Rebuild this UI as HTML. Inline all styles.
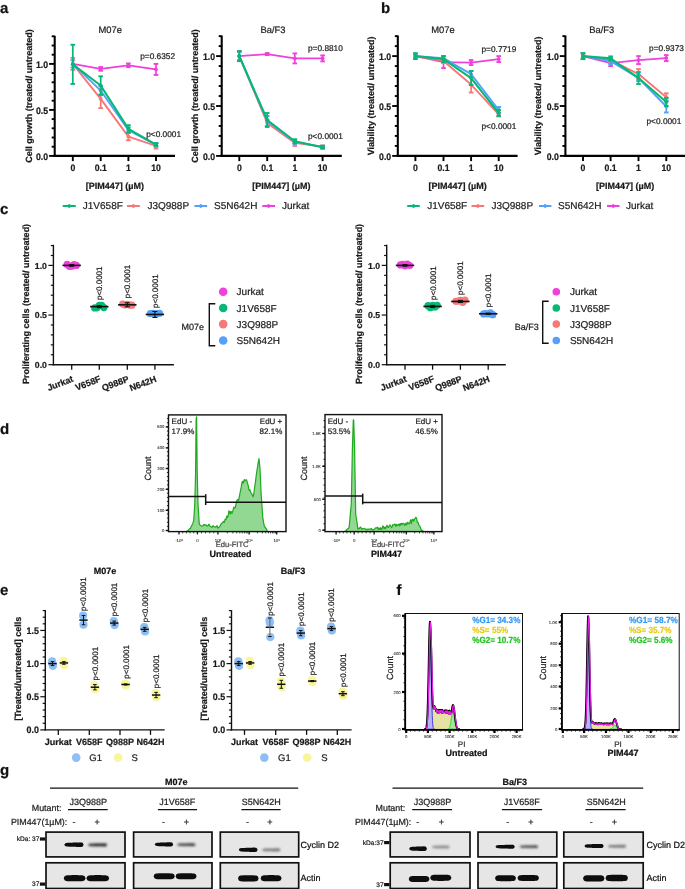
<!DOCTYPE html>
<html><head><meta charset="utf-8"><style>
html,body{margin:0;padding:0;background:#fff;width:685px;height:889px;overflow:hidden}
svg{display:block;font-family:"Liberation Sans",sans-serif;will-change:transform;text-rendering:geometricPrecision}
</style></head><body>
<svg width="685" height="889" viewBox="0 0 685 889">
<text x="0.00" y="12.80" font-size="15" font-weight="bold" text-anchor="start" fill="#111"  stroke="#111" stroke-width="0.22">a</text>
<text x="381.00" y="12.70" font-size="15" font-weight="bold" text-anchor="start" fill="#111"  stroke="#111" stroke-width="0.22">b</text>
<text x="0.00" y="213.60" font-size="15" font-weight="bold" text-anchor="start" fill="#111"  stroke="#111" stroke-width="0.22">c</text>
<text x="0.00" y="433.50" font-size="15" font-weight="bold" text-anchor="start" fill="#111"  stroke="#111" stroke-width="0.22">d</text>
<text x="0.00" y="594.80" font-size="15" font-weight="bold" text-anchor="start" fill="#111"  stroke="#111" stroke-width="0.22">e</text>
<text x="396.50" y="594.50" font-size="15" font-weight="bold" text-anchor="start" fill="#111"  stroke="#111" stroke-width="0.22">f</text>
<text x="0.00" y="775.00" font-size="15" font-weight="bold" text-anchor="start" fill="#111"  stroke="#111" stroke-width="0.22">g</text>
<line x1="54.70" y1="35.80" x2="54.70" y2="156.90" stroke="#000" stroke-width="2.1" />
<line x1="49.10" y1="155.90" x2="54.70" y2="155.90" stroke="#000" stroke-width="1.9" />
<line x1="51.70" y1="146.70" x2="54.70" y2="146.70" stroke="#000" stroke-width="1.9" />
<line x1="51.70" y1="137.50" x2="54.70" y2="137.50" stroke="#000" stroke-width="1.9" />
<line x1="51.70" y1="128.30" x2="54.70" y2="128.30" stroke="#000" stroke-width="1.9" />
<line x1="51.70" y1="119.10" x2="54.70" y2="119.10" stroke="#000" stroke-width="1.9" />
<line x1="49.10" y1="109.90" x2="54.70" y2="109.90" stroke="#000" stroke-width="1.9" />
<line x1="51.70" y1="100.70" x2="54.70" y2="100.70" stroke="#000" stroke-width="1.9" />
<line x1="51.70" y1="91.50" x2="54.70" y2="91.50" stroke="#000" stroke-width="1.9" />
<line x1="51.70" y1="82.30" x2="54.70" y2="82.30" stroke="#000" stroke-width="1.9" />
<line x1="51.70" y1="73.10" x2="54.70" y2="73.10" stroke="#000" stroke-width="1.9" />
<line x1="49.10" y1="63.90" x2="54.70" y2="63.90" stroke="#000" stroke-width="1.9" />
<line x1="51.70" y1="54.70" x2="54.70" y2="54.70" stroke="#000" stroke-width="1.9" />
<line x1="51.70" y1="45.50" x2="54.70" y2="45.50" stroke="#000" stroke-width="1.9" />
<line x1="51.70" y1="36.30" x2="54.70" y2="36.30" stroke="#000" stroke-width="1.9" />
<text transform="translate(48.10,159.50) scale(0.92,1)" font-size="9.5" font-weight="bold" text-anchor="end" fill="#1a1a1a" stroke="#1a1a1a" stroke-width="0.22">0.0</text>
<text transform="translate(48.10,113.50) scale(0.92,1)" font-size="9.5" font-weight="bold" text-anchor="end" fill="#1a1a1a" stroke="#1a1a1a" stroke-width="0.22">0.5</text>
<text transform="translate(48.10,67.50) scale(0.92,1)" font-size="9.5" font-weight="bold" text-anchor="end" fill="#1a1a1a" stroke="#1a1a1a" stroke-width="0.22">1.0</text>
<line x1="53.70" y1="155.90" x2="175.00" y2="155.90" stroke="#000" stroke-width="2.1" />
<line x1="72.80" y1="155.90" x2="72.80" y2="161.10" stroke="#000" stroke-width="1.9" />
<text transform="translate(72.80,171.30) scale(0.93,1)" font-size="9.3" font-weight="bold" text-anchor="middle" fill="#1a1a1a" stroke="#1a1a1a" stroke-width="0.22">0</text>
<line x1="100.70" y1="155.90" x2="100.70" y2="161.10" stroke="#000" stroke-width="1.9" />
<text transform="translate(100.70,171.30) scale(0.93,1)" font-size="9.3" font-weight="bold" text-anchor="middle" fill="#1a1a1a" stroke="#1a1a1a" stroke-width="0.22">0.1</text>
<line x1="128.40" y1="155.90" x2="128.40" y2="161.10" stroke="#000" stroke-width="1.9" />
<text transform="translate(128.40,171.30) scale(0.93,1)" font-size="9.3" font-weight="bold" text-anchor="middle" fill="#1a1a1a" stroke="#1a1a1a" stroke-width="0.22">1</text>
<line x1="156.00" y1="155.90" x2="156.00" y2="161.10" stroke="#000" stroke-width="1.9" />
<text transform="translate(156.00,171.30) scale(0.93,1)" font-size="9.3" font-weight="bold" text-anchor="middle" fill="#1a1a1a" stroke="#1a1a1a" stroke-width="0.22">10</text>
<text x="114.90" y="188.50" font-size="9" font-weight="bold" text-anchor="middle" fill="#1a1a1a"  stroke="#1a1a1a" stroke-width="0.22">[PIM447] (µM)</text>
<text x="110.20" y="32.60" font-size="9.4" font-weight="normal" text-anchor="middle" fill="#222"  stroke="#222" stroke-width="0.22">M07e</text>
<text transform="translate(28.60,96.05) rotate(-90)" x="0" y="3.15" font-size="9" font-weight="bold" text-anchor="middle" fill="#1a1a1a" stroke="#1a1a1a" stroke-width="0.22">Cell growth (treated/ untreated)</text>
<path d="M72.80,63.90 L100.70,68.87 L128.40,65.28 L156.00,69.42" fill="none" stroke="#f040dc" stroke-width="1.8" stroke-linejoin="round"/>
<circle cx="72.80" cy="63.90" r="1.9" fill="#f040dc"/>
<line x1="100.70" y1="67.03" x2="100.70" y2="70.71" stroke="#f040dc" stroke-width="1.7" />
<line x1="98.40" y1="67.03" x2="103.00" y2="67.03" stroke="#f040dc" stroke-width="1.9" />
<line x1="98.40" y1="70.71" x2="103.00" y2="70.71" stroke="#f040dc" stroke-width="1.9" />
<circle cx="100.70" cy="68.87" r="1.9" fill="#f040dc"/>
<line x1="128.40" y1="63.44" x2="128.40" y2="67.12" stroke="#f040dc" stroke-width="1.7" />
<line x1="126.10" y1="63.44" x2="130.70" y2="63.44" stroke="#f040dc" stroke-width="1.9" />
<line x1="126.10" y1="67.12" x2="130.70" y2="67.12" stroke="#f040dc" stroke-width="1.9" />
<circle cx="128.40" cy="65.28" r="1.9" fill="#f040dc"/>
<line x1="156.00" y1="63.90" x2="156.00" y2="74.94" stroke="#f040dc" stroke-width="1.7" />
<line x1="153.70" y1="63.90" x2="158.30" y2="63.90" stroke="#f040dc" stroke-width="1.9" />
<line x1="153.70" y1="74.94" x2="158.30" y2="74.94" stroke="#f040dc" stroke-width="1.9" />
<circle cx="156.00" cy="69.42" r="1.9" fill="#f040dc"/>
<path d="M72.80,63.90 L100.70,98.86 L128.40,136.58 L156.00,145.78" fill="none" stroke="#f87777" stroke-width="1.9" stroke-linejoin="round"/>
<line x1="72.80" y1="57.92" x2="72.80" y2="69.88" stroke="#f87777" stroke-width="1.7" />
<line x1="70.50" y1="57.92" x2="75.10" y2="57.92" stroke="#f87777" stroke-width="1.9" />
<line x1="70.50" y1="69.88" x2="75.10" y2="69.88" stroke="#f87777" stroke-width="1.9" />
<circle cx="72.80" cy="63.90" r="1.9" fill="#f87777"/>
<line x1="100.70" y1="89.66" x2="100.70" y2="108.06" stroke="#f87777" stroke-width="1.7" />
<line x1="98.40" y1="89.66" x2="103.00" y2="89.66" stroke="#f87777" stroke-width="1.9" />
<line x1="98.40" y1="108.06" x2="103.00" y2="108.06" stroke="#f87777" stroke-width="1.9" />
<circle cx="100.70" cy="98.86" r="1.9" fill="#f87777"/>
<line x1="128.40" y1="132.90" x2="128.40" y2="140.26" stroke="#f87777" stroke-width="1.7" />
<line x1="126.10" y1="132.90" x2="130.70" y2="132.90" stroke="#f87777" stroke-width="1.9" />
<line x1="126.10" y1="140.26" x2="130.70" y2="140.26" stroke="#f87777" stroke-width="1.9" />
<circle cx="128.40" cy="136.58" r="1.9" fill="#f87777"/>
<line x1="156.00" y1="143.02" x2="156.00" y2="148.54" stroke="#f87777" stroke-width="1.7" />
<line x1="153.70" y1="143.02" x2="158.30" y2="143.02" stroke="#f87777" stroke-width="1.9" />
<line x1="153.70" y1="148.54" x2="158.30" y2="148.54" stroke="#f87777" stroke-width="1.9" />
<circle cx="156.00" cy="145.78" r="1.9" fill="#f87777"/>
<path d="M72.80,63.90 L100.70,90.58 L128.40,130.14 L156.00,144.86" fill="none" stroke="#55a0fb" stroke-width="1.9" stroke-linejoin="round"/>
<line x1="72.80" y1="60.22" x2="72.80" y2="67.58" stroke="#55a0fb" stroke-width="1.7" />
<line x1="70.50" y1="60.22" x2="75.10" y2="60.22" stroke="#55a0fb" stroke-width="1.9" />
<line x1="70.50" y1="67.58" x2="75.10" y2="67.58" stroke="#55a0fb" stroke-width="1.9" />
<circle cx="72.80" cy="63.90" r="1.9" fill="#55a0fb"/>
<line x1="100.70" y1="85.98" x2="100.70" y2="95.18" stroke="#55a0fb" stroke-width="1.7" />
<line x1="98.40" y1="85.98" x2="103.00" y2="85.98" stroke="#55a0fb" stroke-width="1.9" />
<line x1="98.40" y1="95.18" x2="103.00" y2="95.18" stroke="#55a0fb" stroke-width="1.9" />
<circle cx="100.70" cy="90.58" r="1.9" fill="#55a0fb"/>
<line x1="128.40" y1="127.38" x2="128.40" y2="132.90" stroke="#55a0fb" stroke-width="1.7" />
<line x1="126.10" y1="127.38" x2="130.70" y2="127.38" stroke="#55a0fb" stroke-width="1.9" />
<line x1="126.10" y1="132.90" x2="130.70" y2="132.90" stroke="#55a0fb" stroke-width="1.9" />
<circle cx="128.40" cy="130.14" r="1.9" fill="#55a0fb"/>
<line x1="156.00" y1="143.02" x2="156.00" y2="146.70" stroke="#55a0fb" stroke-width="1.7" />
<line x1="153.70" y1="143.02" x2="158.30" y2="143.02" stroke="#55a0fb" stroke-width="1.9" />
<line x1="153.70" y1="146.70" x2="158.30" y2="146.70" stroke="#55a0fb" stroke-width="1.9" />
<circle cx="156.00" cy="144.86" r="1.9" fill="#55a0fb"/>
<path d="M72.80,64.36 L100.70,85.52 L128.40,128.85 L156.00,144.58" fill="none" stroke="#07b874" stroke-width="2.1" stroke-linejoin="round"/>
<line x1="72.80" y1="44.76" x2="72.80" y2="83.96" stroke="#07b874" stroke-width="1.7" />
<line x1="70.50" y1="44.76" x2="75.10" y2="44.76" stroke="#07b874" stroke-width="1.9" />
<line x1="70.50" y1="83.96" x2="75.10" y2="83.96" stroke="#07b874" stroke-width="1.9" />
<circle cx="72.80" cy="64.36" r="1.9" fill="#07b874"/>
<line x1="100.70" y1="76.32" x2="100.70" y2="94.72" stroke="#07b874" stroke-width="1.7" />
<line x1="98.40" y1="76.32" x2="103.00" y2="76.32" stroke="#07b874" stroke-width="1.9" />
<line x1="98.40" y1="94.72" x2="103.00" y2="94.72" stroke="#07b874" stroke-width="1.9" />
<circle cx="100.70" cy="85.52" r="1.9" fill="#07b874"/>
<line x1="128.40" y1="125.17" x2="128.40" y2="132.53" stroke="#07b874" stroke-width="1.7" />
<line x1="126.10" y1="125.17" x2="130.70" y2="125.17" stroke="#07b874" stroke-width="1.9" />
<line x1="126.10" y1="132.53" x2="130.70" y2="132.53" stroke="#07b874" stroke-width="1.9" />
<circle cx="128.40" cy="128.85" r="1.9" fill="#07b874"/>
<line x1="156.00" y1="143.20" x2="156.00" y2="145.96" stroke="#07b874" stroke-width="1.7" />
<line x1="153.70" y1="143.20" x2="158.30" y2="143.20" stroke="#07b874" stroke-width="1.9" />
<line x1="153.70" y1="145.96" x2="158.30" y2="145.96" stroke="#07b874" stroke-width="1.9" />
<circle cx="156.00" cy="144.58" r="1.9" fill="#07b874"/>
<text x="140.20" y="59.30" font-size="8.3" font-weight="normal" text-anchor="start" fill="#222"  stroke="#222" stroke-width="0.22">p=0.6352</text>
<text x="146.20" y="136.70" font-size="8.3" font-weight="normal" text-anchor="start" fill="#222"  stroke="#222" stroke-width="0.22">p&lt;0.0001</text>
<line x1="221.70" y1="35.50" x2="221.70" y2="156.90" stroke="#000" stroke-width="2.1" />
<line x1="216.10" y1="155.90" x2="221.70" y2="155.90" stroke="#000" stroke-width="1.9" />
<line x1="218.70" y1="145.92" x2="221.70" y2="145.92" stroke="#000" stroke-width="1.9" />
<line x1="218.70" y1="135.94" x2="221.70" y2="135.94" stroke="#000" stroke-width="1.9" />
<line x1="218.70" y1="125.96" x2="221.70" y2="125.96" stroke="#000" stroke-width="1.9" />
<line x1="218.70" y1="115.98" x2="221.70" y2="115.98" stroke="#000" stroke-width="1.9" />
<line x1="216.10" y1="106.00" x2="221.70" y2="106.00" stroke="#000" stroke-width="1.9" />
<line x1="218.70" y1="96.02" x2="221.70" y2="96.02" stroke="#000" stroke-width="1.9" />
<line x1="218.70" y1="86.04" x2="221.70" y2="86.04" stroke="#000" stroke-width="1.9" />
<line x1="218.70" y1="76.06" x2="221.70" y2="76.06" stroke="#000" stroke-width="1.9" />
<line x1="218.70" y1="66.08" x2="221.70" y2="66.08" stroke="#000" stroke-width="1.9" />
<line x1="216.10" y1="56.10" x2="221.70" y2="56.10" stroke="#000" stroke-width="1.9" />
<line x1="218.70" y1="46.12" x2="221.70" y2="46.12" stroke="#000" stroke-width="1.9" />
<line x1="218.70" y1="36.14" x2="221.70" y2="36.14" stroke="#000" stroke-width="1.9" />
<text transform="translate(215.10,159.50) scale(0.92,1)" font-size="9.5" font-weight="bold" text-anchor="end" fill="#1a1a1a" stroke="#1a1a1a" stroke-width="0.22">0.0</text>
<text transform="translate(215.10,109.60) scale(0.92,1)" font-size="9.5" font-weight="bold" text-anchor="end" fill="#1a1a1a" stroke="#1a1a1a" stroke-width="0.22">0.5</text>
<text transform="translate(215.10,59.70) scale(0.92,1)" font-size="9.5" font-weight="bold" text-anchor="end" fill="#1a1a1a" stroke="#1a1a1a" stroke-width="0.22">1.0</text>
<line x1="220.70" y1="155.90" x2="341.80" y2="155.90" stroke="#000" stroke-width="2.1" />
<line x1="239.30" y1="155.90" x2="239.30" y2="161.10" stroke="#000" stroke-width="1.9" />
<text transform="translate(239.30,171.30) scale(0.93,1)" font-size="9.3" font-weight="bold" text-anchor="middle" fill="#1a1a1a" stroke="#1a1a1a" stroke-width="0.22">0</text>
<line x1="267.20" y1="155.90" x2="267.20" y2="161.10" stroke="#000" stroke-width="1.9" />
<text transform="translate(267.20,171.30) scale(0.93,1)" font-size="9.3" font-weight="bold" text-anchor="middle" fill="#1a1a1a" stroke="#1a1a1a" stroke-width="0.22">0.1</text>
<line x1="294.80" y1="155.90" x2="294.80" y2="161.10" stroke="#000" stroke-width="1.9" />
<text transform="translate(294.80,171.30) scale(0.93,1)" font-size="9.3" font-weight="bold" text-anchor="middle" fill="#1a1a1a" stroke="#1a1a1a" stroke-width="0.22">1</text>
<line x1="322.60" y1="155.90" x2="322.60" y2="161.10" stroke="#000" stroke-width="1.9" />
<text transform="translate(322.60,171.30) scale(0.93,1)" font-size="9.3" font-weight="bold" text-anchor="middle" fill="#1a1a1a" stroke="#1a1a1a" stroke-width="0.22">10</text>
<text x="281.45" y="188.50" font-size="9" font-weight="bold" text-anchor="middle" fill="#1a1a1a"  stroke="#1a1a1a" stroke-width="0.22">[PIM447] (µM)</text>
<text x="273.00" y="32.60" font-size="9.4" font-weight="normal" text-anchor="middle" fill="#222"  stroke="#222" stroke-width="0.22">Ba/F3</text>
<text transform="translate(194.50,95.90) rotate(-90)" x="0" y="3.15" font-size="9" font-weight="bold" text-anchor="middle" fill="#1a1a1a" stroke="#1a1a1a" stroke-width="0.22">Cell growth (treated/ untreated)</text>
<path d="M239.30,56.10 L267.20,54.10 L294.80,58.40 L322.60,58.40" fill="none" stroke="#f040dc" stroke-width="1.8" stroke-linejoin="round"/>
<circle cx="239.30" cy="56.10" r="1.9" fill="#f040dc"/>
<line x1="267.20" y1="53.11" x2="267.20" y2="55.10" stroke="#f040dc" stroke-width="1.7" />
<line x1="264.90" y1="53.11" x2="269.50" y2="53.11" stroke="#f040dc" stroke-width="1.9" />
<line x1="264.90" y1="55.10" x2="269.50" y2="55.10" stroke="#f040dc" stroke-width="1.9" />
<circle cx="267.20" cy="54.10" r="1.9" fill="#f040dc"/>
<line x1="294.80" y1="53.41" x2="294.80" y2="63.39" stroke="#f040dc" stroke-width="1.7" />
<line x1="292.50" y1="53.41" x2="297.10" y2="53.41" stroke="#f040dc" stroke-width="1.9" />
<line x1="292.50" y1="63.39" x2="297.10" y2="63.39" stroke="#f040dc" stroke-width="1.9" />
<circle cx="294.80" cy="58.40" r="1.9" fill="#f040dc"/>
<line x1="322.60" y1="55.40" x2="322.60" y2="61.39" stroke="#f040dc" stroke-width="1.7" />
<line x1="320.30" y1="55.40" x2="324.90" y2="55.40" stroke="#f040dc" stroke-width="1.9" />
<line x1="320.30" y1="61.39" x2="324.90" y2="61.39" stroke="#f040dc" stroke-width="1.9" />
<circle cx="322.60" cy="58.40" r="1.9" fill="#f040dc"/>
<path d="M239.30,56.10 L267.20,122.97 L294.80,142.93 L322.60,146.92" fill="none" stroke="#f87777" stroke-width="1.9" stroke-linejoin="round"/>
<line x1="239.30" y1="51.11" x2="239.30" y2="61.09" stroke="#f87777" stroke-width="1.7" />
<line x1="237.00" y1="51.11" x2="241.60" y2="51.11" stroke="#f87777" stroke-width="1.9" />
<line x1="237.00" y1="61.09" x2="241.60" y2="61.09" stroke="#f87777" stroke-width="1.9" />
<circle cx="239.30" cy="56.10" r="1.9" fill="#f87777"/>
<line x1="267.20" y1="119.97" x2="267.20" y2="125.96" stroke="#f87777" stroke-width="1.7" />
<line x1="264.90" y1="119.97" x2="269.50" y2="119.97" stroke="#f87777" stroke-width="1.9" />
<line x1="264.90" y1="125.96" x2="269.50" y2="125.96" stroke="#f87777" stroke-width="1.9" />
<circle cx="267.20" cy="122.97" r="1.9" fill="#f87777"/>
<line x1="294.80" y1="139.93" x2="294.80" y2="145.92" stroke="#f87777" stroke-width="1.7" />
<line x1="292.50" y1="139.93" x2="297.10" y2="139.93" stroke="#f87777" stroke-width="1.9" />
<line x1="292.50" y1="145.92" x2="297.10" y2="145.92" stroke="#f87777" stroke-width="1.9" />
<circle cx="294.80" cy="142.93" r="1.9" fill="#f87777"/>
<line x1="322.60" y1="145.42" x2="322.60" y2="148.42" stroke="#f87777" stroke-width="1.7" />
<line x1="320.30" y1="145.42" x2="324.90" y2="145.42" stroke="#f87777" stroke-width="1.9" />
<line x1="320.30" y1="148.42" x2="324.90" y2="148.42" stroke="#f87777" stroke-width="1.9" />
<circle cx="322.60" cy="146.92" r="1.9" fill="#f87777"/>
<path d="M239.30,56.10 L267.20,120.97 L294.80,141.93 L322.60,146.92" fill="none" stroke="#55a0fb" stroke-width="1.9" stroke-linejoin="round"/>
<line x1="239.30" y1="52.11" x2="239.30" y2="60.09" stroke="#55a0fb" stroke-width="1.7" />
<line x1="237.00" y1="52.11" x2="241.60" y2="52.11" stroke="#55a0fb" stroke-width="1.9" />
<line x1="237.00" y1="60.09" x2="241.60" y2="60.09" stroke="#55a0fb" stroke-width="1.9" />
<circle cx="239.30" cy="56.10" r="1.9" fill="#55a0fb"/>
<line x1="267.20" y1="115.98" x2="267.20" y2="125.96" stroke="#55a0fb" stroke-width="1.7" />
<line x1="264.90" y1="115.98" x2="269.50" y2="115.98" stroke="#55a0fb" stroke-width="1.9" />
<line x1="264.90" y1="125.96" x2="269.50" y2="125.96" stroke="#55a0fb" stroke-width="1.9" />
<circle cx="267.20" cy="120.97" r="1.9" fill="#55a0fb"/>
<line x1="294.80" y1="139.93" x2="294.80" y2="143.92" stroke="#55a0fb" stroke-width="1.7" />
<line x1="292.50" y1="139.93" x2="297.10" y2="139.93" stroke="#55a0fb" stroke-width="1.9" />
<line x1="292.50" y1="143.92" x2="297.10" y2="143.92" stroke="#55a0fb" stroke-width="1.9" />
<circle cx="294.80" cy="141.93" r="1.9" fill="#55a0fb"/>
<line x1="322.60" y1="145.92" x2="322.60" y2="147.92" stroke="#55a0fb" stroke-width="1.7" />
<line x1="320.30" y1="145.92" x2="324.90" y2="145.92" stroke="#55a0fb" stroke-width="1.9" />
<line x1="320.30" y1="147.92" x2="324.90" y2="147.92" stroke="#55a0fb" stroke-width="1.9" />
<circle cx="322.60" cy="146.92" r="1.9" fill="#55a0fb"/>
<path d="M239.30,56.10 L267.20,119.97 L294.80,141.23 L322.60,147.22" fill="none" stroke="#07b874" stroke-width="2.1" stroke-linejoin="round"/>
<line x1="239.30" y1="51.11" x2="239.30" y2="61.09" stroke="#07b874" stroke-width="1.7" />
<line x1="237.00" y1="51.11" x2="241.60" y2="51.11" stroke="#07b874" stroke-width="1.9" />
<line x1="237.00" y1="61.09" x2="241.60" y2="61.09" stroke="#07b874" stroke-width="1.9" />
<circle cx="239.30" cy="56.10" r="1.9" fill="#07b874"/>
<line x1="267.20" y1="112.99" x2="267.20" y2="126.96" stroke="#07b874" stroke-width="1.7" />
<line x1="264.90" y1="112.99" x2="269.50" y2="112.99" stroke="#07b874" stroke-width="1.9" />
<line x1="264.90" y1="126.96" x2="269.50" y2="126.96" stroke="#07b874" stroke-width="1.9" />
<circle cx="267.20" cy="119.97" r="1.9" fill="#07b874"/>
<line x1="294.80" y1="139.23" x2="294.80" y2="143.23" stroke="#07b874" stroke-width="1.7" />
<line x1="292.50" y1="139.23" x2="297.10" y2="139.23" stroke="#07b874" stroke-width="1.9" />
<line x1="292.50" y1="143.23" x2="297.10" y2="143.23" stroke="#07b874" stroke-width="1.9" />
<circle cx="294.80" cy="141.23" r="1.9" fill="#07b874"/>
<line x1="322.60" y1="145.72" x2="322.60" y2="148.71" stroke="#07b874" stroke-width="1.7" />
<line x1="320.30" y1="145.72" x2="324.90" y2="145.72" stroke="#07b874" stroke-width="1.9" />
<line x1="320.30" y1="148.71" x2="324.90" y2="148.71" stroke="#07b874" stroke-width="1.9" />
<circle cx="322.60" cy="147.22" r="1.9" fill="#07b874"/>
<text x="308.00" y="50.50" font-size="8.3" font-weight="normal" text-anchor="start" fill="#222"  stroke="#222" stroke-width="0.22">p=0.8810</text>
<text x="308.00" y="139.40" font-size="8.3" font-weight="normal" text-anchor="start" fill="#222"  stroke="#222" stroke-width="0.22">p&lt;0.0001</text>
<line x1="397.80" y1="35.50" x2="397.80" y2="156.90" stroke="#000" stroke-width="2.1" />
<line x1="392.20" y1="155.90" x2="397.80" y2="155.90" stroke="#000" stroke-width="1.9" />
<line x1="394.80" y1="145.92" x2="397.80" y2="145.92" stroke="#000" stroke-width="1.9" />
<line x1="394.80" y1="135.94" x2="397.80" y2="135.94" stroke="#000" stroke-width="1.9" />
<line x1="394.80" y1="125.96" x2="397.80" y2="125.96" stroke="#000" stroke-width="1.9" />
<line x1="394.80" y1="115.98" x2="397.80" y2="115.98" stroke="#000" stroke-width="1.9" />
<line x1="392.20" y1="106.00" x2="397.80" y2="106.00" stroke="#000" stroke-width="1.9" />
<line x1="394.80" y1="96.02" x2="397.80" y2="96.02" stroke="#000" stroke-width="1.9" />
<line x1="394.80" y1="86.04" x2="397.80" y2="86.04" stroke="#000" stroke-width="1.9" />
<line x1="394.80" y1="76.06" x2="397.80" y2="76.06" stroke="#000" stroke-width="1.9" />
<line x1="394.80" y1="66.08" x2="397.80" y2="66.08" stroke="#000" stroke-width="1.9" />
<line x1="392.20" y1="56.10" x2="397.80" y2="56.10" stroke="#000" stroke-width="1.9" />
<line x1="394.80" y1="46.12" x2="397.80" y2="46.12" stroke="#000" stroke-width="1.9" />
<line x1="394.80" y1="36.14" x2="397.80" y2="36.14" stroke="#000" stroke-width="1.9" />
<text transform="translate(391.20,159.50) scale(0.92,1)" font-size="9.5" font-weight="bold" text-anchor="end" fill="#1a1a1a" stroke="#1a1a1a" stroke-width="0.22">0.0</text>
<text transform="translate(391.20,109.60) scale(0.92,1)" font-size="9.5" font-weight="bold" text-anchor="end" fill="#1a1a1a" stroke="#1a1a1a" stroke-width="0.22">0.5</text>
<text transform="translate(391.20,59.70) scale(0.92,1)" font-size="9.5" font-weight="bold" text-anchor="end" fill="#1a1a1a" stroke="#1a1a1a" stroke-width="0.22">1.0</text>
<line x1="396.80" y1="155.90" x2="517.60" y2="155.90" stroke="#000" stroke-width="2.1" />
<line x1="415.40" y1="155.90" x2="415.40" y2="161.10" stroke="#000" stroke-width="1.9" />
<text transform="translate(415.40,171.30) scale(0.93,1)" font-size="9.3" font-weight="bold" text-anchor="middle" fill="#1a1a1a" stroke="#1a1a1a" stroke-width="0.22">0</text>
<line x1="443.50" y1="155.90" x2="443.50" y2="161.10" stroke="#000" stroke-width="1.9" />
<text transform="translate(443.50,171.30) scale(0.93,1)" font-size="9.3" font-weight="bold" text-anchor="middle" fill="#1a1a1a" stroke="#1a1a1a" stroke-width="0.22">0.1</text>
<line x1="471.10" y1="155.90" x2="471.10" y2="161.10" stroke="#000" stroke-width="1.9" />
<text transform="translate(471.10,171.30) scale(0.93,1)" font-size="9.3" font-weight="bold" text-anchor="middle" fill="#1a1a1a" stroke="#1a1a1a" stroke-width="0.22">1</text>
<line x1="498.70" y1="155.90" x2="498.70" y2="161.10" stroke="#000" stroke-width="1.9" />
<text transform="translate(498.70,171.30) scale(0.93,1)" font-size="9.3" font-weight="bold" text-anchor="middle" fill="#1a1a1a" stroke="#1a1a1a" stroke-width="0.22">10</text>
<text x="457.55" y="188.50" font-size="9" font-weight="bold" text-anchor="middle" fill="#1a1a1a"  stroke="#1a1a1a" stroke-width="0.22">[PIM447] (µM)</text>
<text x="443.00" y="32.60" font-size="9.4" font-weight="normal" text-anchor="middle" fill="#222"  stroke="#222" stroke-width="0.22">M07e</text>
<text transform="translate(371.00,95.90) rotate(-90)" x="0" y="3.15" font-size="9" font-weight="bold" text-anchor="middle" fill="#1a1a1a" stroke="#1a1a1a" stroke-width="0.22">Viability (treated/ untreated)</text>
<path d="M415.40,56.10 L443.50,62.09 L471.10,62.59 L498.70,59.09" fill="none" stroke="#f040dc" stroke-width="1.8" stroke-linejoin="round"/>
<circle cx="415.40" cy="56.10" r="1.9" fill="#f040dc"/>
<line x1="443.50" y1="56.10" x2="443.50" y2="68.08" stroke="#f040dc" stroke-width="1.7" />
<line x1="441.20" y1="56.10" x2="445.80" y2="56.10" stroke="#f040dc" stroke-width="1.9" />
<line x1="441.20" y1="68.08" x2="445.80" y2="68.08" stroke="#f040dc" stroke-width="1.9" />
<circle cx="443.50" cy="62.09" r="1.9" fill="#f040dc"/>
<line x1="471.10" y1="60.09" x2="471.10" y2="65.08" stroke="#f040dc" stroke-width="1.7" />
<line x1="468.80" y1="60.09" x2="473.40" y2="60.09" stroke="#f040dc" stroke-width="1.9" />
<line x1="468.80" y1="65.08" x2="473.40" y2="65.08" stroke="#f040dc" stroke-width="1.9" />
<circle cx="471.10" cy="62.59" r="1.9" fill="#f040dc"/>
<line x1="498.70" y1="56.10" x2="498.70" y2="62.09" stroke="#f040dc" stroke-width="1.7" />
<line x1="496.40" y1="56.10" x2="501.00" y2="56.10" stroke="#f040dc" stroke-width="1.9" />
<line x1="496.40" y1="62.09" x2="501.00" y2="62.09" stroke="#f040dc" stroke-width="1.9" />
<circle cx="498.70" cy="59.09" r="1.9" fill="#f040dc"/>
<path d="M415.40,56.10 L443.50,61.09 L471.10,84.54 L498.70,114.48" fill="none" stroke="#f87777" stroke-width="1.9" stroke-linejoin="round"/>
<line x1="415.40" y1="54.10" x2="415.40" y2="58.10" stroke="#f87777" stroke-width="1.7" />
<line x1="413.10" y1="54.10" x2="417.70" y2="54.10" stroke="#f87777" stroke-width="1.9" />
<line x1="413.10" y1="58.10" x2="417.70" y2="58.10" stroke="#f87777" stroke-width="1.9" />
<circle cx="415.40" cy="56.10" r="1.9" fill="#f87777"/>
<line x1="443.50" y1="59.09" x2="443.50" y2="63.09" stroke="#f87777" stroke-width="1.7" />
<line x1="441.20" y1="59.09" x2="445.80" y2="59.09" stroke="#f87777" stroke-width="1.9" />
<line x1="441.20" y1="63.09" x2="445.80" y2="63.09" stroke="#f87777" stroke-width="1.9" />
<circle cx="443.50" cy="61.09" r="1.9" fill="#f87777"/>
<line x1="471.10" y1="76.56" x2="471.10" y2="92.53" stroke="#f87777" stroke-width="1.7" />
<line x1="468.80" y1="76.56" x2="473.40" y2="76.56" stroke="#f87777" stroke-width="1.9" />
<line x1="468.80" y1="92.53" x2="473.40" y2="92.53" stroke="#f87777" stroke-width="1.9" />
<circle cx="471.10" cy="84.54" r="1.9" fill="#f87777"/>
<line x1="498.70" y1="112.49" x2="498.70" y2="116.48" stroke="#f87777" stroke-width="1.7" />
<line x1="496.40" y1="112.49" x2="501.00" y2="112.49" stroke="#f87777" stroke-width="1.9" />
<line x1="496.40" y1="116.48" x2="501.00" y2="116.48" stroke="#f87777" stroke-width="1.9" />
<circle cx="498.70" cy="114.48" r="1.9" fill="#f87777"/>
<path d="M415.40,56.10 L443.50,58.10 L471.10,74.06 L498.70,109.99" fill="none" stroke="#55a0fb" stroke-width="1.9" stroke-linejoin="round"/>
<line x1="415.40" y1="54.10" x2="415.40" y2="58.10" stroke="#55a0fb" stroke-width="1.7" />
<line x1="413.10" y1="54.10" x2="417.70" y2="54.10" stroke="#55a0fb" stroke-width="1.9" />
<line x1="413.10" y1="58.10" x2="417.70" y2="58.10" stroke="#55a0fb" stroke-width="1.9" />
<circle cx="415.40" cy="56.10" r="1.9" fill="#55a0fb"/>
<line x1="443.50" y1="56.10" x2="443.50" y2="60.09" stroke="#55a0fb" stroke-width="1.7" />
<line x1="441.20" y1="56.10" x2="445.80" y2="56.10" stroke="#55a0fb" stroke-width="1.9" />
<line x1="441.20" y1="60.09" x2="445.80" y2="60.09" stroke="#55a0fb" stroke-width="1.9" />
<circle cx="443.50" cy="58.10" r="1.9" fill="#55a0fb"/>
<line x1="471.10" y1="71.07" x2="471.10" y2="77.06" stroke="#55a0fb" stroke-width="1.7" />
<line x1="468.80" y1="71.07" x2="473.40" y2="71.07" stroke="#55a0fb" stroke-width="1.9" />
<line x1="468.80" y1="77.06" x2="473.40" y2="77.06" stroke="#55a0fb" stroke-width="1.9" />
<circle cx="471.10" cy="74.06" r="1.9" fill="#55a0fb"/>
<line x1="498.70" y1="107.00" x2="498.70" y2="112.99" stroke="#55a0fb" stroke-width="1.7" />
<line x1="496.40" y1="107.00" x2="501.00" y2="107.00" stroke="#55a0fb" stroke-width="1.9" />
<line x1="496.40" y1="112.99" x2="501.00" y2="112.99" stroke="#55a0fb" stroke-width="1.9" />
<circle cx="498.70" cy="109.99" r="1.9" fill="#55a0fb"/>
<path d="M415.40,56.10 L443.50,59.09 L471.10,78.06 L498.70,112.99" fill="none" stroke="#07b874" stroke-width="2.1" stroke-linejoin="round"/>
<line x1="415.40" y1="53.11" x2="415.40" y2="59.09" stroke="#07b874" stroke-width="1.7" />
<line x1="413.10" y1="53.11" x2="417.70" y2="53.11" stroke="#07b874" stroke-width="1.9" />
<line x1="413.10" y1="59.09" x2="417.70" y2="59.09" stroke="#07b874" stroke-width="1.9" />
<circle cx="415.40" cy="56.10" r="1.9" fill="#07b874"/>
<line x1="443.50" y1="56.10" x2="443.50" y2="62.09" stroke="#07b874" stroke-width="1.7" />
<line x1="441.20" y1="56.10" x2="445.80" y2="56.10" stroke="#07b874" stroke-width="1.9" />
<line x1="441.20" y1="62.09" x2="445.80" y2="62.09" stroke="#07b874" stroke-width="1.9" />
<circle cx="443.50" cy="59.09" r="1.9" fill="#07b874"/>
<line x1="471.10" y1="71.07" x2="471.10" y2="85.04" stroke="#07b874" stroke-width="1.7" />
<line x1="468.80" y1="71.07" x2="473.40" y2="71.07" stroke="#07b874" stroke-width="1.9" />
<line x1="468.80" y1="85.04" x2="473.40" y2="85.04" stroke="#07b874" stroke-width="1.9" />
<circle cx="471.10" cy="78.06" r="1.9" fill="#07b874"/>
<line x1="498.70" y1="109.99" x2="498.70" y2="115.98" stroke="#07b874" stroke-width="1.7" />
<line x1="496.40" y1="109.99" x2="501.00" y2="109.99" stroke="#07b874" stroke-width="1.9" />
<line x1="496.40" y1="115.98" x2="501.00" y2="115.98" stroke="#07b874" stroke-width="1.9" />
<circle cx="498.70" cy="112.99" r="1.9" fill="#07b874"/>
<text x="481.50" y="52.10" font-size="8.3" font-weight="normal" text-anchor="start" fill="#222"  stroke="#222" stroke-width="0.22">p=0.7719</text>
<text x="481.50" y="128.80" font-size="8.3" font-weight="normal" text-anchor="start" fill="#222"  stroke="#222" stroke-width="0.22">p&lt;0.0001</text>
<line x1="565.40" y1="35.50" x2="565.40" y2="156.90" stroke="#000" stroke-width="2.1" />
<line x1="559.80" y1="155.90" x2="565.40" y2="155.90" stroke="#000" stroke-width="1.9" />
<line x1="562.40" y1="145.92" x2="565.40" y2="145.92" stroke="#000" stroke-width="1.9" />
<line x1="562.40" y1="135.94" x2="565.40" y2="135.94" stroke="#000" stroke-width="1.9" />
<line x1="562.40" y1="125.96" x2="565.40" y2="125.96" stroke="#000" stroke-width="1.9" />
<line x1="562.40" y1="115.98" x2="565.40" y2="115.98" stroke="#000" stroke-width="1.9" />
<line x1="559.80" y1="106.00" x2="565.40" y2="106.00" stroke="#000" stroke-width="1.9" />
<line x1="562.40" y1="96.02" x2="565.40" y2="96.02" stroke="#000" stroke-width="1.9" />
<line x1="562.40" y1="86.04" x2="565.40" y2="86.04" stroke="#000" stroke-width="1.9" />
<line x1="562.40" y1="76.06" x2="565.40" y2="76.06" stroke="#000" stroke-width="1.9" />
<line x1="562.40" y1="66.08" x2="565.40" y2="66.08" stroke="#000" stroke-width="1.9" />
<line x1="559.80" y1="56.10" x2="565.40" y2="56.10" stroke="#000" stroke-width="1.9" />
<line x1="562.40" y1="46.12" x2="565.40" y2="46.12" stroke="#000" stroke-width="1.9" />
<line x1="562.40" y1="36.14" x2="565.40" y2="36.14" stroke="#000" stroke-width="1.9" />
<text transform="translate(558.80,159.50) scale(0.92,1)" font-size="9.5" font-weight="bold" text-anchor="end" fill="#1a1a1a" stroke="#1a1a1a" stroke-width="0.22">0.0</text>
<text transform="translate(558.80,109.60) scale(0.92,1)" font-size="9.5" font-weight="bold" text-anchor="end" fill="#1a1a1a" stroke="#1a1a1a" stroke-width="0.22">0.5</text>
<text transform="translate(558.80,59.70) scale(0.92,1)" font-size="9.5" font-weight="bold" text-anchor="end" fill="#1a1a1a" stroke="#1a1a1a" stroke-width="0.22">1.0</text>
<line x1="564.40" y1="155.90" x2="685.50" y2="155.90" stroke="#000" stroke-width="2.1" />
<line x1="583.00" y1="155.90" x2="583.00" y2="161.10" stroke="#000" stroke-width="1.9" />
<text transform="translate(583.00,171.30) scale(0.93,1)" font-size="9.3" font-weight="bold" text-anchor="middle" fill="#1a1a1a" stroke="#1a1a1a" stroke-width="0.22">0</text>
<line x1="610.60" y1="155.90" x2="610.60" y2="161.10" stroke="#000" stroke-width="1.9" />
<text transform="translate(610.60,171.30) scale(0.93,1)" font-size="9.3" font-weight="bold" text-anchor="middle" fill="#1a1a1a" stroke="#1a1a1a" stroke-width="0.22">0.1</text>
<line x1="638.50" y1="155.90" x2="638.50" y2="161.10" stroke="#000" stroke-width="1.9" />
<text transform="translate(638.50,171.30) scale(0.93,1)" font-size="9.3" font-weight="bold" text-anchor="middle" fill="#1a1a1a" stroke="#1a1a1a" stroke-width="0.22">1</text>
<line x1="666.30" y1="155.90" x2="666.30" y2="161.10" stroke="#000" stroke-width="1.9" />
<text transform="translate(666.30,171.30) scale(0.93,1)" font-size="9.3" font-weight="bold" text-anchor="middle" fill="#1a1a1a" stroke="#1a1a1a" stroke-width="0.22">10</text>
<text x="625.15" y="188.50" font-size="9" font-weight="bold" text-anchor="middle" fill="#1a1a1a"  stroke="#1a1a1a" stroke-width="0.22">[PIM447] (µM)</text>
<text x="601.70" y="32.60" font-size="9.4" font-weight="normal" text-anchor="middle" fill="#222"  stroke="#222" stroke-width="0.22">Ba/F3</text>
<text transform="translate(538.00,95.90) rotate(-90)" x="0" y="3.15" font-size="9" font-weight="bold" text-anchor="middle" fill="#1a1a1a" stroke="#1a1a1a" stroke-width="0.22">Viability (treated/ untreated)</text>
<path d="M583.00,56.10 L610.60,63.09 L638.50,60.09 L666.30,58.10" fill="none" stroke="#f040dc" stroke-width="1.8" stroke-linejoin="round"/>
<circle cx="583.00" cy="56.10" r="1.9" fill="#f040dc"/>
<line x1="610.60" y1="60.09" x2="610.60" y2="66.08" stroke="#f040dc" stroke-width="1.7" />
<line x1="608.30" y1="60.09" x2="612.90" y2="60.09" stroke="#f040dc" stroke-width="1.9" />
<line x1="608.30" y1="66.08" x2="612.90" y2="66.08" stroke="#f040dc" stroke-width="1.9" />
<circle cx="610.60" cy="63.09" r="1.9" fill="#f040dc"/>
<line x1="638.50" y1="56.10" x2="638.50" y2="64.08" stroke="#f040dc" stroke-width="1.7" />
<line x1="636.20" y1="56.10" x2="640.80" y2="56.10" stroke="#f040dc" stroke-width="1.9" />
<line x1="636.20" y1="64.08" x2="640.80" y2="64.08" stroke="#f040dc" stroke-width="1.9" />
<circle cx="638.50" cy="60.09" r="1.9" fill="#f040dc"/>
<line x1="666.30" y1="55.10" x2="666.30" y2="61.09" stroke="#f040dc" stroke-width="1.7" />
<line x1="664.00" y1="55.10" x2="668.60" y2="55.10" stroke="#f040dc" stroke-width="1.9" />
<line x1="664.00" y1="61.09" x2="668.60" y2="61.09" stroke="#f040dc" stroke-width="1.9" />
<circle cx="666.30" cy="58.10" r="1.9" fill="#f040dc"/>
<path d="M583.00,56.10 L610.60,60.09 L638.50,74.06 L666.30,97.32" fill="none" stroke="#f87777" stroke-width="1.9" stroke-linejoin="round"/>
<line x1="583.00" y1="54.10" x2="583.00" y2="58.10" stroke="#f87777" stroke-width="1.7" />
<line x1="580.70" y1="54.10" x2="585.30" y2="54.10" stroke="#f87777" stroke-width="1.9" />
<line x1="580.70" y1="58.10" x2="585.30" y2="58.10" stroke="#f87777" stroke-width="1.9" />
<circle cx="583.00" cy="56.10" r="1.9" fill="#f87777"/>
<line x1="610.60" y1="58.10" x2="610.60" y2="62.09" stroke="#f87777" stroke-width="1.7" />
<line x1="608.30" y1="58.10" x2="612.90" y2="58.10" stroke="#f87777" stroke-width="1.9" />
<line x1="608.30" y1="62.09" x2="612.90" y2="62.09" stroke="#f87777" stroke-width="1.9" />
<circle cx="610.60" cy="60.09" r="1.9" fill="#f87777"/>
<line x1="638.50" y1="69.07" x2="638.50" y2="79.05" stroke="#f87777" stroke-width="1.7" />
<line x1="636.20" y1="69.07" x2="640.80" y2="69.07" stroke="#f87777" stroke-width="1.9" />
<line x1="636.20" y1="79.05" x2="640.80" y2="79.05" stroke="#f87777" stroke-width="1.9" />
<circle cx="638.50" cy="74.06" r="1.9" fill="#f87777"/>
<line x1="666.30" y1="93.33" x2="666.30" y2="101.31" stroke="#f87777" stroke-width="1.7" />
<line x1="664.00" y1="93.33" x2="668.60" y2="93.33" stroke="#f87777" stroke-width="1.9" />
<line x1="664.00" y1="101.31" x2="668.60" y2="101.31" stroke="#f87777" stroke-width="1.9" />
<circle cx="666.30" cy="97.32" r="1.9" fill="#f87777"/>
<path d="M583.00,56.10 L610.60,61.09 L638.50,78.06 L666.30,106.50" fill="none" stroke="#55a0fb" stroke-width="1.9" stroke-linejoin="round"/>
<line x1="583.00" y1="53.11" x2="583.00" y2="59.09" stroke="#55a0fb" stroke-width="1.7" />
<line x1="580.70" y1="53.11" x2="585.30" y2="53.11" stroke="#55a0fb" stroke-width="1.9" />
<line x1="580.70" y1="59.09" x2="585.30" y2="59.09" stroke="#55a0fb" stroke-width="1.9" />
<circle cx="583.00" cy="56.10" r="1.9" fill="#55a0fb"/>
<line x1="610.60" y1="58.10" x2="610.60" y2="64.08" stroke="#55a0fb" stroke-width="1.7" />
<line x1="608.30" y1="58.10" x2="612.90" y2="58.10" stroke="#55a0fb" stroke-width="1.9" />
<line x1="608.30" y1="64.08" x2="612.90" y2="64.08" stroke="#55a0fb" stroke-width="1.9" />
<circle cx="610.60" cy="61.09" r="1.9" fill="#55a0fb"/>
<line x1="638.50" y1="75.06" x2="638.50" y2="81.05" stroke="#55a0fb" stroke-width="1.7" />
<line x1="636.20" y1="75.06" x2="640.80" y2="75.06" stroke="#55a0fb" stroke-width="1.9" />
<line x1="636.20" y1="81.05" x2="640.80" y2="81.05" stroke="#55a0fb" stroke-width="1.9" />
<circle cx="638.50" cy="78.06" r="1.9" fill="#55a0fb"/>
<line x1="666.30" y1="100.51" x2="666.30" y2="112.49" stroke="#55a0fb" stroke-width="1.7" />
<line x1="664.00" y1="100.51" x2="668.60" y2="100.51" stroke="#55a0fb" stroke-width="1.9" />
<line x1="664.00" y1="112.49" x2="668.60" y2="112.49" stroke="#55a0fb" stroke-width="1.9" />
<circle cx="666.30" cy="106.50" r="1.9" fill="#55a0fb"/>
<path d="M583.00,56.10 L610.60,58.40 L638.50,78.06 L666.30,102.01" fill="none" stroke="#07b874" stroke-width="2.1" stroke-linejoin="round"/>
<line x1="583.00" y1="53.11" x2="583.00" y2="59.09" stroke="#07b874" stroke-width="1.7" />
<line x1="580.70" y1="53.11" x2="585.30" y2="53.11" stroke="#07b874" stroke-width="1.9" />
<line x1="580.70" y1="59.09" x2="585.30" y2="59.09" stroke="#07b874" stroke-width="1.9" />
<circle cx="583.00" cy="56.10" r="1.9" fill="#07b874"/>
<line x1="610.60" y1="56.40" x2="610.60" y2="60.39" stroke="#07b874" stroke-width="1.7" />
<line x1="608.30" y1="56.40" x2="612.90" y2="56.40" stroke="#07b874" stroke-width="1.9" />
<line x1="608.30" y1="60.39" x2="612.90" y2="60.39" stroke="#07b874" stroke-width="1.9" />
<circle cx="610.60" cy="58.40" r="1.9" fill="#07b874"/>
<line x1="638.50" y1="72.07" x2="638.50" y2="84.04" stroke="#07b874" stroke-width="1.7" />
<line x1="636.20" y1="72.07" x2="640.80" y2="72.07" stroke="#07b874" stroke-width="1.9" />
<line x1="636.20" y1="84.04" x2="640.80" y2="84.04" stroke="#07b874" stroke-width="1.9" />
<circle cx="638.50" cy="78.06" r="1.9" fill="#07b874"/>
<line x1="666.30" y1="98.02" x2="666.30" y2="106.00" stroke="#07b874" stroke-width="1.7" />
<line x1="664.00" y1="98.02" x2="668.60" y2="98.02" stroke="#07b874" stroke-width="1.9" />
<line x1="664.00" y1="106.00" x2="668.60" y2="106.00" stroke="#07b874" stroke-width="1.9" />
<circle cx="666.30" cy="102.01" r="1.9" fill="#07b874"/>
<text x="649.10" y="50.80" font-size="8.3" font-weight="normal" text-anchor="start" fill="#222"  stroke="#222" stroke-width="0.22">p=0.9373</text>
<text x="646.50" y="123.60" font-size="8.3" font-weight="normal" text-anchor="start" fill="#222"  stroke="#222" stroke-width="0.22">p&lt;0.0001</text>
<line x1="62.70" y1="206.00" x2="75.80" y2="206.00" stroke="#07b874" stroke-width="2.0" />
<ellipse cx="69.25" cy="206.00" rx="1.5" ry="2.0" fill="#07b874"/>
<text x="82.80" y="209.10" font-size="10" font-weight="normal" text-anchor="start" fill="#222"  stroke="#222" stroke-width="0.22">J1V658F</text>
<line x1="127.00" y1="206.00" x2="139.80" y2="206.00" stroke="#f87777" stroke-width="2.0" />
<ellipse cx="133.40" cy="206.00" rx="1.5" ry="2.0" fill="#f87777"/>
<text x="147.40" y="209.10" font-size="10" font-weight="normal" text-anchor="start" fill="#222"  stroke="#222" stroke-width="0.22">J3Q988P</text>
<line x1="194.40" y1="206.00" x2="207.10" y2="206.00" stroke="#55a0fb" stroke-width="2.0" />
<ellipse cx="200.75" cy="206.00" rx="1.5" ry="2.0" fill="#55a0fb"/>
<text x="214.00" y="209.10" font-size="10" font-weight="normal" text-anchor="start" fill="#222"  stroke="#222" stroke-width="0.22">S5N642H</text>
<line x1="262.30" y1="206.00" x2="275.00" y2="206.00" stroke="#f040dc" stroke-width="2.0" />
<ellipse cx="268.65" cy="206.00" rx="1.5" ry="2.0" fill="#f040dc"/>
<text x="282.00" y="209.10" font-size="10" font-weight="normal" text-anchor="start" fill="#222"  stroke="#222" stroke-width="0.22">Jurkat</text>
<line x1="407.20" y1="206.00" x2="419.80" y2="206.00" stroke="#07b874" stroke-width="2.0" />
<ellipse cx="413.50" cy="206.00" rx="1.5" ry="2.0" fill="#07b874"/>
<text x="427.20" y="209.10" font-size="10" font-weight="normal" text-anchor="start" fill="#222"  stroke="#222" stroke-width="0.22">J1V658F</text>
<line x1="471.50" y1="206.00" x2="484.20" y2="206.00" stroke="#f87777" stroke-width="2.0" />
<ellipse cx="477.85" cy="206.00" rx="1.5" ry="2.0" fill="#f87777"/>
<text x="491.40" y="209.10" font-size="10" font-weight="normal" text-anchor="start" fill="#222"  stroke="#222" stroke-width="0.22">J3Q988P</text>
<line x1="539.00" y1="206.00" x2="551.40" y2="206.00" stroke="#55a0fb" stroke-width="2.0" />
<ellipse cx="545.20" cy="206.00" rx="1.5" ry="2.0" fill="#55a0fb"/>
<text x="558.00" y="209.10" font-size="10" font-weight="normal" text-anchor="start" fill="#222"  stroke="#222" stroke-width="0.22">S5N642H</text>
<line x1="607.00" y1="206.00" x2="619.50" y2="206.00" stroke="#f040dc" stroke-width="2.0" />
<ellipse cx="613.25" cy="206.00" rx="1.5" ry="2.0" fill="#f040dc"/>
<text x="626.00" y="209.10" font-size="10" font-weight="normal" text-anchor="start" fill="#222"  stroke="#222" stroke-width="0.22">Jurkat</text>
<line x1="53.40" y1="244.80" x2="53.40" y2="365.35" stroke="#111" stroke-width="1.4" />
<line x1="48.40" y1="364.70" x2="53.40" y2="364.70" stroke="#111" stroke-width="1.2" />
<line x1="50.80" y1="354.77" x2="53.40" y2="354.77" stroke="#111" stroke-width="1.2" />
<line x1="50.80" y1="344.84" x2="53.40" y2="344.84" stroke="#111" stroke-width="1.2" />
<line x1="50.80" y1="334.91" x2="53.40" y2="334.91" stroke="#111" stroke-width="1.2" />
<line x1="50.80" y1="324.98" x2="53.40" y2="324.98" stroke="#111" stroke-width="1.2" />
<line x1="48.40" y1="315.05" x2="53.40" y2="315.05" stroke="#111" stroke-width="1.2" />
<line x1="50.80" y1="305.12" x2="53.40" y2="305.12" stroke="#111" stroke-width="1.2" />
<line x1="50.80" y1="295.19" x2="53.40" y2="295.19" stroke="#111" stroke-width="1.2" />
<line x1="50.80" y1="285.26" x2="53.40" y2="285.26" stroke="#111" stroke-width="1.2" />
<line x1="50.80" y1="275.33" x2="53.40" y2="275.33" stroke="#111" stroke-width="1.2" />
<line x1="48.40" y1="265.40" x2="53.40" y2="265.40" stroke="#111" stroke-width="1.2" />
<line x1="50.80" y1="255.47" x2="53.40" y2="255.47" stroke="#111" stroke-width="1.2" />
<line x1="50.80" y1="245.54" x2="53.40" y2="245.54" stroke="#111" stroke-width="1.2" />
<text x="46.90" y="367.90" font-size="8.7" font-weight="bold" text-anchor="end" fill="#1a1a1a"  stroke="#1a1a1a" stroke-width="0.22">0.0</text>
<text x="46.90" y="318.25" font-size="8.7" font-weight="bold" text-anchor="end" fill="#1a1a1a"  stroke="#1a1a1a" stroke-width="0.22">0.5</text>
<text x="46.90" y="268.60" font-size="8.7" font-weight="bold" text-anchor="end" fill="#1a1a1a"  stroke="#1a1a1a" stroke-width="0.22">1.0</text>
<line x1="52.70" y1="364.70" x2="173.90" y2="364.70" stroke="#111" stroke-width="1.4" />
<line x1="71.70" y1="364.70" x2="71.70" y2="369.70" stroke="#111" stroke-width="1.3" />
<text transform="translate(73.90,381.3) rotate(-21)" font-size="9" font-weight="bold" text-anchor="end" fill="#1a1a1a" stroke="#1a1a1a" stroke-width="0.22">Jurkat</text>
<line x1="99.30" y1="364.70" x2="99.30" y2="369.70" stroke="#111" stroke-width="1.3" />
<text transform="translate(101.50,381.3) rotate(-21)" font-size="9" font-weight="bold" text-anchor="end" fill="#1a1a1a" stroke="#1a1a1a" stroke-width="0.22">V658F</text>
<line x1="127.30" y1="364.70" x2="127.30" y2="369.70" stroke="#111" stroke-width="1.3" />
<text transform="translate(129.50,381.3) rotate(-21)" font-size="9" font-weight="bold" text-anchor="end" fill="#1a1a1a" stroke="#1a1a1a" stroke-width="0.22">Q988P</text>
<line x1="154.90" y1="364.70" x2="154.90" y2="369.70" stroke="#111" stroke-width="1.3" />
<text transform="translate(157.10,381.3) rotate(-21)" font-size="9" font-weight="bold" text-anchor="end" fill="#1a1a1a" stroke="#1a1a1a" stroke-width="0.22">N642H</text>
<text transform="translate(26.20,303.90) rotate(-90)" x="0" y="3.15" font-size="9" font-weight="bold" text-anchor="middle" fill="#1a1a1a" stroke="#1a1a1a" stroke-width="0.22">Proliferating cells (treated/ untreated)</text>
<circle cx="67.10" cy="264.38" r="3.6" fill="#f040dc" fill-opacity="1.0"/>
<circle cx="69.40" cy="266.37" r="3.6" fill="#f040dc" fill-opacity="1.0"/>
<circle cx="71.70" cy="266.14" r="3.6" fill="#f040dc" fill-opacity="1.0"/>
<circle cx="74.00" cy="264.71" r="3.6" fill="#f040dc" fill-opacity="1.0"/>
<circle cx="76.30" cy="265.39" r="3.6" fill="#f040dc" fill-opacity="1.0"/>
<line x1="62.50" y1="265.40" x2="80.90" y2="265.40" stroke="#111" stroke-width="1.6" />
<line x1="71.70" y1="264.61" x2="71.70" y2="266.19" stroke="#111" stroke-width="1.1" />
<line x1="69.20" y1="264.61" x2="74.20" y2="264.61" stroke="#111" stroke-width="1.1" />
<line x1="69.20" y1="266.19" x2="74.20" y2="266.19" stroke="#111" stroke-width="1.1" />
<circle cx="94.70" cy="307.89" r="3.6" fill="#07b874" fill-opacity="1.0"/>
<circle cx="97.00" cy="307.86" r="3.6" fill="#07b874" fill-opacity="1.0"/>
<circle cx="99.30" cy="305.37" r="3.6" fill="#07b874" fill-opacity="1.0"/>
<circle cx="101.60" cy="305.45" r="3.6" fill="#07b874" fill-opacity="1.0"/>
<circle cx="103.90" cy="307.55" r="3.6" fill="#07b874" fill-opacity="1.0"/>
<line x1="90.10" y1="306.61" x2="108.50" y2="306.61" stroke="#111" stroke-width="1.6" />
<line x1="99.30" y1="305.62" x2="99.30" y2="307.60" stroke="#111" stroke-width="1.1" />
<line x1="96.80" y1="305.62" x2="101.80" y2="305.62" stroke="#111" stroke-width="1.1" />
<line x1="96.80" y1="307.60" x2="101.80" y2="307.60" stroke="#111" stroke-width="1.1" />
<text transform="translate(102.20,300.11) rotate(-90)" font-size="8" fill="#222" stroke="#222" stroke-width="0.22">p&lt;0.0001</text>
<circle cx="122.70" cy="304.09" r="3.6" fill="#f87777" fill-opacity="1.0"/>
<circle cx="125.00" cy="304.95" r="3.6" fill="#f87777" fill-opacity="1.0"/>
<circle cx="127.30" cy="304.46" r="3.6" fill="#f87777" fill-opacity="1.0"/>
<circle cx="129.60" cy="305.11" r="3.6" fill="#f87777" fill-opacity="1.0"/>
<circle cx="131.90" cy="305.17" r="3.6" fill="#f87777" fill-opacity="1.0"/>
<line x1="118.10" y1="304.82" x2="136.50" y2="304.82" stroke="#111" stroke-width="1.6" />
<line x1="127.30" y1="302.84" x2="127.30" y2="306.81" stroke="#111" stroke-width="1.1" />
<line x1="124.80" y1="302.84" x2="129.80" y2="302.84" stroke="#111" stroke-width="1.1" />
<line x1="124.80" y1="306.81" x2="129.80" y2="306.81" stroke="#111" stroke-width="1.1" />
<text transform="translate(130.20,298.32) rotate(-90)" font-size="8" fill="#222" stroke="#222" stroke-width="0.22">p&lt;0.0001</text>
<circle cx="150.30" cy="313.72" r="3.6" fill="#55a0fb" fill-opacity="1.0"/>
<circle cx="152.60" cy="313.34" r="3.6" fill="#55a0fb" fill-opacity="1.0"/>
<circle cx="154.90" cy="314.16" r="3.6" fill="#55a0fb" fill-opacity="1.0"/>
<circle cx="157.20" cy="313.49" r="3.6" fill="#55a0fb" fill-opacity="1.0"/>
<circle cx="159.50" cy="313.24" r="3.6" fill="#55a0fb" fill-opacity="1.0"/>
<line x1="145.70" y1="314.45" x2="164.10" y2="314.45" stroke="#111" stroke-width="1.6" />
<line x1="154.90" y1="311.48" x2="154.90" y2="317.43" stroke="#111" stroke-width="1.1" />
<line x1="152.40" y1="311.48" x2="157.40" y2="311.48" stroke="#111" stroke-width="1.1" />
<line x1="152.40" y1="317.43" x2="157.40" y2="317.43" stroke="#111" stroke-width="1.1" />
<text transform="translate(157.80,307.95) rotate(-90)" font-size="8" fill="#222" stroke="#222" stroke-width="0.22">p&lt;0.0001</text>
<line x1="386.70" y1="244.80" x2="386.70" y2="365.35" stroke="#111" stroke-width="1.4" />
<line x1="381.70" y1="364.70" x2="386.70" y2="364.70" stroke="#111" stroke-width="1.2" />
<line x1="384.10" y1="354.77" x2="386.70" y2="354.77" stroke="#111" stroke-width="1.2" />
<line x1="384.10" y1="344.84" x2="386.70" y2="344.84" stroke="#111" stroke-width="1.2" />
<line x1="384.10" y1="334.91" x2="386.70" y2="334.91" stroke="#111" stroke-width="1.2" />
<line x1="384.10" y1="324.98" x2="386.70" y2="324.98" stroke="#111" stroke-width="1.2" />
<line x1="381.70" y1="315.05" x2="386.70" y2="315.05" stroke="#111" stroke-width="1.2" />
<line x1="384.10" y1="305.12" x2="386.70" y2="305.12" stroke="#111" stroke-width="1.2" />
<line x1="384.10" y1="295.19" x2="386.70" y2="295.19" stroke="#111" stroke-width="1.2" />
<line x1="384.10" y1="285.26" x2="386.70" y2="285.26" stroke="#111" stroke-width="1.2" />
<line x1="384.10" y1="275.33" x2="386.70" y2="275.33" stroke="#111" stroke-width="1.2" />
<line x1="381.70" y1="265.40" x2="386.70" y2="265.40" stroke="#111" stroke-width="1.2" />
<line x1="384.10" y1="255.47" x2="386.70" y2="255.47" stroke="#111" stroke-width="1.2" />
<line x1="384.10" y1="245.54" x2="386.70" y2="245.54" stroke="#111" stroke-width="1.2" />
<text x="380.20" y="367.90" font-size="8.7" font-weight="bold" text-anchor="end" fill="#1a1a1a"  stroke="#1a1a1a" stroke-width="0.22">0.0</text>
<text x="380.20" y="318.25" font-size="8.7" font-weight="bold" text-anchor="end" fill="#1a1a1a"  stroke="#1a1a1a" stroke-width="0.22">0.5</text>
<text x="380.20" y="268.60" font-size="8.7" font-weight="bold" text-anchor="end" fill="#1a1a1a"  stroke="#1a1a1a" stroke-width="0.22">1.0</text>
<line x1="386.00" y1="364.70" x2="505.80" y2="364.70" stroke="#111" stroke-width="1.4" />
<line x1="405.00" y1="364.70" x2="405.00" y2="369.70" stroke="#111" stroke-width="1.3" />
<text transform="translate(407.20,381.3) rotate(-21)" font-size="9" font-weight="bold" text-anchor="end" fill="#1a1a1a" stroke="#1a1a1a" stroke-width="0.22">Jurkat</text>
<line x1="432.60" y1="364.70" x2="432.60" y2="369.70" stroke="#111" stroke-width="1.3" />
<text transform="translate(434.80,381.3) rotate(-21)" font-size="9" font-weight="bold" text-anchor="end" fill="#1a1a1a" stroke="#1a1a1a" stroke-width="0.22">V658F</text>
<line x1="460.40" y1="364.70" x2="460.40" y2="369.70" stroke="#111" stroke-width="1.3" />
<text transform="translate(462.60,381.3) rotate(-21)" font-size="9" font-weight="bold" text-anchor="end" fill="#1a1a1a" stroke="#1a1a1a" stroke-width="0.22">Q988P</text>
<line x1="488.20" y1="364.70" x2="488.20" y2="369.70" stroke="#111" stroke-width="1.3" />
<text transform="translate(490.40,381.3) rotate(-21)" font-size="9" font-weight="bold" text-anchor="end" fill="#1a1a1a" stroke="#1a1a1a" stroke-width="0.22">N642H</text>
<text transform="translate(358.90,303.90) rotate(-90)" x="0" y="3.15" font-size="9" font-weight="bold" text-anchor="middle" fill="#1a1a1a" stroke="#1a1a1a" stroke-width="0.22">Proliferating cells (treated/ untreated)</text>
<circle cx="400.40" cy="264.91" r="3.6" fill="#f040dc" fill-opacity="1.0"/>
<circle cx="402.70" cy="264.42" r="3.6" fill="#f040dc" fill-opacity="1.0"/>
<circle cx="405.00" cy="265.82" r="3.6" fill="#f040dc" fill-opacity="1.0"/>
<circle cx="407.30" cy="264.20" r="3.6" fill="#f040dc" fill-opacity="1.0"/>
<circle cx="409.60" cy="265.50" r="3.6" fill="#f040dc" fill-opacity="1.0"/>
<line x1="395.80" y1="265.40" x2="414.20" y2="265.40" stroke="#111" stroke-width="1.6" />
<line x1="405.00" y1="264.61" x2="405.00" y2="266.19" stroke="#111" stroke-width="1.1" />
<line x1="402.50" y1="264.61" x2="407.50" y2="264.61" stroke="#111" stroke-width="1.1" />
<line x1="402.50" y1="266.19" x2="407.50" y2="266.19" stroke="#111" stroke-width="1.1" />
<circle cx="428.00" cy="305.65" r="3.6" fill="#07b874" fill-opacity="1.0"/>
<circle cx="430.30" cy="307.71" r="3.6" fill="#07b874" fill-opacity="1.0"/>
<circle cx="432.60" cy="305.36" r="3.6" fill="#07b874" fill-opacity="1.0"/>
<circle cx="434.90" cy="306.98" r="3.6" fill="#07b874" fill-opacity="1.0"/>
<circle cx="437.20" cy="305.25" r="3.6" fill="#07b874" fill-opacity="1.0"/>
<line x1="423.40" y1="306.41" x2="441.80" y2="306.41" stroke="#111" stroke-width="1.6" />
<line x1="432.60" y1="305.42" x2="432.60" y2="307.40" stroke="#111" stroke-width="1.1" />
<line x1="430.10" y1="305.42" x2="435.10" y2="305.42" stroke="#111" stroke-width="1.1" />
<line x1="430.10" y1="307.40" x2="435.10" y2="307.40" stroke="#111" stroke-width="1.1" />
<text transform="translate(435.50,299.91) rotate(-90)" font-size="8" fill="#222" stroke="#222" stroke-width="0.22">p&lt;0.0001</text>
<circle cx="455.80" cy="301.34" r="3.6" fill="#f87777" fill-opacity="1.0"/>
<circle cx="458.10" cy="301.09" r="3.6" fill="#f87777" fill-opacity="1.0"/>
<circle cx="460.40" cy="300.43" r="3.6" fill="#f87777" fill-opacity="1.0"/>
<circle cx="462.70" cy="302.47" r="3.6" fill="#f87777" fill-opacity="1.0"/>
<circle cx="465.00" cy="300.06" r="3.6" fill="#f87777" fill-opacity="1.0"/>
<line x1="451.20" y1="301.45" x2="469.60" y2="301.45" stroke="#111" stroke-width="1.6" />
<line x1="460.40" y1="300.45" x2="460.40" y2="302.44" stroke="#111" stroke-width="1.1" />
<line x1="457.90" y1="300.45" x2="462.90" y2="300.45" stroke="#111" stroke-width="1.1" />
<line x1="457.90" y1="302.44" x2="462.90" y2="302.44" stroke="#111" stroke-width="1.1" />
<text transform="translate(463.30,294.95) rotate(-90)" font-size="8" fill="#222" stroke="#222" stroke-width="0.22">p&lt;0.0001</text>
<circle cx="483.60" cy="313.96" r="3.6" fill="#55a0fb" fill-opacity="1.0"/>
<circle cx="485.90" cy="313.56" r="3.6" fill="#55a0fb" fill-opacity="1.0"/>
<circle cx="488.20" cy="313.98" r="3.6" fill="#55a0fb" fill-opacity="1.0"/>
<circle cx="490.50" cy="312.94" r="3.6" fill="#55a0fb" fill-opacity="1.0"/>
<circle cx="492.80" cy="314.64" r="3.6" fill="#55a0fb" fill-opacity="1.0"/>
<line x1="479.00" y1="313.76" x2="497.40" y2="313.76" stroke="#111" stroke-width="1.6" />
<line x1="488.20" y1="313.16" x2="488.20" y2="314.35" stroke="#111" stroke-width="1.1" />
<line x1="485.70" y1="313.16" x2="490.70" y2="313.16" stroke="#111" stroke-width="1.1" />
<line x1="485.70" y1="314.35" x2="490.70" y2="314.35" stroke="#111" stroke-width="1.1" />
<text transform="translate(491.10,307.26) rotate(-90)" font-size="8" fill="#222" stroke="#222" stroke-width="0.22">p&lt;0.0001</text>
<circle cx="223.2" cy="291.8" r="4.3" fill="#f040dc"/>
<text x="236.60" y="295.40" font-size="10" font-weight="normal" text-anchor="start" fill="#222"  stroke="#222" stroke-width="0.22">Jurkat</text>
<circle cx="223.2" cy="308.0" r="4.3" fill="#07b874"/>
<text x="236.60" y="311.60" font-size="10" font-weight="normal" text-anchor="start" fill="#222"  stroke="#222" stroke-width="0.22">J1V658F</text>
<circle cx="223.2" cy="324.1" r="4.3" fill="#f87777"/>
<text x="236.60" y="327.70" font-size="10" font-weight="normal" text-anchor="start" fill="#222"  stroke="#222" stroke-width="0.22">J3Q988P</text>
<circle cx="223.2" cy="340.5" r="4.3" fill="#55a0fb"/>
<text x="236.60" y="344.10" font-size="10" font-weight="normal" text-anchor="start" fill="#222"  stroke="#222" stroke-width="0.22">S5N642H</text>
<path d="M215.3,303.7 H209.3 V345.7 H215.3" fill="none" stroke="#111" stroke-width="1.4"/>
<text x="181.50" y="330.00" font-size="9" font-weight="normal" text-anchor="start" fill="#222"  stroke="#222" stroke-width="0.22">M07e</text>
<circle cx="556.3" cy="291.8" r="3.8" fill="#f040dc"/>
<text x="569.90" y="295.40" font-size="10" font-weight="normal" text-anchor="start" fill="#222"  stroke="#222" stroke-width="0.22">Jurkat</text>
<circle cx="556.3" cy="308.0" r="3.8" fill="#07b874"/>
<text x="569.90" y="311.60" font-size="10" font-weight="normal" text-anchor="start" fill="#222"  stroke="#222" stroke-width="0.22">J1V658F</text>
<circle cx="556.3" cy="324.1" r="3.8" fill="#f87777"/>
<text x="569.90" y="327.70" font-size="10" font-weight="normal" text-anchor="start" fill="#222"  stroke="#222" stroke-width="0.22">J3Q988P</text>
<circle cx="556.3" cy="340.5" r="3.8" fill="#55a0fb"/>
<text x="569.90" y="344.10" font-size="10" font-weight="normal" text-anchor="start" fill="#222"  stroke="#222" stroke-width="0.22">S5N642H</text>
<path d="M548.7,301.2 H542.7 V343.3 H548.7" fill="none" stroke="#111" stroke-width="1.4"/>
<text x="514.70" y="330.00" font-size="9" font-weight="normal" text-anchor="start" fill="#222"  stroke="#222" stroke-width="0.22">Ba/F3</text>
<path d="M186.40,531.30 L187.20,530.95 L188.00,530.98 L188.80,529.43 L189.60,528.85 L190.40,528.46 L191.20,526.44 L192.03,525.14 L192.87,523.14 L193.70,520.58 L194.80,503.81 L195.60,471.81 L196.10,419.61 L196.60,416.80 L197.20,472.19 L198.00,503.56 L199.30,524.21 L200.10,525.06 L200.90,525.62 L201.95,526.34 L203.00,525.65 L204.00,524.37 L205.00,525.30 L206.00,524.72 L207.00,526.16 L208.00,525.63 L209.00,524.22 L210.00,526.28 L211.00,526.80 L212.00,527.45 L213.00,525.66 L214.00,526.67 L215.00,526.80 L215.70,527.23 L216.40,526.42 L217.10,525.69 L217.80,527.99 L218.50,527.87 L219.33,526.88 L220.17,525.96 L221.00,524.18 L221.80,523.19 L222.60,522.69 L223.40,521.26 L224.27,522.41 L225.13,519.09 L226.00,519.66 L226.73,516.09 L227.47,517.47 L228.20,515.57 L228.90,510.90 L229.60,511.31 L230.30,514.07 L231.00,511.36 L232.00,513.41 L233.00,510.21 L233.80,507.03 L234.60,508.07 L235.40,507.16 L236.20,503.09 L237.00,500.22 L237.80,499.40 L238.60,500.43 L239.40,496.45 L240.20,492.10 L241.00,488.49 L241.80,483.09 L242.60,481.29 L243.40,483.23 L244.20,479.69 L245.00,480.95 L245.80,479.85 L246.60,479.87 L247.40,482.82 L248.25,485.85 L249.10,490.49 L249.90,489.56 L250.70,492.62 L251.50,493.22 L252.30,495.10 L253.10,496.86 L253.90,493.29 L254.70,486.91 L255.50,481.57 L256.30,475.02 L257.10,469.60 L257.90,464.44 L259.00,458.64 L260.00,468.52 L261.10,493.47 L261.90,504.77 L262.70,516.87 L263.50,522.16 L264.30,526.13 L265.10,527.22 L265.90,528.28 L266.70,529.51 L267.50,531.50 Z" fill="#92d892" stroke="none"/>
<path d="M186.40,531.30 L187.20,530.95 L188.00,530.98 L188.80,529.43 L189.60,528.85 L190.40,528.46 L191.20,526.44 L192.03,525.14 L192.87,523.14 L193.70,520.58 L194.80,503.81 L195.60,471.81 L196.10,419.61 L196.60,416.80 L197.20,472.19 L198.00,503.56 L199.30,524.21 L200.10,525.06 L200.90,525.62 L201.95,526.34 L203.00,525.65 L204.00,524.37 L205.00,525.30 L206.00,524.72 L207.00,526.16 L208.00,525.63 L209.00,524.22 L210.00,526.28 L211.00,526.80 L212.00,527.45 L213.00,525.66 L214.00,526.67 L215.00,526.80 L215.70,527.23 L216.40,526.42 L217.10,525.69 L217.80,527.99 L218.50,527.87 L219.33,526.88 L220.17,525.96 L221.00,524.18 L221.80,523.19 L222.60,522.69 L223.40,521.26 L224.27,522.41 L225.13,519.09 L226.00,519.66 L226.73,516.09 L227.47,517.47 L228.20,515.57 L228.90,510.90 L229.60,511.31 L230.30,514.07 L231.00,511.36 L232.00,513.41 L233.00,510.21 L233.80,507.03 L234.60,508.07 L235.40,507.16 L236.20,503.09 L237.00,500.22 L237.80,499.40 L238.60,500.43 L239.40,496.45 L240.20,492.10 L241.00,488.49 L241.80,483.09 L242.60,481.29 L243.40,483.23 L244.20,479.69 L245.00,480.95 L245.80,479.85 L246.60,479.87 L247.40,482.82 L248.25,485.85 L249.10,490.49 L249.90,489.56 L250.70,492.62 L251.50,493.22 L252.30,495.10 L253.10,496.86 L253.90,493.29 L254.70,486.91 L255.50,481.57 L256.30,475.02 L257.10,469.60 L257.90,464.44 L259.00,458.64 L260.00,468.52 L261.10,493.47 L261.90,504.77 L262.70,516.87 L263.50,522.16 L264.30,526.13 L265.10,527.22 L265.90,528.28 L266.70,529.51 L267.50,531.50" fill="none" stroke="#1fa91f" stroke-width="1.2" stroke-linejoin="round"/>
<rect x="168.50" y="414.90" width="117.50" height="116.70" fill="none" stroke="#111" stroke-width="1.4"/>
<line x1="165.70" y1="530.50" x2="168.50" y2="530.50" stroke="#111" stroke-width="1.4" />
<text x="164.30" y="532.00" font-size="4.2" font-weight="normal" text-anchor="end" fill="#333"  stroke="#333" stroke-width="0.1">0</text>
<line x1="165.70" y1="510.30" x2="168.50" y2="510.30" stroke="#111" stroke-width="1.4" />
<text x="164.30" y="511.80" font-size="4.2" font-weight="normal" text-anchor="end" fill="#333"  stroke="#333" stroke-width="0.1">100</text>
<line x1="165.70" y1="489.30" x2="168.50" y2="489.30" stroke="#111" stroke-width="1.4" />
<text x="164.30" y="490.80" font-size="4.2" font-weight="normal" text-anchor="end" fill="#333"  stroke="#333" stroke-width="0.1">200</text>
<line x1="165.70" y1="468.50" x2="168.50" y2="468.50" stroke="#111" stroke-width="1.4" />
<text x="164.30" y="470.00" font-size="4.2" font-weight="normal" text-anchor="end" fill="#333"  stroke="#333" stroke-width="0.1">300</text>
<line x1="165.70" y1="447.90" x2="168.50" y2="447.90" stroke="#111" stroke-width="1.4" />
<text x="164.30" y="449.40" font-size="4.2" font-weight="normal" text-anchor="end" fill="#333"  stroke="#333" stroke-width="0.1">400</text>
<line x1="165.70" y1="426.90" x2="168.50" y2="426.90" stroke="#111" stroke-width="1.4" />
<text x="164.30" y="428.40" font-size="4.2" font-weight="normal" text-anchor="end" fill="#333"  stroke="#333" stroke-width="0.1">500</text>
<line x1="166.90" y1="530.50" x2="168.50" y2="530.50" stroke="#111" stroke-width="0.9" />
<line x1="166.90" y1="526.36" x2="168.50" y2="526.36" stroke="#111" stroke-width="0.9" />
<line x1="166.90" y1="522.21" x2="168.50" y2="522.21" stroke="#111" stroke-width="0.9" />
<line x1="166.90" y1="518.07" x2="168.50" y2="518.07" stroke="#111" stroke-width="0.9" />
<line x1="166.90" y1="513.92" x2="168.50" y2="513.92" stroke="#111" stroke-width="0.9" />
<line x1="166.90" y1="509.78" x2="168.50" y2="509.78" stroke="#111" stroke-width="0.9" />
<line x1="166.90" y1="505.64" x2="168.50" y2="505.64" stroke="#111" stroke-width="0.9" />
<line x1="166.90" y1="501.49" x2="168.50" y2="501.49" stroke="#111" stroke-width="0.9" />
<line x1="166.90" y1="497.35" x2="168.50" y2="497.35" stroke="#111" stroke-width="0.9" />
<line x1="166.90" y1="493.20" x2="168.50" y2="493.20" stroke="#111" stroke-width="0.9" />
<line x1="166.90" y1="489.06" x2="168.50" y2="489.06" stroke="#111" stroke-width="0.9" />
<line x1="166.90" y1="484.92" x2="168.50" y2="484.92" stroke="#111" stroke-width="0.9" />
<line x1="166.90" y1="480.77" x2="168.50" y2="480.77" stroke="#111" stroke-width="0.9" />
<line x1="166.90" y1="476.63" x2="168.50" y2="476.63" stroke="#111" stroke-width="0.9" />
<line x1="166.90" y1="472.48" x2="168.50" y2="472.48" stroke="#111" stroke-width="0.9" />
<line x1="166.90" y1="468.34" x2="168.50" y2="468.34" stroke="#111" stroke-width="0.9" />
<line x1="166.90" y1="464.20" x2="168.50" y2="464.20" stroke="#111" stroke-width="0.9" />
<line x1="166.90" y1="460.05" x2="168.50" y2="460.05" stroke="#111" stroke-width="0.9" />
<line x1="166.90" y1="455.91" x2="168.50" y2="455.91" stroke="#111" stroke-width="0.9" />
<line x1="166.90" y1="451.76" x2="168.50" y2="451.76" stroke="#111" stroke-width="0.9" />
<line x1="166.90" y1="447.62" x2="168.50" y2="447.62" stroke="#111" stroke-width="0.9" />
<line x1="166.90" y1="443.48" x2="168.50" y2="443.48" stroke="#111" stroke-width="0.9" />
<line x1="166.90" y1="439.33" x2="168.50" y2="439.33" stroke="#111" stroke-width="0.9" />
<line x1="166.90" y1="435.19" x2="168.50" y2="435.19" stroke="#111" stroke-width="0.9" />
<line x1="166.90" y1="431.04" x2="168.50" y2="431.04" stroke="#111" stroke-width="0.9" />
<line x1="166.90" y1="426.90" x2="168.50" y2="426.90" stroke="#111" stroke-width="0.9" />
<line x1="166.90" y1="422.76" x2="168.50" y2="422.76" stroke="#111" stroke-width="0.9" />
<line x1="166.90" y1="418.61" x2="168.50" y2="418.61" stroke="#111" stroke-width="0.9" />
<line x1="166.90" y1="530.50" x2="168.50" y2="530.50" stroke="#111" stroke-width="0.9" />
<line x1="179.00" y1="531.60" x2="179.00" y2="534.40" stroke="#111" stroke-width="1.3" />
<text x="179.00" y="542.10" font-size="4.3" font-weight="normal" text-anchor="middle" fill="#333"  stroke="#333" stroke-width="0.1">-10³</text>
<line x1="197.40" y1="531.60" x2="197.40" y2="534.40" stroke="#111" stroke-width="1.3" />
<text x="197.40" y="542.10" font-size="4.3" font-weight="normal" text-anchor="middle" fill="#333"  stroke="#333" stroke-width="0.1">0</text>
<line x1="217.90" y1="531.60" x2="217.90" y2="534.40" stroke="#111" stroke-width="1.3" />
<text x="217.90" y="542.10" font-size="4.3" font-weight="normal" text-anchor="middle" fill="#333"  stroke="#333" stroke-width="0.1">10³</text>
<line x1="249.20" y1="531.60" x2="249.20" y2="534.40" stroke="#111" stroke-width="1.3" />
<text x="249.20" y="542.10" font-size="4.3" font-weight="normal" text-anchor="middle" fill="#333"  stroke="#333" stroke-width="0.1">10⁴</text>
<line x1="276.70" y1="531.60" x2="276.70" y2="534.40" stroke="#111" stroke-width="1.3" />
<text x="276.70" y="542.10" font-size="4.3" font-weight="normal" text-anchor="middle" fill="#333"  stroke="#333" stroke-width="0.1">10⁵</text>
<line x1="182.68" y1="531.60" x2="182.68" y2="533.40" stroke="#111" stroke-width="0.8" />
<line x1="186.36" y1="531.60" x2="186.36" y2="533.40" stroke="#111" stroke-width="0.8" />
<line x1="190.04" y1="531.60" x2="190.04" y2="533.40" stroke="#111" stroke-width="0.8" />
<line x1="193.72" y1="531.60" x2="193.72" y2="533.40" stroke="#111" stroke-width="0.8" />
<line x1="201.50" y1="531.60" x2="201.50" y2="533.40" stroke="#111" stroke-width="0.8" />
<line x1="205.60" y1="531.60" x2="205.60" y2="533.40" stroke="#111" stroke-width="0.8" />
<line x1="209.70" y1="531.60" x2="209.70" y2="533.40" stroke="#111" stroke-width="0.8" />
<line x1="213.80" y1="531.60" x2="213.80" y2="533.40" stroke="#111" stroke-width="0.8" />
<line x1="227.32" y1="531.60" x2="227.32" y2="533.40" stroke="#111" stroke-width="0.8" />
<line x1="232.83" y1="531.60" x2="232.83" y2="533.40" stroke="#111" stroke-width="0.8" />
<line x1="236.74" y1="531.60" x2="236.74" y2="533.40" stroke="#111" stroke-width="0.8" />
<line x1="239.78" y1="531.60" x2="239.78" y2="533.40" stroke="#111" stroke-width="0.8" />
<line x1="242.26" y1="531.60" x2="242.26" y2="533.40" stroke="#111" stroke-width="0.8" />
<line x1="244.35" y1="531.60" x2="244.35" y2="533.40" stroke="#111" stroke-width="0.8" />
<line x1="246.17" y1="531.60" x2="246.17" y2="533.40" stroke="#111" stroke-width="0.8" />
<line x1="247.77" y1="531.60" x2="247.77" y2="533.40" stroke="#111" stroke-width="0.8" />
<line x1="257.48" y1="531.60" x2="257.48" y2="533.40" stroke="#111" stroke-width="0.8" />
<line x1="262.32" y1="531.60" x2="262.32" y2="533.40" stroke="#111" stroke-width="0.8" />
<line x1="265.76" y1="531.60" x2="265.76" y2="533.40" stroke="#111" stroke-width="0.8" />
<line x1="268.42" y1="531.60" x2="268.42" y2="533.40" stroke="#111" stroke-width="0.8" />
<line x1="270.60" y1="531.60" x2="270.60" y2="533.40" stroke="#111" stroke-width="0.8" />
<line x1="272.44" y1="531.60" x2="272.44" y2="533.40" stroke="#111" stroke-width="0.8" />
<line x1="274.03" y1="531.60" x2="274.03" y2="533.40" stroke="#111" stroke-width="0.8" />
<line x1="275.44" y1="531.60" x2="275.44" y2="533.40" stroke="#111" stroke-width="0.8" />
<line x1="168.50" y1="496.50" x2="205.70" y2="496.50" stroke="#111" stroke-width="1.5" />
<line x1="205.70" y1="494.20" x2="205.70" y2="505.00" stroke="#111" stroke-width="1.5" />
<line x1="205.70" y1="502.30" x2="286.00" y2="502.30" stroke="#111" stroke-width="1.5" />
<text transform="translate(147.70,468.50) rotate(-90)" x="0" y="3.15" font-size="9" font-weight="normal" text-anchor="middle" fill="#222" stroke="#222" stroke-width="0.22">Count</text>
<text x="232.10" y="547.30" font-size="7.6" font-weight="normal" text-anchor="middle" fill="#444"  stroke="#444" stroke-width="0.22">Edu-FITC</text>
<text x="230.40" y="557.00" font-size="9" font-weight="bold" text-anchor="middle" fill="#111"  stroke="#111" stroke-width="0.22">Untreated</text>
<text x="171.60" y="423.80" font-size="8" font-weight="normal" text-anchor="start" fill="#222"  stroke="#222" stroke-width="0.22">EdU -</text>
<text x="171.60" y="434.00" font-size="8" font-weight="normal" text-anchor="start" fill="#222"  stroke="#222" stroke-width="0.22">17.9%</text>
<text x="282.30" y="423.80" font-size="8" font-weight="normal" text-anchor="end" fill="#222"  stroke="#222" stroke-width="0.22">EdU +</text>
<text x="282.30" y="434.00" font-size="8" font-weight="normal" text-anchor="end" fill="#222"  stroke="#222" stroke-width="0.22">82.1%</text>
<path d="M344.70,531.21 L345.43,530.80 L346.17,530.88 L346.90,529.38 L347.63,528.85 L348.37,528.51 L349.10,527.39 L349.83,519.58 L350.57,511.66 L351.30,503.78 L352.40,448.41 L353.30,420.06 L353.70,419.91 L354.60,449.10 L355.70,514.69 L356.43,518.43 L357.17,523.56 L357.90,529.16 L358.63,528.42 L359.37,528.59 L360.10,527.35 L360.83,527.17 L361.57,529.15 L362.30,528.55 L363.07,528.77 L363.84,528.82 L364.61,528.38 L365.38,529.17 L366.15,529.09 L366.92,529.82 L367.69,529.16 L368.46,529.35 L369.23,529.04 L370.00,529.31 L370.76,528.89 L371.52,528.51 L372.28,529.87 L373.04,529.83 L373.80,529.50 L374.56,529.22 L375.32,528.17 L376.08,527.85 L376.84,528.02 L377.60,527.26 L378.33,529.45 L379.05,528.07 L379.78,529.42 L380.51,527.73 L381.23,529.51 L381.96,528.99 L382.69,526.00 L383.41,526.55 L384.14,528.76 L384.87,527.13 L385.59,528.70 L386.32,526.60 L387.05,525.36 L387.77,527.08 L388.50,527.44 L389.23,525.63 L389.97,524.91 L390.70,525.64 L391.43,527.66 L392.17,526.87 L392.90,524.62 L393.63,524.95 L394.37,524.36 L395.10,524.12 L395.83,526.50 L396.57,524.32 L397.30,525.50 L398.03,525.02 L398.77,524.06 L399.50,525.78 L400.23,523.61 L400.95,525.18 L401.68,523.26 L402.40,524.13 L403.12,523.29 L403.85,523.33 L404.57,525.53 L405.30,524.82 L406.02,522.99 L406.75,524.79 L407.47,522.38 L408.20,522.84 L408.99,523.93 L409.77,522.97 L410.56,519.91 L411.34,523.72 L412.13,519.54 L412.91,519.30 L413.70,521.31 L414.43,518.95 L415.17,518.56 L415.90,517.25 L416.63,518.63 L417.37,522.30 L418.10,522.34 L418.93,525.19 L419.75,526.07 L420.57,527.99 L421.40,530.68 L422.13,530.27 L422.87,530.94 L423.60,531.30 Z" fill="#92d892" stroke="none"/>
<path d="M344.70,531.21 L345.43,530.80 L346.17,530.88 L346.90,529.38 L347.63,528.85 L348.37,528.51 L349.10,527.39 L349.83,519.58 L350.57,511.66 L351.30,503.78 L352.40,448.41 L353.30,420.06 L353.70,419.91 L354.60,449.10 L355.70,514.69 L356.43,518.43 L357.17,523.56 L357.90,529.16 L358.63,528.42 L359.37,528.59 L360.10,527.35 L360.83,527.17 L361.57,529.15 L362.30,528.55 L363.07,528.77 L363.84,528.82 L364.61,528.38 L365.38,529.17 L366.15,529.09 L366.92,529.82 L367.69,529.16 L368.46,529.35 L369.23,529.04 L370.00,529.31 L370.76,528.89 L371.52,528.51 L372.28,529.87 L373.04,529.83 L373.80,529.50 L374.56,529.22 L375.32,528.17 L376.08,527.85 L376.84,528.02 L377.60,527.26 L378.33,529.45 L379.05,528.07 L379.78,529.42 L380.51,527.73 L381.23,529.51 L381.96,528.99 L382.69,526.00 L383.41,526.55 L384.14,528.76 L384.87,527.13 L385.59,528.70 L386.32,526.60 L387.05,525.36 L387.77,527.08 L388.50,527.44 L389.23,525.63 L389.97,524.91 L390.70,525.64 L391.43,527.66 L392.17,526.87 L392.90,524.62 L393.63,524.95 L394.37,524.36 L395.10,524.12 L395.83,526.50 L396.57,524.32 L397.30,525.50 L398.03,525.02 L398.77,524.06 L399.50,525.78 L400.23,523.61 L400.95,525.18 L401.68,523.26 L402.40,524.13 L403.12,523.29 L403.85,523.33 L404.57,525.53 L405.30,524.82 L406.02,522.99 L406.75,524.79 L407.47,522.38 L408.20,522.84 L408.99,523.93 L409.77,522.97 L410.56,519.91 L411.34,523.72 L412.13,519.54 L412.91,519.30 L413.70,521.31 L414.43,518.95 L415.17,518.56 L415.90,517.25 L416.63,518.63 L417.37,522.30 L418.10,522.34 L418.93,525.19 L419.75,526.07 L420.57,527.99 L421.40,530.68 L422.13,530.27 L422.87,530.94 L423.60,531.30" fill="none" stroke="#1fa91f" stroke-width="1.2" stroke-linejoin="round"/>
<rect x="325.00" y="414.60" width="117.00" height="117.00" fill="none" stroke="#111" stroke-width="1.4"/>
<line x1="322.20" y1="530.20" x2="325.00" y2="530.20" stroke="#111" stroke-width="1.4" />
<text x="320.80" y="531.70" font-size="4.2" font-weight="normal" text-anchor="end" fill="#333"  stroke="#333" stroke-width="0.1">0</text>
<line x1="322.20" y1="499.20" x2="325.00" y2="499.20" stroke="#111" stroke-width="1.4" />
<text x="320.80" y="500.70" font-size="4.2" font-weight="normal" text-anchor="end" fill="#333"  stroke="#333" stroke-width="0.1">500</text>
<line x1="322.20" y1="466.30" x2="325.00" y2="466.30" stroke="#111" stroke-width="1.4" />
<text x="320.80" y="467.80" font-size="4.2" font-weight="normal" text-anchor="end" fill="#333"  stroke="#333" stroke-width="0.1">1.0K</text>
<line x1="322.20" y1="433.50" x2="325.00" y2="433.50" stroke="#111" stroke-width="1.4" />
<text x="320.80" y="435.00" font-size="4.2" font-weight="normal" text-anchor="end" fill="#333"  stroke="#333" stroke-width="0.1">1.5K</text>
<line x1="323.40" y1="530.20" x2="325.00" y2="530.20" stroke="#111" stroke-width="0.9" />
<line x1="323.40" y1="523.75" x2="325.00" y2="523.75" stroke="#111" stroke-width="0.9" />
<line x1="323.40" y1="517.31" x2="325.00" y2="517.31" stroke="#111" stroke-width="0.9" />
<line x1="323.40" y1="510.86" x2="325.00" y2="510.86" stroke="#111" stroke-width="0.9" />
<line x1="323.40" y1="504.41" x2="325.00" y2="504.41" stroke="#111" stroke-width="0.9" />
<line x1="323.40" y1="497.97" x2="325.00" y2="497.97" stroke="#111" stroke-width="0.9" />
<line x1="323.40" y1="491.52" x2="325.00" y2="491.52" stroke="#111" stroke-width="0.9" />
<line x1="323.40" y1="485.07" x2="325.00" y2="485.07" stroke="#111" stroke-width="0.9" />
<line x1="323.40" y1="478.63" x2="325.00" y2="478.63" stroke="#111" stroke-width="0.9" />
<line x1="323.40" y1="472.18" x2="325.00" y2="472.18" stroke="#111" stroke-width="0.9" />
<line x1="323.40" y1="465.73" x2="325.00" y2="465.73" stroke="#111" stroke-width="0.9" />
<line x1="323.40" y1="459.29" x2="325.00" y2="459.29" stroke="#111" stroke-width="0.9" />
<line x1="323.40" y1="452.84" x2="325.00" y2="452.84" stroke="#111" stroke-width="0.9" />
<line x1="323.40" y1="446.39" x2="325.00" y2="446.39" stroke="#111" stroke-width="0.9" />
<line x1="323.40" y1="439.95" x2="325.00" y2="439.95" stroke="#111" stroke-width="0.9" />
<line x1="323.40" y1="433.50" x2="325.00" y2="433.50" stroke="#111" stroke-width="0.9" />
<line x1="323.40" y1="427.05" x2="325.00" y2="427.05" stroke="#111" stroke-width="0.9" />
<line x1="323.40" y1="420.61" x2="325.00" y2="420.61" stroke="#111" stroke-width="0.9" />
<line x1="323.40" y1="530.20" x2="325.00" y2="530.20" stroke="#111" stroke-width="0.9" />
<line x1="336.10" y1="531.60" x2="336.10" y2="534.40" stroke="#111" stroke-width="1.3" />
<text x="336.10" y="542.10" font-size="4.3" font-weight="normal" text-anchor="middle" fill="#333"  stroke="#333" stroke-width="0.1">-10³</text>
<line x1="354.20" y1="531.60" x2="354.20" y2="534.40" stroke="#111" stroke-width="1.3" />
<text x="354.20" y="542.10" font-size="4.3" font-weight="normal" text-anchor="middle" fill="#333"  stroke="#333" stroke-width="0.1">0</text>
<line x1="374.10" y1="531.60" x2="374.10" y2="534.40" stroke="#111" stroke-width="1.3" />
<text x="374.10" y="542.10" font-size="4.3" font-weight="normal" text-anchor="middle" fill="#333"  stroke="#333" stroke-width="0.1">10³</text>
<line x1="406.40" y1="531.60" x2="406.40" y2="534.40" stroke="#111" stroke-width="1.3" />
<text x="406.40" y="542.10" font-size="4.3" font-weight="normal" text-anchor="middle" fill="#333"  stroke="#333" stroke-width="0.1">10⁴</text>
<line x1="433.90" y1="531.60" x2="433.90" y2="534.40" stroke="#111" stroke-width="1.3" />
<text x="433.90" y="542.10" font-size="4.3" font-weight="normal" text-anchor="middle" fill="#333"  stroke="#333" stroke-width="0.1">10⁵</text>
<line x1="339.72" y1="531.60" x2="339.72" y2="533.40" stroke="#111" stroke-width="0.8" />
<line x1="343.34" y1="531.60" x2="343.34" y2="533.40" stroke="#111" stroke-width="0.8" />
<line x1="346.96" y1="531.60" x2="346.96" y2="533.40" stroke="#111" stroke-width="0.8" />
<line x1="350.58" y1="531.60" x2="350.58" y2="533.40" stroke="#111" stroke-width="0.8" />
<line x1="358.18" y1="531.60" x2="358.18" y2="533.40" stroke="#111" stroke-width="0.8" />
<line x1="362.16" y1="531.60" x2="362.16" y2="533.40" stroke="#111" stroke-width="0.8" />
<line x1="366.14" y1="531.60" x2="366.14" y2="533.40" stroke="#111" stroke-width="0.8" />
<line x1="370.12" y1="531.60" x2="370.12" y2="533.40" stroke="#111" stroke-width="0.8" />
<line x1="383.82" y1="531.60" x2="383.82" y2="533.40" stroke="#111" stroke-width="0.8" />
<line x1="389.51" y1="531.60" x2="389.51" y2="533.40" stroke="#111" stroke-width="0.8" />
<line x1="393.55" y1="531.60" x2="393.55" y2="533.40" stroke="#111" stroke-width="0.8" />
<line x1="396.68" y1="531.60" x2="396.68" y2="533.40" stroke="#111" stroke-width="0.8" />
<line x1="399.23" y1="531.60" x2="399.23" y2="533.40" stroke="#111" stroke-width="0.8" />
<line x1="401.40" y1="531.60" x2="401.40" y2="533.40" stroke="#111" stroke-width="0.8" />
<line x1="403.27" y1="531.60" x2="403.27" y2="533.40" stroke="#111" stroke-width="0.8" />
<line x1="404.92" y1="531.60" x2="404.92" y2="533.40" stroke="#111" stroke-width="0.8" />
<line x1="414.68" y1="531.60" x2="414.68" y2="533.40" stroke="#111" stroke-width="0.8" />
<line x1="419.52" y1="531.60" x2="419.52" y2="533.40" stroke="#111" stroke-width="0.8" />
<line x1="422.96" y1="531.60" x2="422.96" y2="533.40" stroke="#111" stroke-width="0.8" />
<line x1="425.62" y1="531.60" x2="425.62" y2="533.40" stroke="#111" stroke-width="0.8" />
<line x1="427.80" y1="531.60" x2="427.80" y2="533.40" stroke="#111" stroke-width="0.8" />
<line x1="429.64" y1="531.60" x2="429.64" y2="533.40" stroke="#111" stroke-width="0.8" />
<line x1="431.23" y1="531.60" x2="431.23" y2="533.40" stroke="#111" stroke-width="0.8" />
<line x1="432.64" y1="531.60" x2="432.64" y2="533.40" stroke="#111" stroke-width="0.8" />
<line x1="325.00" y1="495.90" x2="362.70" y2="495.90" stroke="#111" stroke-width="1.5" />
<line x1="362.70" y1="493.60" x2="362.70" y2="504.40" stroke="#111" stroke-width="1.5" />
<line x1="362.70" y1="502.40" x2="442.00" y2="502.40" stroke="#111" stroke-width="1.5" />
<text transform="translate(304.20,468.50) rotate(-90)" x="0" y="3.15" font-size="9" font-weight="normal" text-anchor="middle" fill="#222" stroke="#222" stroke-width="0.22">Count</text>
<text x="388.30" y="547.30" font-size="7.6" font-weight="normal" text-anchor="middle" fill="#444"  stroke="#444" stroke-width="0.22">Edu-FITC</text>
<text x="386.60" y="557.00" font-size="9" font-weight="bold" text-anchor="middle" fill="#111"  stroke="#111" stroke-width="0.22">PIM447</text>
<text x="327.70" y="423.80" font-size="8" font-weight="normal" text-anchor="start" fill="#222"  stroke="#222" stroke-width="0.22">EdU -</text>
<text x="327.70" y="434.00" font-size="8" font-weight="normal" text-anchor="start" fill="#222"  stroke="#222" stroke-width="0.22">53.5%</text>
<text x="437.90" y="423.80" font-size="8" font-weight="normal" text-anchor="end" fill="#222"  stroke="#222" stroke-width="0.22">EdU +</text>
<text x="437.90" y="434.00" font-size="8" font-weight="normal" text-anchor="end" fill="#222"  stroke="#222" stroke-width="0.22">46.5%</text>
<line x1="45.30" y1="610.10" x2="45.30" y2="730.55" stroke="#111" stroke-width="1.4" />
<line x1="40.30" y1="729.90" x2="45.30" y2="729.90" stroke="#111" stroke-width="1.2" />
<line x1="42.70" y1="723.27" x2="45.30" y2="723.27" stroke="#111" stroke-width="1.2" />
<line x1="42.70" y1="716.64" x2="45.30" y2="716.64" stroke="#111" stroke-width="1.2" />
<line x1="42.70" y1="710.01" x2="45.30" y2="710.01" stroke="#111" stroke-width="1.2" />
<line x1="42.70" y1="703.38" x2="45.30" y2="703.38" stroke="#111" stroke-width="1.2" />
<line x1="40.30" y1="696.75" x2="45.30" y2="696.75" stroke="#111" stroke-width="1.2" />
<line x1="42.70" y1="690.12" x2="45.30" y2="690.12" stroke="#111" stroke-width="1.2" />
<line x1="42.70" y1="683.49" x2="45.30" y2="683.49" stroke="#111" stroke-width="1.2" />
<line x1="42.70" y1="676.86" x2="45.30" y2="676.86" stroke="#111" stroke-width="1.2" />
<line x1="42.70" y1="670.23" x2="45.30" y2="670.23" stroke="#111" stroke-width="1.2" />
<line x1="40.30" y1="663.60" x2="45.30" y2="663.60" stroke="#111" stroke-width="1.2" />
<line x1="42.70" y1="656.97" x2="45.30" y2="656.97" stroke="#111" stroke-width="1.2" />
<line x1="42.70" y1="650.34" x2="45.30" y2="650.34" stroke="#111" stroke-width="1.2" />
<line x1="42.70" y1="643.71" x2="45.30" y2="643.71" stroke="#111" stroke-width="1.2" />
<line x1="42.70" y1="637.08" x2="45.30" y2="637.08" stroke="#111" stroke-width="1.2" />
<line x1="40.30" y1="630.45" x2="45.30" y2="630.45" stroke="#111" stroke-width="1.2" />
<line x1="42.70" y1="623.82" x2="45.30" y2="623.82" stroke="#111" stroke-width="1.2" />
<line x1="42.70" y1="617.19" x2="45.30" y2="617.19" stroke="#111" stroke-width="1.2" />
<line x1="42.70" y1="610.56" x2="45.30" y2="610.56" stroke="#111" stroke-width="1.2" />
<text transform="translate(38.90,733.40) scale(0.95,1)" font-size="9.4" font-weight="bold" text-anchor="end" fill="#1a1a1a" stroke="#1a1a1a" stroke-width="0.22">0.0</text>
<text transform="translate(38.90,700.25) scale(0.95,1)" font-size="9.4" font-weight="bold" text-anchor="end" fill="#1a1a1a" stroke="#1a1a1a" stroke-width="0.22">0.5</text>
<text transform="translate(38.90,667.10) scale(0.95,1)" font-size="9.4" font-weight="bold" text-anchor="end" fill="#1a1a1a" stroke="#1a1a1a" stroke-width="0.22">1.0</text>
<text transform="translate(38.90,633.95) scale(0.95,1)" font-size="9.4" font-weight="bold" text-anchor="end" fill="#1a1a1a" stroke="#1a1a1a" stroke-width="0.22">1.5</text>
<line x1="44.60" y1="729.90" x2="164.70" y2="729.90" stroke="#111" stroke-width="1.4" />
<line x1="58.30" y1="729.90" x2="58.30" y2="734.90" stroke="#111" stroke-width="1.3" />
<text x="58.30" y="744.70" font-size="9" font-weight="bold" text-anchor="middle" fill="#1a1a1a"  stroke="#1a1a1a" stroke-width="0.22">Jurkat</text>
<line x1="89.30" y1="729.90" x2="89.30" y2="734.90" stroke="#111" stroke-width="1.3" />
<text x="89.30" y="744.70" font-size="9" font-weight="bold" text-anchor="middle" fill="#1a1a1a"  stroke="#1a1a1a" stroke-width="0.22">V658F</text>
<line x1="120.00" y1="729.90" x2="120.00" y2="734.90" stroke="#111" stroke-width="1.3" />
<text x="120.00" y="744.70" font-size="9" font-weight="bold" text-anchor="middle" fill="#1a1a1a"  stroke="#1a1a1a" stroke-width="0.22">Q988P</text>
<line x1="150.50" y1="729.90" x2="150.50" y2="734.90" stroke="#111" stroke-width="1.3" />
<text x="150.50" y="744.70" font-size="9" font-weight="bold" text-anchor="middle" fill="#1a1a1a"  stroke="#1a1a1a" stroke-width="0.22">N642H</text>
<text x="105.00" y="573.90" font-size="9" font-weight="bold" text-anchor="middle" fill="#111"  stroke="#111" stroke-width="0.22">M07e</text>
<text transform="translate(17.70,668.70) rotate(-90)" x="0" y="3.15" font-size="9" font-weight="bold" text-anchor="middle" fill="#1a1a1a" stroke="#1a1a1a" stroke-width="0.22">[Treated/untreated] cells</text>
<circle cx="52.10" cy="661.40" r="4.1" fill="#8dbff6"/>
<circle cx="52.50" cy="663.60" r="4.1" fill="#8dbff6"/>
<circle cx="52.90" cy="665.80" r="4.1" fill="#8dbff6"/>
<line x1="48.30" y1="663.60" x2="56.70" y2="663.60" stroke="#111" stroke-width="1.5" />
<line x1="52.50" y1="661.61" x2="52.50" y2="665.59" stroke="#111" stroke-width="1.0" />
<line x1="50.70" y1="661.61" x2="54.30" y2="661.61" stroke="#111" stroke-width="1.0" />
<line x1="50.70" y1="665.59" x2="54.30" y2="665.59" stroke="#111" stroke-width="1.0" />
<circle cx="63.50" cy="660.94" r="4.1" fill="#f9f59a"/>
<circle cx="63.90" cy="662.94" r="4.1" fill="#f9f59a"/>
<circle cx="64.30" cy="664.94" r="4.1" fill="#f9f59a"/>
<line x1="59.70" y1="662.94" x2="68.10" y2="662.94" stroke="#111" stroke-width="1.5" />
<line x1="63.90" y1="661.61" x2="63.90" y2="664.26" stroke="#111" stroke-width="1.0" />
<line x1="62.10" y1="661.61" x2="65.70" y2="661.61" stroke="#111" stroke-width="1.0" />
<line x1="62.10" y1="664.26" x2="65.70" y2="664.26" stroke="#111" stroke-width="1.0" />
<circle cx="83.10" cy="615.71" r="4.1" fill="#8dbff6"/>
<circle cx="83.50" cy="624.71" r="4.1" fill="#8dbff6"/>
<line x1="79.30" y1="620.11" x2="87.70" y2="620.11" stroke="#111" stroke-width="1.5" />
<line x1="83.50" y1="615.47" x2="83.50" y2="624.75" stroke="#111" stroke-width="1.0" />
<line x1="81.70" y1="615.47" x2="85.30" y2="615.47" stroke="#111" stroke-width="1.0" />
<line x1="81.70" y1="624.75" x2="85.30" y2="624.75" stroke="#111" stroke-width="1.0" />
<text transform="translate(86.40,610.91) rotate(-90)" font-size="8" fill="#222" stroke="#222" stroke-width="0.22">p&lt;0.0001</text>
<circle cx="94.50" cy="685.20" r="4.1" fill="#f9f59a"/>
<circle cx="94.90" cy="687.20" r="4.1" fill="#f9f59a"/>
<circle cx="95.30" cy="689.20" r="4.1" fill="#f9f59a"/>
<line x1="90.70" y1="687.20" x2="99.10" y2="687.20" stroke="#111" stroke-width="1.5" />
<line x1="94.90" y1="684.55" x2="94.90" y2="689.85" stroke="#111" stroke-width="1.0" />
<line x1="93.10" y1="684.55" x2="96.70" y2="684.55" stroke="#111" stroke-width="1.0" />
<line x1="93.10" y1="689.85" x2="96.70" y2="689.85" stroke="#111" stroke-width="1.0" />
<text transform="translate(97.80,680.40) rotate(-90)" font-size="8" fill="#222" stroke="#222" stroke-width="0.22">p&lt;0.0001</text>
<circle cx="113.80" cy="621.09" r="4.1" fill="#8dbff6"/>
<circle cx="114.20" cy="623.09" r="4.1" fill="#8dbff6"/>
<circle cx="114.60" cy="625.09" r="4.1" fill="#8dbff6"/>
<line x1="110.00" y1="623.09" x2="118.40" y2="623.09" stroke="#111" stroke-width="1.5" />
<line x1="114.20" y1="621.10" x2="114.20" y2="625.08" stroke="#111" stroke-width="1.0" />
<line x1="112.40" y1="621.10" x2="116.00" y2="621.10" stroke="#111" stroke-width="1.0" />
<line x1="112.40" y1="625.08" x2="116.00" y2="625.08" stroke="#111" stroke-width="1.0" />
<text transform="translate(117.10,616.29) rotate(-90)" font-size="8" fill="#222" stroke="#222" stroke-width="0.22">p&lt;0.0001</text>
<circle cx="125.20" cy="683.48" r="4.1" fill="#f9f59a"/>
<circle cx="125.60" cy="684.48" r="4.1" fill="#f9f59a"/>
<circle cx="126.00" cy="685.48" r="4.1" fill="#f9f59a"/>
<line x1="121.40" y1="684.48" x2="129.80" y2="684.48" stroke="#111" stroke-width="1.5" />
<line x1="125.60" y1="683.95" x2="125.60" y2="685.01" stroke="#111" stroke-width="1.0" />
<line x1="123.80" y1="683.95" x2="127.40" y2="683.95" stroke="#111" stroke-width="1.0" />
<line x1="123.80" y1="685.01" x2="127.40" y2="685.01" stroke="#111" stroke-width="1.0" />
<text transform="translate(128.50,678.68) rotate(-90)" font-size="8" fill="#222" stroke="#222" stroke-width="0.22">p&lt;0.0001</text>
<circle cx="144.30" cy="627.12" r="4.1" fill="#8dbff6"/>
<circle cx="144.70" cy="629.32" r="4.1" fill="#8dbff6"/>
<circle cx="145.10" cy="631.52" r="4.1" fill="#8dbff6"/>
<line x1="140.50" y1="629.32" x2="148.90" y2="629.32" stroke="#111" stroke-width="1.5" />
<line x1="144.70" y1="627.33" x2="144.70" y2="631.31" stroke="#111" stroke-width="1.0" />
<line x1="142.90" y1="627.33" x2="146.50" y2="627.33" stroke="#111" stroke-width="1.0" />
<line x1="142.90" y1="631.31" x2="146.50" y2="631.31" stroke="#111" stroke-width="1.0" />
<text transform="translate(147.60,622.32) rotate(-90)" font-size="8" fill="#222" stroke="#222" stroke-width="0.22">p&lt;0.0001</text>
<circle cx="155.70" cy="693.03" r="4.1" fill="#f9f59a"/>
<circle cx="156.10" cy="695.03" r="4.1" fill="#f9f59a"/>
<circle cx="156.50" cy="697.03" r="4.1" fill="#f9f59a"/>
<line x1="151.90" y1="695.03" x2="160.30" y2="695.03" stroke="#111" stroke-width="1.5" />
<line x1="156.10" y1="692.37" x2="156.10" y2="697.68" stroke="#111" stroke-width="1.0" />
<line x1="154.30" y1="692.37" x2="157.90" y2="692.37" stroke="#111" stroke-width="1.0" />
<line x1="154.30" y1="697.68" x2="157.90" y2="697.68" stroke="#111" stroke-width="1.0" />
<text transform="translate(159.00,688.23) rotate(-90)" font-size="8" fill="#222" stroke="#222" stroke-width="0.22">p&lt;0.0001</text>
<line x1="231.50" y1="610.10" x2="231.50" y2="730.55" stroke="#111" stroke-width="1.4" />
<line x1="226.50" y1="729.90" x2="231.50" y2="729.90" stroke="#111" stroke-width="1.2" />
<line x1="228.90" y1="723.27" x2="231.50" y2="723.27" stroke="#111" stroke-width="1.2" />
<line x1="228.90" y1="716.64" x2="231.50" y2="716.64" stroke="#111" stroke-width="1.2" />
<line x1="228.90" y1="710.01" x2="231.50" y2="710.01" stroke="#111" stroke-width="1.2" />
<line x1="228.90" y1="703.38" x2="231.50" y2="703.38" stroke="#111" stroke-width="1.2" />
<line x1="226.50" y1="696.75" x2="231.50" y2="696.75" stroke="#111" stroke-width="1.2" />
<line x1="228.90" y1="690.12" x2="231.50" y2="690.12" stroke="#111" stroke-width="1.2" />
<line x1="228.90" y1="683.49" x2="231.50" y2="683.49" stroke="#111" stroke-width="1.2" />
<line x1="228.90" y1="676.86" x2="231.50" y2="676.86" stroke="#111" stroke-width="1.2" />
<line x1="228.90" y1="670.23" x2="231.50" y2="670.23" stroke="#111" stroke-width="1.2" />
<line x1="226.50" y1="663.60" x2="231.50" y2="663.60" stroke="#111" stroke-width="1.2" />
<line x1="228.90" y1="656.97" x2="231.50" y2="656.97" stroke="#111" stroke-width="1.2" />
<line x1="228.90" y1="650.34" x2="231.50" y2="650.34" stroke="#111" stroke-width="1.2" />
<line x1="228.90" y1="643.71" x2="231.50" y2="643.71" stroke="#111" stroke-width="1.2" />
<line x1="228.90" y1="637.08" x2="231.50" y2="637.08" stroke="#111" stroke-width="1.2" />
<line x1="226.50" y1="630.45" x2="231.50" y2="630.45" stroke="#111" stroke-width="1.2" />
<line x1="228.90" y1="623.82" x2="231.50" y2="623.82" stroke="#111" stroke-width="1.2" />
<line x1="228.90" y1="617.19" x2="231.50" y2="617.19" stroke="#111" stroke-width="1.2" />
<line x1="228.90" y1="610.56" x2="231.50" y2="610.56" stroke="#111" stroke-width="1.2" />
<text transform="translate(225.10,733.40) scale(0.95,1)" font-size="9.4" font-weight="bold" text-anchor="end" fill="#1a1a1a" stroke="#1a1a1a" stroke-width="0.22">0.0</text>
<text transform="translate(225.10,700.25) scale(0.95,1)" font-size="9.4" font-weight="bold" text-anchor="end" fill="#1a1a1a" stroke="#1a1a1a" stroke-width="0.22">0.5</text>
<text transform="translate(225.10,667.10) scale(0.95,1)" font-size="9.4" font-weight="bold" text-anchor="end" fill="#1a1a1a" stroke="#1a1a1a" stroke-width="0.22">1.0</text>
<text transform="translate(225.10,633.95) scale(0.95,1)" font-size="9.4" font-weight="bold" text-anchor="end" fill="#1a1a1a" stroke="#1a1a1a" stroke-width="0.22">1.5</text>
<line x1="230.80" y1="729.90" x2="351.60" y2="729.90" stroke="#111" stroke-width="1.4" />
<line x1="244.50" y1="729.90" x2="244.50" y2="734.90" stroke="#111" stroke-width="1.3" />
<text x="244.50" y="744.70" font-size="9" font-weight="bold" text-anchor="middle" fill="#1a1a1a"  stroke="#1a1a1a" stroke-width="0.22">Jurkat</text>
<line x1="275.70" y1="729.90" x2="275.70" y2="734.90" stroke="#111" stroke-width="1.3" />
<text x="275.70" y="744.70" font-size="9" font-weight="bold" text-anchor="middle" fill="#1a1a1a"  stroke="#1a1a1a" stroke-width="0.22">V658F</text>
<line x1="306.60" y1="729.90" x2="306.60" y2="734.90" stroke="#111" stroke-width="1.3" />
<text x="306.60" y="744.70" font-size="9" font-weight="bold" text-anchor="middle" fill="#1a1a1a"  stroke="#1a1a1a" stroke-width="0.22">Q988P</text>
<line x1="337.30" y1="729.90" x2="337.30" y2="734.90" stroke="#111" stroke-width="1.3" />
<text x="337.30" y="744.70" font-size="9" font-weight="bold" text-anchor="middle" fill="#1a1a1a"  stroke="#1a1a1a" stroke-width="0.22">N642H</text>
<text x="293.00" y="573.90" font-size="9" font-weight="bold" text-anchor="middle" fill="#111"  stroke="#111" stroke-width="0.22">Ba/F3</text>
<text transform="translate(204.00,668.70) rotate(-90)" x="0" y="3.15" font-size="9" font-weight="bold" text-anchor="middle" fill="#1a1a1a" stroke="#1a1a1a" stroke-width="0.22">[Treated/untreated] cells</text>
<circle cx="238.30" cy="661.40" r="4.1" fill="#8dbff6"/>
<circle cx="238.70" cy="663.60" r="4.1" fill="#8dbff6"/>
<circle cx="239.10" cy="665.80" r="4.1" fill="#8dbff6"/>
<line x1="234.50" y1="663.60" x2="242.90" y2="663.60" stroke="#111" stroke-width="1.5" />
<line x1="238.70" y1="661.61" x2="238.70" y2="665.59" stroke="#111" stroke-width="1.0" />
<line x1="236.90" y1="661.61" x2="240.50" y2="661.61" stroke="#111" stroke-width="1.0" />
<line x1="236.90" y1="665.59" x2="240.50" y2="665.59" stroke="#111" stroke-width="1.0" />
<circle cx="249.70" cy="660.94" r="4.1" fill="#f9f59a"/>
<circle cx="250.10" cy="662.94" r="4.1" fill="#f9f59a"/>
<circle cx="250.50" cy="664.94" r="4.1" fill="#f9f59a"/>
<line x1="245.90" y1="662.94" x2="254.30" y2="662.94" stroke="#111" stroke-width="1.5" />
<line x1="250.10" y1="661.61" x2="250.10" y2="664.26" stroke="#111" stroke-width="1.0" />
<line x1="248.30" y1="661.61" x2="251.90" y2="661.61" stroke="#111" stroke-width="1.0" />
<line x1="248.30" y1="664.26" x2="251.90" y2="664.26" stroke="#111" stroke-width="1.0" />
<circle cx="269.50" cy="620.47" r="4.1" fill="#8dbff6"/>
<circle cx="269.90" cy="622.77" r="4.1" fill="#8dbff6"/>
<circle cx="270.30" cy="637.07" r="4.1" fill="#8dbff6"/>
<line x1="265.70" y1="627.27" x2="274.10" y2="627.27" stroke="#111" stroke-width="1.5" />
<line x1="269.90" y1="617.99" x2="269.90" y2="636.55" stroke="#666" stroke-width="1.0" />
<line x1="268.10" y1="617.99" x2="271.70" y2="617.99" stroke="#111" stroke-width="1.0" />
<line x1="268.10" y1="636.55" x2="271.70" y2="636.55" stroke="#111" stroke-width="1.0" />
<text transform="translate(272.80,615.67) rotate(-90)" font-size="8" fill="#222" stroke="#222" stroke-width="0.22">p&lt;0.0001</text>
<circle cx="280.90" cy="681.29" r="4.1" fill="#f9f59a"/>
<circle cx="281.30" cy="684.29" r="4.1" fill="#f9f59a"/>
<circle cx="281.70" cy="687.29" r="4.1" fill="#f9f59a"/>
<line x1="277.10" y1="684.29" x2="285.50" y2="684.29" stroke="#111" stroke-width="1.5" />
<line x1="281.30" y1="680.31" x2="281.30" y2="688.26" stroke="#111" stroke-width="1.0" />
<line x1="279.50" y1="680.31" x2="283.10" y2="680.31" stroke="#111" stroke-width="1.0" />
<line x1="279.50" y1="688.26" x2="283.10" y2="688.26" stroke="#111" stroke-width="1.0" />
<text transform="translate(284.20,676.49) rotate(-90)" font-size="8" fill="#222" stroke="#222" stroke-width="0.22">p&lt;0.0001</text>
<circle cx="300.40" cy="630.70" r="4.1" fill="#8dbff6"/>
<circle cx="300.80" cy="633.10" r="4.1" fill="#8dbff6"/>
<circle cx="301.20" cy="635.50" r="4.1" fill="#8dbff6"/>
<line x1="296.60" y1="633.10" x2="305.00" y2="633.10" stroke="#111" stroke-width="1.5" />
<line x1="300.80" y1="630.45" x2="300.80" y2="635.75" stroke="#111" stroke-width="1.0" />
<line x1="299.00" y1="630.45" x2="302.60" y2="630.45" stroke="#111" stroke-width="1.0" />
<line x1="299.00" y1="635.75" x2="302.60" y2="635.75" stroke="#111" stroke-width="1.0" />
<text transform="translate(303.70,625.90) rotate(-90)" font-size="8" fill="#222" stroke="#222" stroke-width="0.22">p&lt;0.0001</text>
<circle cx="311.80" cy="680.10" r="4.1" fill="#f9f59a"/>
<circle cx="312.20" cy="681.10" r="4.1" fill="#f9f59a"/>
<circle cx="312.60" cy="682.10" r="4.1" fill="#f9f59a"/>
<line x1="308.00" y1="681.10" x2="316.40" y2="681.10" stroke="#111" stroke-width="1.5" />
<line x1="312.20" y1="680.57" x2="312.20" y2="681.63" stroke="#111" stroke-width="1.0" />
<line x1="310.40" y1="680.57" x2="314.00" y2="680.57" stroke="#111" stroke-width="1.0" />
<line x1="310.40" y1="681.63" x2="314.00" y2="681.63" stroke="#111" stroke-width="1.0" />
<text transform="translate(315.10,675.30) rotate(-90)" font-size="8" fill="#222" stroke="#222" stroke-width="0.22">p&lt;0.0001</text>
<circle cx="331.10" cy="626.59" r="4.1" fill="#8dbff6"/>
<circle cx="331.50" cy="628.59" r="4.1" fill="#8dbff6"/>
<circle cx="331.90" cy="630.59" r="4.1" fill="#8dbff6"/>
<line x1="327.30" y1="628.59" x2="335.70" y2="628.59" stroke="#111" stroke-width="1.5" />
<line x1="331.50" y1="626.60" x2="331.50" y2="630.58" stroke="#111" stroke-width="1.0" />
<line x1="329.70" y1="626.60" x2="333.30" y2="626.60" stroke="#111" stroke-width="1.0" />
<line x1="329.70" y1="630.58" x2="333.30" y2="630.58" stroke="#111" stroke-width="1.0" />
<text transform="translate(334.40,621.79) rotate(-90)" font-size="8" fill="#222" stroke="#222" stroke-width="0.22">p&lt;0.0001</text>
<circle cx="342.50" cy="691.70" r="4.1" fill="#f9f59a"/>
<circle cx="342.90" cy="693.70" r="4.1" fill="#f9f59a"/>
<circle cx="343.30" cy="695.70" r="4.1" fill="#f9f59a"/>
<line x1="338.70" y1="693.70" x2="347.10" y2="693.70" stroke="#111" stroke-width="1.5" />
<line x1="342.90" y1="691.71" x2="342.90" y2="695.69" stroke="#111" stroke-width="1.0" />
<line x1="341.10" y1="691.71" x2="344.70" y2="691.71" stroke="#111" stroke-width="1.0" />
<line x1="341.10" y1="695.69" x2="344.70" y2="695.69" stroke="#111" stroke-width="1.0" />
<text transform="translate(345.80,686.90) rotate(-90)" font-size="8" fill="#222" stroke="#222" stroke-width="0.22">p&lt;0.0001</text>
<circle cx="76.2" cy="757.6" r="4.3" fill="#8dbff6"/>
<text x="89.30" y="761.00" font-size="9.5" font-weight="normal" text-anchor="start" fill="#222"  stroke="#222" stroke-width="0.22">G1</text>
<circle cx="118.2" cy="757.6" r="4.3" fill="#f9f59a"/>
<text x="131.40" y="761.00" font-size="9.5" font-weight="normal" text-anchor="start" fill="#222"  stroke="#222" stroke-width="0.22">S</text>
<circle cx="264.3" cy="757.6" r="4.3" fill="#8dbff6"/>
<text x="278.00" y="761.00" font-size="9.5" font-weight="normal" text-anchor="start" fill="#222"  stroke="#222" stroke-width="0.22">G1</text>
<circle cx="307.2" cy="757.6" r="4.3" fill="#f9f59a"/>
<text x="321.20" y="761.00" font-size="9.5" font-weight="normal" text-anchor="start" fill="#222"  stroke="#222" stroke-width="0.22">S</text>
<path d="M430.30,729.20 L430.69,721.32 L430.94,717.85 L431.20,714.25 L431.46,710.52 L431.71,709.58 L431.97,709.20 L432.23,709.72 L432.49,708.33 L432.74,708.63 L433.00,707.61 L433.26,707.40 L433.51,709.28 L433.77,709.54 L434.03,706.93 L434.29,709.17 L434.54,709.60 L434.80,707.41 L435.06,709.62 L435.31,708.79 L435.57,710.42 L435.83,710.23 L436.09,712.21 L436.34,710.84 L436.60,710.27 L436.86,711.63 L437.11,711.03 L437.37,711.38 L437.63,713.53 L437.89,711.23 L438.14,711.85 L438.40,712.88 L438.66,713.83 L438.91,711.02 L439.17,712.38 L439.43,711.57 L439.69,711.05 L439.94,711.64 L440.20,710.95 L440.46,712.77 L440.71,711.41 L440.97,712.64 L441.23,711.00 L441.49,711.21 L441.74,713.89 L442.00,713.78 L442.26,713.53 L442.51,711.01 L442.77,712.83 L443.03,712.20 L443.29,713.33 L443.54,712.65 L443.80,713.09 L444.06,713.23 L444.31,712.46 L444.57,712.48 L444.83,711.42 L445.09,712.19 L445.34,711.38 L445.60,711.64 L445.86,711.21 L446.11,712.32 L446.37,714.07 L446.63,711.72 L446.89,711.39 L447.14,711.61 L447.40,712.78 L447.66,712.31 L447.91,714.04 L448.17,711.95 L448.43,712.85 L448.69,713.86 L448.94,714.63 L449.20,711.97 L449.46,711.53 L449.71,714.61 L449.97,712.21 L450.23,713.56 L450.49,714.47 L450.74,714.00 L451.00,713.33 L451.26,713.35 L451.51,713.37 L451.77,713.39 L452.03,713.42 L452.29,713.44 L452.54,713.46 L452.80,713.48 L453.06,713.50 L453.31,714.48 L453.57,716.64 L453.83,718.80 L454.09,720.95 L454.34,723.09 L454.84,729.20 Z" fill="#e6e2a4" stroke="#c8b830" stroke-width="0.5"/>
<path d="M425.50,729.17 L425.73,729.14 L425.95,729.07 L426.18,728.93 L426.40,728.67 L426.62,728.18 L426.85,727.35 L427.07,725.96 L427.30,723.75 L427.52,720.43 L427.75,715.64 L427.98,709.09 L428.20,700.60 L428.43,690.16 L428.65,678.09 L428.88,665.00 L429.10,651.83 L429.32,639.75 L429.55,629.98 L429.77,623.61 L430.00,621.40 L430.23,623.61 L430.45,629.98 L430.68,639.75 L430.90,651.83 L431.12,665.00 L431.35,678.09 L431.57,690.16 L431.80,700.60 L432.02,709.09 L432.25,715.64 L432.48,720.43 L432.70,723.75 L432.93,725.96 L433.15,727.35 L433.38,728.18 L433.60,728.67 L433.82,728.93 L434.05,729.07 L434.27,729.14 L434.50,729.17 Z" fill="#b6b4f6" stroke="#4a3ae0" stroke-width="1.0"/>
<path d="M448.00,729.06 L448.25,728.98 L448.50,728.85 L448.75,728.67 L449.00,728.40 L449.25,728.03 L449.50,727.54 L449.75,726.89 L450.00,726.06 L450.25,725.04 L450.50,723.83 L450.75,722.43 L451.00,720.87 L451.25,719.19 L451.50,717.47 L451.75,715.79 L452.00,714.23 L452.25,712.89 L452.50,711.87 L452.75,711.22 L453.00,711.00 L453.25,711.22 L453.50,711.87 L453.75,712.89 L454.00,714.23 L454.25,715.79 L454.50,717.47 L454.75,719.19 L455.00,720.87 L455.25,722.43 L455.50,723.83 L455.75,725.04 L456.00,726.06 L456.25,726.89 L456.50,727.54 L456.75,728.03 L457.00,728.40 L457.25,728.67 L457.50,728.85 L457.75,728.98 L458.00,729.06 Z" fill="#a6e4a0" stroke="#36d436" stroke-width="1.0"/>
<path d="M424.00,729.20 L424.26,729.19 L424.51,729.19 L424.77,729.17 L425.03,729.13 L425.29,729.05 L425.54,728.90 L425.80,728.62 L426.06,728.12 L426.31,727.26 L426.57,725.87 L426.83,723.70 L427.09,720.46 L427.34,715.85 L427.60,709.59 L427.86,701.49 L428.11,691.55 L428.37,680.01 L428.63,667.40 L428.89,654.54 L429.14,642.46 L429.40,632.29 L429.66,625.08 L429.91,621.63 L430.17,622.33 L430.43,627.10 L430.69,630.07 L430.94,638.92 L431.20,649.23 L431.46,659.87 L431.71,671.64 L431.97,682.46 L432.23,691.58 L432.49,698.84 L432.74,704.35 L433.00,706.61 L433.26,706.40 L433.51,708.28 L433.77,708.54 L434.03,705.93 L434.29,708.17 L434.54,708.60 L434.80,706.41 L435.06,708.62 L435.31,707.79 L435.57,709.42 L435.83,709.23 L436.09,711.21 L436.34,709.84 L436.60,709.27 L436.86,710.63 L437.11,710.03 L437.37,710.38 L437.63,712.53 L437.89,710.23 L438.14,710.85 L438.40,711.88 L438.66,712.83 L438.91,710.02 L439.17,711.38 L439.43,710.57 L439.69,710.05 L439.94,710.64 L440.20,709.95 L440.46,711.77 L440.71,710.41 L440.97,711.64 L441.23,710.00 L441.49,710.21 L441.74,712.89 L442.00,712.78 L442.26,712.53 L442.51,710.01 L442.77,711.83 L443.03,711.20 L443.29,712.33 L443.54,711.65 L443.80,712.09 L444.06,712.23 L444.31,711.46 L444.57,711.48 L444.83,710.42 L445.09,711.19 L445.34,710.38 L445.60,710.64 L445.86,710.21 L446.11,711.32 L446.37,713.07 L446.63,710.72 L446.89,710.39 L447.14,710.61 L447.40,711.78 L447.66,711.31 L447.91,713.04 L448.17,710.95 L448.43,711.85 L448.69,712.86 L448.94,713.63 L449.20,710.97 L449.46,710.53 L449.71,713.61 L449.97,711.21 L450.23,712.56 L450.49,713.47 L450.74,713.00 L451.00,712.33 L451.26,712.35 L451.51,712.37 L451.77,710.56 L452.03,708.65 L452.29,707.04 L452.54,705.86 L452.80,705.17 L453.06,705.01 L453.31,705.41 L453.57,706.33 L453.83,707.71 L454.09,709.46 L454.34,711.49 L454.60,713.66 L454.86,715.87 L455.11,718.03 L455.37,720.05 L455.63,721.88 L455.89,723.47 L456.14,724.82 L456.40,725.92 L456.66,726.81 L456.91,727.49 L457.17,728.01 L457.43,728.39 L457.69,728.66 L457.94,728.85 L458.20,728.98 L458.46,729.06 L458.71,729.11 L458.97,729.15 L459.23,729.17 L459.49,729.18 L459.74,729.19 L460.00,729.19" fill="none" stroke="#000" stroke-width="1.9" stroke-linejoin="round"/>
<path d="M424.00,729.20 L424.26,729.19 L424.51,729.19 L424.77,729.17 L425.03,729.13 L425.29,729.05 L425.54,728.90 L425.80,728.62 L426.06,728.12 L426.31,727.26 L426.57,725.87 L426.83,723.70 L427.09,720.46 L427.34,715.85 L427.60,709.59 L427.86,701.49 L428.11,691.55 L428.37,680.01 L428.63,667.40 L428.89,654.54 L429.14,642.46 L429.40,632.29 L429.66,625.08 L429.91,621.63 L430.17,622.33 L430.43,627.10 L430.69,630.07 L430.94,638.92 L431.20,649.23 L431.46,659.87 L431.71,671.64 L431.97,682.46 L432.23,691.58 L432.49,698.84 L432.74,704.35 L433.00,706.61 L433.26,706.40 L433.51,708.28 L433.77,708.54 L434.03,705.93 L434.29,708.17 L434.54,708.60 L434.80,706.41 L435.06,708.62 L435.31,707.79 L435.57,709.42 L435.83,709.23 L436.09,711.21 L436.34,709.84 L436.60,709.27 L436.86,710.63 L437.11,710.03 L437.37,710.38 L437.63,712.53 L437.89,710.23 L438.14,710.85 L438.40,711.88 L438.66,712.83 L438.91,710.02 L439.17,711.38 L439.43,710.57 L439.69,710.05 L439.94,710.64 L440.20,709.95 L440.46,711.77 L440.71,710.41 L440.97,711.64 L441.23,710.00 L441.49,710.21 L441.74,712.89 L442.00,712.78 L442.26,712.53 L442.51,710.01 L442.77,711.83 L443.03,711.20 L443.29,712.33 L443.54,711.65 L443.80,712.09 L444.06,712.23 L444.31,711.46 L444.57,711.48 L444.83,710.42 L445.09,711.19 L445.34,710.38 L445.60,710.64 L445.86,710.21 L446.11,711.32 L446.37,713.07 L446.63,710.72 L446.89,710.39 L447.14,710.61 L447.40,711.78 L447.66,711.31 L447.91,713.04 L448.17,710.95 L448.43,711.85 L448.69,712.86 L448.94,713.63 L449.20,710.97 L449.46,710.53 L449.71,713.61 L449.97,711.21 L450.23,712.56 L450.49,713.47 L450.74,713.00 L451.00,712.33 L451.26,712.35 L451.51,712.37 L451.77,710.56 L452.03,708.65 L452.29,707.04 L452.54,705.86 L452.80,705.17 L453.06,705.01 L453.31,705.41 L453.57,706.33 L453.83,707.71 L454.09,709.46 L454.34,711.49 L454.60,713.66 L454.86,715.87 L455.11,718.03 L455.37,720.05 L455.63,721.88 L455.89,723.47 L456.14,724.82 L456.40,725.92 L456.66,726.81 L456.91,727.49 L457.17,728.01 L457.43,728.39 L457.69,728.66 L457.94,728.85 L458.20,728.98 L458.46,729.06 L458.71,729.11 L458.97,729.15 L459.23,729.17 L459.49,729.18 L459.74,729.19 L460.00,729.19" fill="none" stroke="#e81ee8" stroke-width="1.1" stroke-linejoin="round" transform="translate(0.4,0.6)"/>
<rect x="405.20" y="613.50" width="117.30" height="116.30" fill="none" stroke="#111" stroke-width="1.0"/>
<line x1="404.60" y1="729.80" x2="523.10" y2="729.80" stroke="#000" stroke-width="1.8" />
<line x1="405.20" y1="613.50" x2="405.20" y2="729.80" stroke="#000" stroke-width="1.8" />
<rect x="402.00" y="727.90" width="3.2" height="2.2" fill="#000"/>
<text x="400.60" y="730.50" font-size="4.2" font-weight="normal" text-anchor="end" fill="#333"  stroke="#333" stroke-width="0.1">0</text>
<rect x="402.00" y="690.90" width="3.2" height="2.2" fill="#000"/>
<text x="400.60" y="693.50" font-size="4.2" font-weight="normal" text-anchor="end" fill="#333"  stroke="#333" stroke-width="0.1">200</text>
<rect x="402.00" y="652.50" width="3.2" height="2.2" fill="#000"/>
<text x="400.60" y="655.10" font-size="4.2" font-weight="normal" text-anchor="end" fill="#333"  stroke="#333" stroke-width="0.1">400</text>
<rect x="402.00" y="614.70" width="3.2" height="2.2" fill="#000"/>
<text x="400.60" y="617.30" font-size="4.2" font-weight="normal" text-anchor="end" fill="#333"  stroke="#333" stroke-width="0.1">600</text>
<line x1="403.40" y1="729.00" x2="405.20" y2="729.00" stroke="#111" stroke-width="0.9" />
<line x1="403.40" y1="719.75" x2="405.20" y2="719.75" stroke="#111" stroke-width="0.9" />
<line x1="403.40" y1="710.50" x2="405.20" y2="710.50" stroke="#111" stroke-width="0.9" />
<line x1="403.40" y1="701.25" x2="405.20" y2="701.25" stroke="#111" stroke-width="0.9" />
<line x1="403.40" y1="692.00" x2="405.20" y2="692.00" stroke="#111" stroke-width="0.9" />
<line x1="403.40" y1="682.75" x2="405.20" y2="682.75" stroke="#111" stroke-width="0.9" />
<line x1="403.40" y1="673.50" x2="405.20" y2="673.50" stroke="#111" stroke-width="0.9" />
<line x1="403.40" y1="664.25" x2="405.20" y2="664.25" stroke="#111" stroke-width="0.9" />
<line x1="403.40" y1="655.00" x2="405.20" y2="655.00" stroke="#111" stroke-width="0.9" />
<line x1="403.40" y1="645.75" x2="405.20" y2="645.75" stroke="#111" stroke-width="0.9" />
<line x1="403.40" y1="636.50" x2="405.20" y2="636.50" stroke="#111" stroke-width="0.9" />
<line x1="403.40" y1="627.25" x2="405.20" y2="627.25" stroke="#111" stroke-width="0.9" />
<line x1="403.40" y1="618.00" x2="405.20" y2="618.00" stroke="#111" stroke-width="0.9" />
<rect x="405.10" y="729.80" width="2.2" height="3.2" fill="#000"/>
<text x="406.20" y="737.80" font-size="4.2" font-weight="normal" text-anchor="middle" fill="#333"  stroke="#333" stroke-width="0.1">0</text>
<rect x="426.80" y="729.80" width="2.2" height="3.2" fill="#000"/>
<text x="427.90" y="737.80" font-size="4.2" font-weight="normal" text-anchor="middle" fill="#333"  stroke="#333" stroke-width="0.1">50K</text>
<rect x="448.50" y="729.80" width="2.2" height="3.2" fill="#000"/>
<text x="449.60" y="737.80" font-size="4.2" font-weight="normal" text-anchor="middle" fill="#333"  stroke="#333" stroke-width="0.1">100K</text>
<rect x="471.20" y="729.80" width="2.2" height="3.2" fill="#000"/>
<text x="472.30" y="737.80" font-size="4.2" font-weight="normal" text-anchor="middle" fill="#333"  stroke="#333" stroke-width="0.1">150K</text>
<rect x="493.40" y="729.80" width="2.2" height="3.2" fill="#000"/>
<text x="494.50" y="737.80" font-size="4.2" font-weight="normal" text-anchor="middle" fill="#333"  stroke="#333" stroke-width="0.1">200K</text>
<rect x="515.50" y="729.80" width="2.2" height="3.2" fill="#000"/>
<text x="516.60" y="737.80" font-size="4.2" font-weight="normal" text-anchor="middle" fill="#333"  stroke="#333" stroke-width="0.1">250K</text>
<line x1="406.20" y1="729.80" x2="406.20" y2="731.60" stroke="#111" stroke-width="0.9" />
<line x1="410.54" y1="729.80" x2="410.54" y2="731.60" stroke="#111" stroke-width="0.9" />
<line x1="414.88" y1="729.80" x2="414.88" y2="731.60" stroke="#111" stroke-width="0.9" />
<line x1="419.22" y1="729.80" x2="419.22" y2="731.60" stroke="#111" stroke-width="0.9" />
<line x1="423.56" y1="729.80" x2="423.56" y2="731.60" stroke="#111" stroke-width="0.9" />
<line x1="427.90" y1="729.80" x2="427.90" y2="731.60" stroke="#111" stroke-width="0.9" />
<line x1="432.24" y1="729.80" x2="432.24" y2="731.60" stroke="#111" stroke-width="0.9" />
<line x1="436.58" y1="729.80" x2="436.58" y2="731.60" stroke="#111" stroke-width="0.9" />
<line x1="440.92" y1="729.80" x2="440.92" y2="731.60" stroke="#111" stroke-width="0.9" />
<line x1="445.26" y1="729.80" x2="445.26" y2="731.60" stroke="#111" stroke-width="0.9" />
<line x1="449.60" y1="729.80" x2="449.60" y2="731.60" stroke="#111" stroke-width="0.9" />
<line x1="453.94" y1="729.80" x2="453.94" y2="731.60" stroke="#111" stroke-width="0.9" />
<line x1="458.28" y1="729.80" x2="458.28" y2="731.60" stroke="#111" stroke-width="0.9" />
<line x1="462.62" y1="729.80" x2="462.62" y2="731.60" stroke="#111" stroke-width="0.9" />
<line x1="466.96" y1="729.80" x2="466.96" y2="731.60" stroke="#111" stroke-width="0.9" />
<line x1="471.30" y1="729.80" x2="471.30" y2="731.60" stroke="#111" stroke-width="0.9" />
<line x1="475.64" y1="729.80" x2="475.64" y2="731.60" stroke="#111" stroke-width="0.9" />
<line x1="479.98" y1="729.80" x2="479.98" y2="731.60" stroke="#111" stroke-width="0.9" />
<line x1="484.32" y1="729.80" x2="484.32" y2="731.60" stroke="#111" stroke-width="0.9" />
<line x1="488.66" y1="729.80" x2="488.66" y2="731.60" stroke="#111" stroke-width="0.9" />
<line x1="493.00" y1="729.80" x2="493.00" y2="731.60" stroke="#111" stroke-width="0.9" />
<line x1="497.34" y1="729.80" x2="497.34" y2="731.60" stroke="#111" stroke-width="0.9" />
<line x1="501.68" y1="729.80" x2="501.68" y2="731.60" stroke="#111" stroke-width="0.9" />
<line x1="506.02" y1="729.80" x2="506.02" y2="731.60" stroke="#111" stroke-width="0.9" />
<line x1="510.36" y1="729.80" x2="510.36" y2="731.60" stroke="#111" stroke-width="0.9" />
<line x1="514.70" y1="729.80" x2="514.70" y2="731.60" stroke="#111" stroke-width="0.9" />
<line x1="519.04" y1="729.80" x2="519.04" y2="731.60" stroke="#111" stroke-width="0.9" />
<text transform="translate(390.30,668.00) rotate(-90)" x="0" y="3.15" font-size="9" font-weight="normal" text-anchor="middle" fill="#222" stroke="#222" stroke-width="0.22">Count</text>
<text x="461.60" y="747.20" font-size="8" font-weight="normal" text-anchor="middle" fill="#333"  stroke="#333" stroke-width="0.22">PI</text>
<text x="466.60" y="755.60" font-size="9" font-weight="bold" text-anchor="middle" fill="#111"  stroke="#111" stroke-width="0.22">Untreated</text>
<text x="472.20" y="622.70" font-size="8.9" font-weight="bold" fill="#3399f5" textLength="48.2" lengthAdjust="spacingAndGlyphs" stroke="#3399f5" stroke-width="0.22">%G1= 34.3%</text>
<text x="472.20" y="632.70" font-size="8.9" font-weight="bold" fill="#e6cc1a" textLength="36.0" lengthAdjust="spacingAndGlyphs" stroke="#e6cc1a" stroke-width="0.22">%S= 55%</text>
<text x="472.20" y="642.70" font-size="8.9" font-weight="bold" fill="#22c422" textLength="48.2" lengthAdjust="spacingAndGlyphs" stroke="#22c422" stroke-width="0.22">%G2= 10.7%</text>
<path d="M588.50,729.20 L588.71,728.20 L588.99,727.04 L589.27,725.82 L589.55,724.54 L589.84,723.79 L590.12,723.63 L590.40,723.32 L590.69,723.03 L590.97,722.83 L591.25,722.56 L591.53,722.76 L591.82,722.54 L592.10,723.66 L592.38,723.23 L592.67,722.78 L592.95,723.29 L593.23,723.15 L593.51,724.26 L593.80,724.00 L594.08,724.41 L594.36,724.17 L594.65,724.23 L594.93,724.99 L595.21,724.80 L595.49,724.77 L595.78,724.04 L596.06,724.24 L596.34,724.98 L596.63,724.23 L596.91,725.03 L597.19,724.46 L597.47,725.05 L597.76,725.20 L598.04,724.16 L598.32,724.96 L598.61,724.96 L598.89,724.04 L599.17,724.18 L599.45,724.88 L599.74,724.08 L600.02,724.59 L600.30,724.42 L600.59,724.99 L600.87,724.11 L601.15,724.42 L601.43,724.09 L601.72,724.18 L602.00,724.90 L602.28,724.83 L602.57,725.06 L602.85,725.09 L603.13,725.19 L603.41,724.91 L603.70,724.55 L603.98,725.27 L604.26,724.47 L604.55,724.88 L604.83,724.92 L605.11,724.31 L605.39,724.72 L605.68,724.92 L605.96,724.72 L606.24,724.46 L606.53,725.24 L606.81,724.14 L607.09,725.29 L607.37,724.42 L607.66,724.31 L607.94,725.30 L608.22,724.38 L608.51,724.89 L608.79,724.64 L609.07,725.32 L609.35,725.28 L609.64,725.12 L609.92,724.20 L610.20,725.11 L610.49,724.44 L610.77,724.24 L611.05,724.23 L611.33,724.95 L611.62,724.94 L611.90,724.74 L612.18,724.44 L612.47,725.24 L612.75,724.48 L613.03,724.78 L613.31,724.78 L613.60,724.79 L613.88,724.79 L614.16,724.79 L614.45,724.80 L614.73,724.80 L615.01,724.83 L615.29,725.60 L615.58,726.36 L615.86,727.13 L616.14,727.89 L616.64,729.20 Z" fill="#e6e2a4" stroke="#c8b830" stroke-width="0.5"/>
<path d="M583.70,729.19 L583.93,729.18 L584.15,729.16 L584.38,729.10 L584.60,728.98 L584.83,728.73 L585.05,728.24 L585.28,727.35 L585.50,725.79 L585.73,723.24 L585.95,719.26 L586.18,713.42 L586.40,705.34 L586.62,694.84 L586.85,682.05 L587.08,667.58 L587.30,652.50 L587.53,638.26 L587.75,626.50 L587.98,618.72 L588.20,616.00 L588.43,618.72 L588.65,626.50 L588.88,638.26 L589.10,652.50 L589.33,667.58 L589.55,682.05 L589.78,694.84 L590.00,705.34 L590.23,713.42 L590.45,719.26 L590.68,723.24 L590.90,725.79 L591.12,727.35 L591.35,728.24 L591.58,728.73 L591.80,728.98 L592.03,729.10 L592.25,729.16 L592.48,729.18 L592.70,729.19 Z" fill="#b6b4f6" stroke="#4a3ae0" stroke-width="1.0"/>
<path d="M609.80,729.17 L610.05,729.15 L610.30,729.12 L610.55,729.08 L610.80,729.02 L611.05,728.93 L611.30,728.82 L611.55,728.67 L611.80,728.48 L612.05,728.24 L612.30,727.96 L612.55,727.64 L612.80,727.28 L613.05,726.89 L613.30,726.49 L613.55,726.10 L613.80,725.75 L614.05,725.44 L614.30,725.20 L614.55,725.05 L614.80,725.00 L615.05,725.05 L615.30,725.20 L615.55,725.44 L615.80,725.75 L616.05,726.10 L616.30,726.49 L616.55,726.89 L616.80,727.28 L617.05,727.64 L617.30,727.96 L617.55,728.24 L617.80,728.48 L618.05,728.67 L618.30,728.82 L618.55,728.93 L618.80,729.02 L619.05,729.08 L619.30,729.12 L619.55,729.15 L619.80,729.17 Z" fill="#a6e4a0" stroke="#36d436" stroke-width="1.0"/>
<path d="M582.20,729.20 L582.48,729.20 L582.77,729.20 L583.05,729.19 L583.33,729.17 L583.61,729.12 L583.90,729.02 L584.18,728.79 L584.46,728.31 L584.75,727.40 L585.03,725.76 L585.31,722.95 L585.59,718.49 L585.88,711.81 L586.16,702.51 L586.44,690.45 L586.73,675.98 L587.01,660.05 L587.29,644.21 L587.57,630.39 L587.86,620.53 L588.14,616.14 L588.42,617.94 L588.71,624.42 L588.99,636.08 L589.27,650.59 L589.55,665.93 L589.84,680.72 L590.12,693.78 L590.40,704.17 L590.69,711.82 L590.97,717.09 L591.25,720.47 L591.53,721.76 L591.82,721.54 L592.10,722.66 L592.38,722.23 L592.67,721.78 L592.95,722.29 L593.23,722.15 L593.51,723.26 L593.80,723.00 L594.08,723.41 L594.36,723.17 L594.65,723.23 L594.93,723.99 L595.21,723.80 L595.49,723.77 L595.78,723.04 L596.06,723.24 L596.34,723.98 L596.63,723.23 L596.91,724.03 L597.19,723.46 L597.47,724.05 L597.76,724.20 L598.04,723.16 L598.32,723.96 L598.61,723.96 L598.89,723.04 L599.17,723.18 L599.45,723.88 L599.74,723.08 L600.02,723.59 L600.30,723.42 L600.59,723.99 L600.87,723.11 L601.15,723.42 L601.43,723.09 L601.72,723.18 L602.00,723.90 L602.28,723.83 L602.57,724.06 L602.85,724.09 L603.13,724.19 L603.41,723.91 L603.70,723.55 L603.98,724.27 L604.26,723.47 L604.55,723.88 L604.83,723.92 L605.11,723.31 L605.39,723.72 L605.68,723.92 L605.96,723.72 L606.24,723.46 L606.53,724.24 L606.81,723.14 L607.09,724.29 L607.37,723.42 L607.66,723.31 L607.94,724.30 L608.22,723.38 L608.51,723.89 L608.79,723.64 L609.07,724.32 L609.35,724.28 L609.64,724.12 L609.92,723.20 L610.20,724.11 L610.49,723.44 L610.77,723.24 L611.05,723.23 L611.33,723.95 L611.62,723.94 L611.90,723.74 L612.18,723.44 L612.47,724.24 L612.75,723.48 L613.03,723.26 L613.31,722.24 L613.60,721.26 L613.88,720.39 L614.16,719.69 L614.45,719.22 L614.73,719.01 L615.01,719.08 L615.29,719.42 L615.58,720.01 L615.86,720.80 L616.14,721.73 L616.43,722.74 L616.71,723.77 L616.99,724.76 L617.27,725.66 L617.56,726.46 L617.84,727.14 L618.12,727.69 L618.41,728.12 L618.69,728.45 L618.97,728.70 L619.25,728.87 L619.54,728.99 L619.82,729.07 L620.10,729.12 L620.39,729.15 L620.67,729.17 L620.95,729.19 L621.23,729.19 L621.52,729.20 L621.80,729.20" fill="none" stroke="#000" stroke-width="1.9" stroke-linejoin="round"/>
<path d="M582.20,729.20 L582.48,729.20 L582.77,729.20 L583.05,729.19 L583.33,729.17 L583.61,729.12 L583.90,729.02 L584.18,728.79 L584.46,728.31 L584.75,727.40 L585.03,725.76 L585.31,722.95 L585.59,718.49 L585.88,711.81 L586.16,702.51 L586.44,690.45 L586.73,675.98 L587.01,660.05 L587.29,644.21 L587.57,630.39 L587.86,620.53 L588.14,616.14 L588.42,617.94 L588.71,624.42 L588.99,636.08 L589.27,650.59 L589.55,665.93 L589.84,680.72 L590.12,693.78 L590.40,704.17 L590.69,711.82 L590.97,717.09 L591.25,720.47 L591.53,721.76 L591.82,721.54 L592.10,722.66 L592.38,722.23 L592.67,721.78 L592.95,722.29 L593.23,722.15 L593.51,723.26 L593.80,723.00 L594.08,723.41 L594.36,723.17 L594.65,723.23 L594.93,723.99 L595.21,723.80 L595.49,723.77 L595.78,723.04 L596.06,723.24 L596.34,723.98 L596.63,723.23 L596.91,724.03 L597.19,723.46 L597.47,724.05 L597.76,724.20 L598.04,723.16 L598.32,723.96 L598.61,723.96 L598.89,723.04 L599.17,723.18 L599.45,723.88 L599.74,723.08 L600.02,723.59 L600.30,723.42 L600.59,723.99 L600.87,723.11 L601.15,723.42 L601.43,723.09 L601.72,723.18 L602.00,723.90 L602.28,723.83 L602.57,724.06 L602.85,724.09 L603.13,724.19 L603.41,723.91 L603.70,723.55 L603.98,724.27 L604.26,723.47 L604.55,723.88 L604.83,723.92 L605.11,723.31 L605.39,723.72 L605.68,723.92 L605.96,723.72 L606.24,723.46 L606.53,724.24 L606.81,723.14 L607.09,724.29 L607.37,723.42 L607.66,723.31 L607.94,724.30 L608.22,723.38 L608.51,723.89 L608.79,723.64 L609.07,724.32 L609.35,724.28 L609.64,724.12 L609.92,723.20 L610.20,724.11 L610.49,723.44 L610.77,723.24 L611.05,723.23 L611.33,723.95 L611.62,723.94 L611.90,723.74 L612.18,723.44 L612.47,724.24 L612.75,723.48 L613.03,723.26 L613.31,722.24 L613.60,721.26 L613.88,720.39 L614.16,719.69 L614.45,719.22 L614.73,719.01 L615.01,719.08 L615.29,719.42 L615.58,720.01 L615.86,720.80 L616.14,721.73 L616.43,722.74 L616.71,723.77 L616.99,724.76 L617.27,725.66 L617.56,726.46 L617.84,727.14 L618.12,727.69 L618.41,728.12 L618.69,728.45 L618.97,728.70 L619.25,728.87 L619.54,728.99 L619.82,729.07 L620.10,729.12 L620.39,729.15 L620.67,729.17 L620.95,729.19 L621.23,729.19 L621.52,729.20 L621.80,729.20" fill="none" stroke="#e81ee8" stroke-width="1.1" stroke-linejoin="round" transform="translate(0.4,0.6)"/>
<rect x="561.90" y="613.50" width="117.30" height="116.30" fill="none" stroke="#111" stroke-width="1.0"/>
<line x1="561.30" y1="729.80" x2="679.80" y2="729.80" stroke="#000" stroke-width="1.8" />
<line x1="561.90" y1="613.50" x2="561.90" y2="729.80" stroke="#000" stroke-width="1.8" />
<rect x="558.70" y="727.90" width="3.2" height="2.2" fill="#000"/>
<text x="557.30" y="730.50" font-size="4.2" font-weight="normal" text-anchor="end" fill="#333"  stroke="#333" stroke-width="0.1">0</text>
<rect x="558.70" y="707.30" width="3.2" height="2.2" fill="#000"/>
<text x="557.30" y="709.90" font-size="4.2" font-weight="normal" text-anchor="end" fill="#333"  stroke="#333" stroke-width="0.1">200</text>
<rect x="558.70" y="685.40" width="3.2" height="2.2" fill="#000"/>
<text x="557.30" y="688.00" font-size="4.2" font-weight="normal" text-anchor="end" fill="#333"  stroke="#333" stroke-width="0.1">400</text>
<rect x="558.70" y="664.10" width="3.2" height="2.2" fill="#000"/>
<text x="557.30" y="666.70" font-size="4.2" font-weight="normal" text-anchor="end" fill="#333"  stroke="#333" stroke-width="0.1">600</text>
<rect x="558.70" y="642.60" width="3.2" height="2.2" fill="#000"/>
<text x="557.30" y="645.20" font-size="4.2" font-weight="normal" text-anchor="end" fill="#333"  stroke="#333" stroke-width="0.1">800</text>
<rect x="558.70" y="621.10" width="3.2" height="2.2" fill="#000"/>
<text x="557.30" y="623.70" font-size="4.2" font-weight="normal" text-anchor="end" fill="#333"  stroke="#333" stroke-width="0.1">1.0K</text>
<line x1="560.10" y1="729.00" x2="561.90" y2="729.00" stroke="#111" stroke-width="0.9" />
<line x1="560.10" y1="723.85" x2="561.90" y2="723.85" stroke="#111" stroke-width="0.9" />
<line x1="560.10" y1="718.70" x2="561.90" y2="718.70" stroke="#111" stroke-width="0.9" />
<line x1="560.10" y1="713.55" x2="561.90" y2="713.55" stroke="#111" stroke-width="0.9" />
<line x1="560.10" y1="708.40" x2="561.90" y2="708.40" stroke="#111" stroke-width="0.9" />
<line x1="560.10" y1="703.25" x2="561.90" y2="703.25" stroke="#111" stroke-width="0.9" />
<line x1="560.10" y1="698.10" x2="561.90" y2="698.10" stroke="#111" stroke-width="0.9" />
<line x1="560.10" y1="692.95" x2="561.90" y2="692.95" stroke="#111" stroke-width="0.9" />
<line x1="560.10" y1="687.80" x2="561.90" y2="687.80" stroke="#111" stroke-width="0.9" />
<line x1="560.10" y1="682.65" x2="561.90" y2="682.65" stroke="#111" stroke-width="0.9" />
<line x1="560.10" y1="677.50" x2="561.90" y2="677.50" stroke="#111" stroke-width="0.9" />
<line x1="560.10" y1="672.35" x2="561.90" y2="672.35" stroke="#111" stroke-width="0.9" />
<line x1="560.10" y1="667.20" x2="561.90" y2="667.20" stroke="#111" stroke-width="0.9" />
<line x1="560.10" y1="662.05" x2="561.90" y2="662.05" stroke="#111" stroke-width="0.9" />
<line x1="560.10" y1="656.90" x2="561.90" y2="656.90" stroke="#111" stroke-width="0.9" />
<line x1="560.10" y1="651.75" x2="561.90" y2="651.75" stroke="#111" stroke-width="0.9" />
<line x1="560.10" y1="646.60" x2="561.90" y2="646.60" stroke="#111" stroke-width="0.9" />
<line x1="560.10" y1="641.45" x2="561.90" y2="641.45" stroke="#111" stroke-width="0.9" />
<line x1="560.10" y1="636.30" x2="561.90" y2="636.30" stroke="#111" stroke-width="0.9" />
<line x1="560.10" y1="631.15" x2="561.90" y2="631.15" stroke="#111" stroke-width="0.9" />
<line x1="560.10" y1="626.00" x2="561.90" y2="626.00" stroke="#111" stroke-width="0.9" />
<line x1="560.10" y1="620.85" x2="561.90" y2="620.85" stroke="#111" stroke-width="0.9" />
<line x1="560.10" y1="615.70" x2="561.90" y2="615.70" stroke="#111" stroke-width="0.9" />
<rect x="561.70" y="729.80" width="2.2" height="3.2" fill="#000"/>
<text x="562.80" y="737.80" font-size="4.2" font-weight="normal" text-anchor="middle" fill="#333"  stroke="#333" stroke-width="0.1">0</text>
<rect x="583.00" y="729.80" width="2.2" height="3.2" fill="#000"/>
<text x="584.10" y="737.80" font-size="4.2" font-weight="normal" text-anchor="middle" fill="#333"  stroke="#333" stroke-width="0.1">50K</text>
<rect x="604.90" y="729.80" width="2.2" height="3.2" fill="#000"/>
<text x="606.00" y="737.80" font-size="4.2" font-weight="normal" text-anchor="middle" fill="#333"  stroke="#333" stroke-width="0.1">100K</text>
<rect x="627.40" y="729.80" width="2.2" height="3.2" fill="#000"/>
<text x="628.50" y="737.80" font-size="4.2" font-weight="normal" text-anchor="middle" fill="#333"  stroke="#333" stroke-width="0.1">150K</text>
<rect x="649.60" y="729.80" width="2.2" height="3.2" fill="#000"/>
<text x="650.70" y="737.80" font-size="4.2" font-weight="normal" text-anchor="middle" fill="#333"  stroke="#333" stroke-width="0.1">200K</text>
<rect x="671.80" y="729.80" width="2.2" height="3.2" fill="#000"/>
<text x="672.90" y="737.80" font-size="4.2" font-weight="normal" text-anchor="middle" fill="#333"  stroke="#333" stroke-width="0.1">250K</text>
<line x1="562.80" y1="729.80" x2="562.80" y2="731.60" stroke="#111" stroke-width="0.9" />
<line x1="567.06" y1="729.80" x2="567.06" y2="731.60" stroke="#111" stroke-width="0.9" />
<line x1="571.32" y1="729.80" x2="571.32" y2="731.60" stroke="#111" stroke-width="0.9" />
<line x1="575.58" y1="729.80" x2="575.58" y2="731.60" stroke="#111" stroke-width="0.9" />
<line x1="579.84" y1="729.80" x2="579.84" y2="731.60" stroke="#111" stroke-width="0.9" />
<line x1="584.10" y1="729.80" x2="584.10" y2="731.60" stroke="#111" stroke-width="0.9" />
<line x1="588.36" y1="729.80" x2="588.36" y2="731.60" stroke="#111" stroke-width="0.9" />
<line x1="592.62" y1="729.80" x2="592.62" y2="731.60" stroke="#111" stroke-width="0.9" />
<line x1="596.88" y1="729.80" x2="596.88" y2="731.60" stroke="#111" stroke-width="0.9" />
<line x1="601.14" y1="729.80" x2="601.14" y2="731.60" stroke="#111" stroke-width="0.9" />
<line x1="605.40" y1="729.80" x2="605.40" y2="731.60" stroke="#111" stroke-width="0.9" />
<line x1="609.66" y1="729.80" x2="609.66" y2="731.60" stroke="#111" stroke-width="0.9" />
<line x1="613.92" y1="729.80" x2="613.92" y2="731.60" stroke="#111" stroke-width="0.9" />
<line x1="618.18" y1="729.80" x2="618.18" y2="731.60" stroke="#111" stroke-width="0.9" />
<line x1="622.44" y1="729.80" x2="622.44" y2="731.60" stroke="#111" stroke-width="0.9" />
<line x1="626.70" y1="729.80" x2="626.70" y2="731.60" stroke="#111" stroke-width="0.9" />
<line x1="630.96" y1="729.80" x2="630.96" y2="731.60" stroke="#111" stroke-width="0.9" />
<line x1="635.22" y1="729.80" x2="635.22" y2="731.60" stroke="#111" stroke-width="0.9" />
<line x1="639.48" y1="729.80" x2="639.48" y2="731.60" stroke="#111" stroke-width="0.9" />
<line x1="643.74" y1="729.80" x2="643.74" y2="731.60" stroke="#111" stroke-width="0.9" />
<line x1="648.00" y1="729.80" x2="648.00" y2="731.60" stroke="#111" stroke-width="0.9" />
<line x1="652.26" y1="729.80" x2="652.26" y2="731.60" stroke="#111" stroke-width="0.9" />
<line x1="656.52" y1="729.80" x2="656.52" y2="731.60" stroke="#111" stroke-width="0.9" />
<line x1="660.78" y1="729.80" x2="660.78" y2="731.60" stroke="#111" stroke-width="0.9" />
<line x1="665.04" y1="729.80" x2="665.04" y2="731.60" stroke="#111" stroke-width="0.9" />
<line x1="669.30" y1="729.80" x2="669.30" y2="731.60" stroke="#111" stroke-width="0.9" />
<line x1="673.56" y1="729.80" x2="673.56" y2="731.60" stroke="#111" stroke-width="0.9" />
<line x1="677.82" y1="729.80" x2="677.82" y2="731.60" stroke="#111" stroke-width="0.9" />
<text transform="translate(542.50,668.00) rotate(-90)" x="0" y="3.15" font-size="9" font-weight="normal" text-anchor="middle" fill="#222" stroke="#222" stroke-width="0.22">Count</text>
<text x="618.00" y="747.20" font-size="8" font-weight="normal" text-anchor="middle" fill="#333"  stroke="#333" stroke-width="0.22">PI</text>
<text x="623.00" y="755.60" font-size="9" font-weight="bold" text-anchor="middle" fill="#111"  stroke="#111" stroke-width="0.22">PIM447</text>
<text x="628.90" y="622.70" font-size="8.9" font-weight="bold" fill="#3399f5" textLength="49.0" lengthAdjust="spacingAndGlyphs" stroke="#3399f5" stroke-width="0.22">%G1= 58.7%</text>
<text x="628.90" y="632.70" font-size="8.9" font-weight="bold" fill="#e6cc1a" textLength="42.7" lengthAdjust="spacingAndGlyphs" stroke="#e6cc1a" stroke-width="0.22">%S= 35.7%</text>
<text x="628.90" y="642.70" font-size="8.9" font-weight="bold" fill="#22c422" textLength="43.7" lengthAdjust="spacingAndGlyphs" stroke="#22c422" stroke-width="0.22">%G2= 5.6%</text>
<defs><filter id="bl" x="-20%" y="-100%" width="140%" height="300%"><feGaussianBlur stdDeviation="0.8"/></filter><filter id="bl2" x="-20%" y="-100%" width="140%" height="300%"><feGaussianBlur stdDeviation="0.5"/></filter></defs>
<text x="176.20" y="784.70" font-size="9" font-weight="bold" text-anchor="middle" fill="#111"  stroke="#111" stroke-width="0.22">M07e</text>
<line x1="50.00" y1="788.20" x2="298.20" y2="788.20" stroke="#111" stroke-width="1.3" />
<text x="514.80" y="784.70" font-size="9" font-weight="bold" text-anchor="middle" fill="#111"  stroke="#111" stroke-width="0.22">Ba/F3</text>
<line x1="392.50" y1="788.20" x2="643.20" y2="788.20" stroke="#111" stroke-width="1.3" />
<text x="61.40" y="811.40" font-size="8.9" font-weight="normal" text-anchor="end" fill="#222"  stroke="#222" stroke-width="0.22">Mutant:</text>
<text x="10.90" y="825.40" font-size="8.9" font-weight="normal" text-anchor="start" fill="#222"  stroke="#222" stroke-width="0.22">PIM447(1µM):</text>
<text x="88.20" y="804.90" font-size="9" font-weight="normal" text-anchor="middle" fill="#222"  stroke="#222" stroke-width="0.22">J3Q988P</text>
<line x1="68.00" y1="809.60" x2="107.70" y2="809.60" stroke="#111" stroke-width="1.3" />
<text x="177.30" y="804.90" font-size="9" font-weight="normal" text-anchor="middle" fill="#222"  stroke="#222" stroke-width="0.22">J1V658F</text>
<line x1="157.90" y1="809.60" x2="197.10" y2="809.60" stroke="#111" stroke-width="1.3" />
<text x="261.20" y="804.90" font-size="9" font-weight="normal" text-anchor="middle" fill="#222"  stroke="#222" stroke-width="0.22">S5N642H</text>
<line x1="241.40" y1="809.60" x2="280.60" y2="809.60" stroke="#111" stroke-width="1.3" />
<text x="74.00" y="825.40" font-size="9" font-weight="normal" text-anchor="middle" fill="#222"  stroke="#222" stroke-width="0.22">-</text>
<text x="97.20" y="825.40" font-size="9" font-weight="normal" text-anchor="middle" fill="#222"  stroke="#222" stroke-width="0.22">+</text>
<text x="163.40" y="825.40" font-size="9" font-weight="normal" text-anchor="middle" fill="#222"  stroke="#222" stroke-width="0.22">-</text>
<text x="186.50" y="825.40" font-size="9" font-weight="normal" text-anchor="middle" fill="#222"  stroke="#222" stroke-width="0.22">+</text>
<text x="247.50" y="825.40" font-size="9" font-weight="normal" text-anchor="middle" fill="#222"  stroke="#222" stroke-width="0.22">-</text>
<text x="270.00" y="825.40" font-size="9" font-weight="normal" text-anchor="middle" fill="#222"  stroke="#222" stroke-width="0.22">+</text>
<rect x="46.00" y="832.10" width="79.00" height="24.80" fill="#e6e6e6" stroke="#111" stroke-width="1.7"/>
<rect x="46.00" y="862.80" width="79.00" height="25.70" fill="#e6e6e6" stroke="#111" stroke-width="1.7"/>
<rect x="133.60" y="832.10" width="78.40" height="24.80" fill="#e6e6e6" stroke="#111" stroke-width="1.7"/>
<rect x="133.60" y="862.80" width="78.40" height="25.70" fill="#e6e6e6" stroke="#111" stroke-width="1.7"/>
<rect x="220.30" y="832.10" width="78.40" height="24.80" fill="#e6e6e6" stroke="#111" stroke-width="1.7"/>
<rect x="220.30" y="862.80" width="78.40" height="25.70" fill="#e6e6e6" stroke="#111" stroke-width="1.7"/>
<path d="M64.30,844.70 L65.10,843.43 L65.91,843.10 L66.71,842.95 L67.52,842.86 L68.32,842.81 L69.12,842.77 L69.93,842.74 L70.73,842.71 L71.54,842.68 L72.34,842.65 L73.15,842.62 L73.95,842.59 L74.75,842.56 L75.56,842.54 L76.36,842.51 L77.17,842.48 L77.97,842.45 L78.77,842.43 L79.58,842.41 L80.38,842.41 L81.19,842.46 L81.99,842.60 L82.80,842.99 L83.60,844.70 L83.60,844.70 L82.80,846.41 L81.99,846.80 L81.19,846.94 L80.38,846.99 L79.58,846.99 L78.77,846.97 L77.97,846.95 L77.17,846.92 L76.36,846.89 L75.56,846.86 L74.75,846.84 L73.95,846.81 L73.15,846.78 L72.34,846.75 L71.54,846.72 L70.73,846.69 L69.93,846.66 L69.12,846.63 L68.32,846.59 L67.52,846.54 L66.71,846.45 L65.91,846.30 L65.10,845.97 L64.30,844.70 Z" fill="#0a0a0a" fill-opacity="1.0" filter="url(#bl2)"/>
<path d="M88.00,844.90 L88.80,843.94 L89.60,843.70 L90.40,843.58 L91.20,843.51 L92.00,843.47 L92.80,843.44 L93.60,843.42 L94.40,843.40 L95.20,843.37 L96.00,843.35 L96.80,843.33 L97.60,843.31 L98.40,843.29 L99.20,843.27 L100.00,843.24 L100.80,843.22 L101.60,843.20 L102.40,843.18 L103.20,843.17 L104.00,843.17 L104.80,843.21 L105.60,843.32 L106.40,843.61 L107.20,844.90 L107.20,844.90 L106.40,846.19 L105.60,846.48 L104.80,846.59 L104.00,846.63 L103.20,846.63 L102.40,846.62 L101.60,846.60 L100.80,846.58 L100.00,846.56 L99.20,846.53 L98.40,846.51 L97.60,846.49 L96.80,846.47 L96.00,846.45 L95.20,846.43 L94.40,846.40 L93.60,846.38 L92.80,846.36 L92.00,846.33 L91.20,846.29 L90.40,846.22 L89.60,846.10 L88.80,845.86 L88.00,844.90 Z" fill="#222" fill-opacity="0.86" filter="url(#bl)"/>
<path d="M154.70,844.40 L155.47,843.23 L156.24,842.93 L157.01,842.79 L157.78,842.71 L158.55,842.66 L159.32,842.63 L160.10,842.60 L160.87,842.57 L161.64,842.54 L162.41,842.52 L163.18,842.49 L163.95,842.47 L164.72,842.44 L165.49,842.41 L166.26,842.39 L167.03,842.36 L167.80,842.33 L168.57,842.31 L169.35,842.30 L170.12,842.30 L170.89,842.34 L171.66,842.47 L172.43,842.83 L173.20,844.40 L173.20,844.40 L172.43,845.97 L171.66,846.33 L170.89,846.46 L170.12,846.50 L169.35,846.50 L168.57,846.49 L167.80,846.47 L167.03,846.44 L166.26,846.41 L165.49,846.39 L164.72,846.36 L163.95,846.33 L163.18,846.31 L162.41,846.28 L161.64,846.26 L160.87,846.23 L160.10,846.20 L159.32,846.17 L158.55,846.14 L157.78,846.09 L157.01,846.01 L156.24,845.87 L155.47,845.57 L154.70,844.40 Z" fill="#0a0a0a" fill-opacity="1.0" filter="url(#bl2)"/>
<path d="M177.20,844.70 L177.97,843.77 L178.73,843.53 L179.50,843.41 L180.27,843.35 L181.03,843.31 L181.80,843.28 L182.57,843.26 L183.33,843.24 L184.10,843.22 L184.87,843.19 L185.63,843.17 L186.40,843.15 L187.17,843.13 L187.93,843.11 L188.70,843.09 L189.47,843.07 L190.23,843.05 L191.00,843.03 L191.77,843.02 L192.53,843.02 L193.30,843.05 L194.07,843.16 L194.83,843.44 L195.60,844.70 L195.60,844.70 L194.83,845.96 L194.07,846.24 L193.30,846.35 L192.53,846.38 L191.77,846.38 L191.00,846.37 L190.23,846.35 L189.47,846.33 L188.70,846.31 L187.93,846.29 L187.17,846.27 L186.40,846.25 L185.63,846.23 L184.87,846.21 L184.10,846.18 L183.33,846.16 L182.57,846.14 L181.80,846.12 L181.03,846.09 L180.27,846.05 L179.50,845.99 L178.73,845.87 L177.97,845.63 L177.20,844.70 Z" fill="#2a2a2a" fill-opacity="0.75" filter="url(#bl)"/>
<path d="M238.80,849.80 L239.58,848.58 L240.37,848.27 L241.15,848.12 L241.93,848.03 L242.72,847.98 L243.50,847.95 L244.28,847.92 L245.07,847.89 L245.85,847.86 L246.63,847.83 L247.42,847.81 L248.20,847.78 L248.98,847.75 L249.77,847.72 L250.55,847.70 L251.33,847.67 L252.12,847.64 L252.90,847.62 L253.68,847.60 L254.47,847.60 L255.25,847.65 L256.03,847.79 L256.82,848.16 L257.60,849.80 L257.60,849.80 L256.82,851.44 L256.03,851.81 L255.25,851.95 L254.47,852.00 L253.68,852.00 L252.90,851.98 L252.12,851.96 L251.33,851.93 L250.55,851.90 L249.77,851.88 L248.98,851.85 L248.20,851.82 L247.42,851.79 L246.63,851.77 L245.85,851.74 L245.07,851.71 L244.28,851.68 L243.50,851.65 L242.72,851.62 L241.93,851.57 L241.15,851.48 L240.37,851.33 L239.58,851.02 L238.80,849.80 Z" fill="#0a0a0a" fill-opacity="1.0" filter="url(#bl2)"/>
<path d="M262.00,849.90 L262.77,849.02 L263.55,848.79 L264.32,848.68 L265.10,848.62 L265.88,848.59 L266.65,848.56 L267.43,848.54 L268.20,848.52 L268.98,848.50 L269.75,848.48 L270.53,848.46 L271.30,848.44 L272.07,848.42 L272.85,848.40 L273.62,848.38 L274.40,848.36 L275.18,848.34 L275.95,848.32 L276.73,848.31 L277.50,848.31 L278.28,848.34 L279.05,848.45 L279.83,848.71 L280.60,849.90 L280.60,849.90 L279.83,851.09 L279.05,851.35 L278.28,851.46 L277.50,851.49 L276.73,851.49 L275.95,851.48 L275.18,851.46 L274.40,851.44 L273.62,851.42 L272.85,851.40 L272.07,851.38 L271.30,851.36 L270.53,851.34 L269.75,851.32 L268.98,851.30 L268.20,851.28 L267.43,851.26 L266.65,851.24 L265.88,851.21 L265.10,851.18 L264.32,851.12 L263.55,851.01 L262.77,850.78 L262.00,849.90 Z" fill="#3a3a3a" fill-opacity="0.6" filter="url(#bl)"/>
<path d="M63.70,878.20 L64.61,876.14 L65.53,875.63 L66.44,875.39 L67.35,875.27 L68.26,875.21 L69.17,875.17 L70.09,875.15 L71.00,875.13 L71.91,875.12 L72.83,875.11 L73.74,875.10 L74.65,875.10 L75.56,875.10 L76.47,875.11 L77.39,875.12 L78.30,875.13 L79.21,875.15 L80.12,875.17 L81.04,875.21 L81.95,875.27 L82.86,875.39 L83.77,875.63 L84.69,876.14 L85.60,878.20 L85.60,878.20 L84.69,880.26 L83.77,880.77 L82.86,881.01 L81.95,881.13 L81.04,881.19 L80.12,881.23 L79.21,881.25 L78.30,881.27 L77.39,881.28 L76.47,881.29 L75.56,881.30 L74.65,881.30 L73.74,881.30 L72.83,881.29 L71.91,881.28 L71.00,881.27 L70.09,881.25 L69.17,881.23 L68.26,881.19 L67.35,881.13 L66.44,881.01 L65.53,880.77 L64.61,880.26 L63.70,878.20 Z" fill="#0a0a0a" fill-opacity="1.0" filter="url(#bl2)"/>
<path d="M86.40,878.20 L87.35,876.14 L88.30,875.63 L89.25,875.39 L90.20,875.27 L91.15,875.21 L92.10,875.17 L93.05,875.15 L94.00,875.13 L94.95,875.12 L95.90,875.11 L96.85,875.10 L97.80,875.10 L98.75,875.10 L99.70,875.11 L100.65,875.12 L101.60,875.13 L102.55,875.15 L103.50,875.17 L104.45,875.21 L105.40,875.27 L106.35,875.39 L107.30,875.63 L108.25,876.14 L109.20,878.20 L109.20,878.20 L108.25,880.26 L107.30,880.77 L106.35,881.01 L105.40,881.13 L104.45,881.19 L103.50,881.23 L102.55,881.25 L101.60,881.27 L100.65,881.28 L99.70,881.29 L98.75,881.30 L97.80,881.30 L96.85,881.30 L95.90,881.29 L94.95,881.28 L94.00,881.27 L93.05,881.25 L92.10,881.23 L91.15,881.19 L90.20,881.13 L89.25,881.01 L88.30,880.77 L87.35,880.26 L86.40,878.20 Z" fill="#0a0a0a" fill-opacity="1.0" filter="url(#bl2)"/>
<path d="M153.60,876.30 L154.48,874.30 L155.37,873.81 L156.25,873.58 L157.13,873.46 L158.02,873.40 L158.90,873.37 L159.78,873.34 L160.67,873.33 L161.55,873.32 L162.43,873.31 L163.32,873.30 L164.20,873.30 L165.08,873.30 L165.97,873.31 L166.85,873.32 L167.73,873.33 L168.62,873.34 L169.50,873.37 L170.38,873.40 L171.27,873.46 L172.15,873.58 L173.03,873.81 L173.92,874.30 L174.80,876.30 L174.80,876.30 L173.92,878.30 L173.03,878.79 L172.15,879.02 L171.27,879.14 L170.38,879.20 L169.50,879.23 L168.62,879.26 L167.73,879.27 L166.85,879.28 L165.97,879.29 L165.08,879.30 L164.20,879.30 L163.32,879.30 L162.43,879.29 L161.55,879.28 L160.67,879.27 L159.78,879.26 L158.90,879.23 L158.02,879.20 L157.13,879.14 L156.25,879.02 L155.37,878.79 L154.48,878.30 L153.60,876.30 Z" fill="#0a0a0a" fill-opacity="1.0" filter="url(#bl2)"/>
<path d="M175.60,876.30 L176.47,874.30 L177.35,873.81 L178.22,873.58 L179.10,873.46 L179.97,873.40 L180.85,873.37 L181.72,873.34 L182.60,873.33 L183.47,873.32 L184.35,873.31 L185.22,873.30 L186.10,873.30 L186.97,873.30 L187.85,873.31 L188.72,873.32 L189.60,873.33 L190.47,873.34 L191.35,873.37 L192.22,873.40 L193.10,873.46 L193.97,873.58 L194.85,873.81 L195.72,874.30 L196.60,876.30 L196.60,876.30 L195.72,878.30 L194.85,878.79 L193.97,879.02 L193.10,879.14 L192.22,879.20 L191.35,879.23 L190.47,879.26 L189.60,879.27 L188.72,879.28 L187.85,879.29 L186.97,879.30 L186.10,879.30 L185.22,879.30 L184.35,879.29 L183.47,879.28 L182.60,879.27 L181.72,879.26 L180.85,879.23 L179.97,879.20 L179.10,879.14 L178.22,879.02 L177.35,878.79 L176.47,878.30 L175.60,876.30 Z" fill="#0a0a0a" fill-opacity="1.0" filter="url(#bl2)"/>
<path d="M238.00,878.40 L238.86,876.34 L239.72,875.83 L240.57,875.59 L241.43,875.47 L242.29,875.41 L243.15,875.37 L244.01,875.35 L244.87,875.33 L245.73,875.32 L246.58,875.31 L247.44,875.30 L248.30,875.30 L249.16,875.30 L250.02,875.31 L250.88,875.32 L251.73,875.33 L252.59,875.35 L253.45,875.37 L254.31,875.41 L255.17,875.47 L256.03,875.59 L256.88,875.83 L257.74,876.34 L258.60,878.40 L258.60,878.40 L257.74,880.46 L256.88,880.97 L256.03,881.21 L255.17,881.33 L254.31,881.39 L253.45,881.43 L252.59,881.45 L251.73,881.47 L250.88,881.48 L250.02,881.49 L249.16,881.50 L248.30,881.50 L247.44,881.50 L246.58,881.49 L245.73,881.48 L244.87,881.47 L244.01,881.45 L243.15,881.43 L242.29,881.39 L241.43,881.33 L240.57,881.21 L239.72,880.97 L238.86,880.46 L238.00,878.40 Z" fill="#0a0a0a" fill-opacity="1.0" filter="url(#bl2)"/>
<path d="M260.60,878.20 L261.48,876.14 L262.35,875.63 L263.23,875.39 L264.10,875.27 L264.98,875.21 L265.85,875.17 L266.73,875.15 L267.60,875.13 L268.48,875.12 L269.35,875.11 L270.23,875.10 L271.10,875.10 L271.98,875.10 L272.85,875.11 L273.73,875.12 L274.60,875.13 L275.48,875.15 L276.35,875.17 L277.23,875.21 L278.10,875.27 L278.98,875.39 L279.85,875.63 L280.73,876.14 L281.60,878.20 L281.60,878.20 L280.73,880.26 L279.85,880.77 L278.98,881.01 L278.10,881.13 L277.23,881.19 L276.35,881.23 L275.48,881.25 L274.60,881.27 L273.73,881.28 L272.85,881.29 L271.98,881.30 L271.10,881.30 L270.23,881.30 L269.35,881.29 L268.48,881.28 L267.60,881.27 L266.73,881.25 L265.85,881.23 L264.98,881.19 L264.10,881.13 L263.23,881.01 L262.35,880.77 L261.48,880.26 L260.60,878.20 Z" fill="#0a0a0a" fill-opacity="1.0" filter="url(#bl2)"/>
<text x="300.50" y="847.60" font-size="9" font-weight="normal" text-anchor="start" fill="#111"  stroke="#111" stroke-width="0.22">Cyclin D2</text>
<text x="300.50" y="881.20" font-size="9" font-weight="normal" text-anchor="start" fill="#111"  stroke="#111" stroke-width="0.22">Actin</text>
<rect x="39.90" y="837.40" width="5.4" height="3.2" fill="#111"/>
<rect x="39.90" y="882.50" width="5.4" height="3.2" fill="#111"/>
<text x="39.40" y="841.20" font-size="6.6" font-weight="normal" text-anchor="end" fill="#222"  stroke="#222" stroke-width="0.22">kDa: 37</text>
<text x="39.40" y="886.30" font-size="6.6" font-weight="normal" text-anchor="end" fill="#222"  stroke="#222" stroke-width="0.22">37</text>
<text x="405.20" y="811.40" font-size="8.9" font-weight="normal" text-anchor="end" fill="#222"  stroke="#222" stroke-width="0.22">Mutant:</text>
<text x="354.90" y="825.40" font-size="8.9" font-weight="normal" text-anchor="start" fill="#222"  stroke="#222" stroke-width="0.22">PIM447(1µM):</text>
<text x="432.40" y="804.90" font-size="9" font-weight="normal" text-anchor="middle" fill="#222"  stroke="#222" stroke-width="0.22">J3Q988P</text>
<line x1="412.20" y1="809.60" x2="452.10" y2="809.60" stroke="#111" stroke-width="1.3" />
<text x="521.80" y="804.90" font-size="9" font-weight="normal" text-anchor="middle" fill="#222"  stroke="#222" stroke-width="0.22">J1V658F</text>
<line x1="501.90" y1="809.60" x2="542.10" y2="809.60" stroke="#111" stroke-width="1.3" />
<text x="606.30" y="804.90" font-size="9" font-weight="normal" text-anchor="middle" fill="#222"  stroke="#222" stroke-width="0.22">S5N642H</text>
<line x1="585.40" y1="809.60" x2="625.60" y2="809.60" stroke="#111" stroke-width="1.3" />
<text x="417.80" y="825.40" font-size="9" font-weight="normal" text-anchor="middle" fill="#222"  stroke="#222" stroke-width="0.22">-</text>
<text x="441.30" y="825.40" font-size="9" font-weight="normal" text-anchor="middle" fill="#222"  stroke="#222" stroke-width="0.22">+</text>
<text x="507.70" y="825.40" font-size="9" font-weight="normal" text-anchor="middle" fill="#222"  stroke="#222" stroke-width="0.22">-</text>
<text x="530.80" y="825.40" font-size="9" font-weight="normal" text-anchor="middle" fill="#222"  stroke="#222" stroke-width="0.22">+</text>
<text x="591.20" y="825.40" font-size="9" font-weight="normal" text-anchor="middle" fill="#222"  stroke="#222" stroke-width="0.22">-</text>
<text x="614.30" y="825.40" font-size="9" font-weight="normal" text-anchor="middle" fill="#222"  stroke="#222" stroke-width="0.22">+</text>
<rect x="390.20" y="832.10" width="79.80" height="24.80" fill="#e6e6e6" stroke="#111" stroke-width="1.7"/>
<rect x="390.20" y="862.80" width="79.80" height="25.70" fill="#e6e6e6" stroke="#111" stroke-width="1.7"/>
<rect x="478.00" y="832.10" width="78.80" height="24.80" fill="#e6e6e6" stroke="#111" stroke-width="1.7"/>
<rect x="478.00" y="862.80" width="78.80" height="25.70" fill="#e6e6e6" stroke="#111" stroke-width="1.7"/>
<rect x="563.80" y="832.10" width="79.40" height="24.80" fill="#e6e6e6" stroke="#111" stroke-width="1.7"/>
<rect x="563.80" y="862.80" width="79.40" height="25.70" fill="#e6e6e6" stroke="#111" stroke-width="1.7"/>
<path d="M409.20,848.70 L409.94,847.40 L410.68,847.07 L411.41,846.91 L412.15,846.82 L412.89,846.77 L413.62,846.73 L414.36,846.70 L415.10,846.67 L415.84,846.64 L416.57,846.61 L417.31,846.58 L418.05,846.55 L418.79,846.52 L419.52,846.49 L420.26,846.46 L421.00,846.43 L421.74,846.41 L422.47,846.38 L423.21,846.36 L423.95,846.36 L424.69,846.41 L425.42,846.56 L426.16,846.95 L426.90,848.70 L426.90,848.70 L426.16,850.45 L425.42,850.84 L424.69,850.99 L423.95,851.04 L423.21,851.04 L422.47,851.02 L421.74,850.99 L421.00,850.97 L420.26,850.94 L419.52,850.91 L418.79,850.88 L418.05,850.85 L417.31,850.82 L416.57,850.79 L415.84,850.76 L415.10,850.73 L414.36,850.70 L413.62,850.67 L412.89,850.63 L412.15,850.58 L411.41,850.49 L410.68,850.33 L409.94,850.00 L409.20,848.70 Z" fill="#0a0a0a" fill-opacity="1.0" filter="url(#bl2)"/>
<path d="M432.00,847.00 L432.73,846.12 L433.47,845.89 L434.20,845.78 L434.93,845.72 L435.67,845.69 L436.40,845.66 L437.13,845.64 L437.87,845.62 L438.60,845.60 L439.33,845.58 L440.07,845.56 L440.80,845.54 L441.53,845.52 L442.27,845.50 L443.00,845.48 L443.73,845.46 L444.47,845.44 L445.20,845.42 L445.93,845.41 L446.67,845.41 L447.40,845.44 L448.13,845.55 L448.87,845.81 L449.60,847.00 L449.60,847.00 L448.87,848.19 L448.13,848.45 L447.40,848.56 L446.67,848.59 L445.93,848.59 L445.20,848.58 L444.47,848.56 L443.73,848.54 L443.00,848.52 L442.27,848.50 L441.53,848.48 L440.80,848.46 L440.07,848.44 L439.33,848.42 L438.60,848.40 L437.87,848.38 L437.13,848.36 L436.40,848.34 L435.67,848.31 L434.93,848.28 L434.20,848.22 L433.47,848.11 L432.73,847.88 L432.00,847.00 Z" fill="#3a3a3a" fill-opacity="0.5" filter="url(#bl)"/>
<path d="M495.50,846.70 L496.30,845.59 L497.11,845.30 L497.91,845.16 L498.72,845.08 L499.52,845.04 L500.32,845.00 L501.13,844.98 L501.93,844.95 L502.74,844.93 L503.54,844.90 L504.35,844.88 L505.15,844.85 L505.95,844.83 L506.76,844.80 L507.56,844.78 L508.37,844.75 L509.17,844.73 L509.97,844.70 L510.78,844.69 L511.58,844.69 L512.39,844.73 L513.19,844.86 L514.00,845.20 L514.80,846.70 L514.80,846.70 L514.00,848.20 L513.19,848.54 L512.39,848.67 L511.58,848.71 L510.78,848.71 L509.97,848.70 L509.17,848.67 L508.37,848.65 L507.56,848.62 L506.76,848.60 L505.95,848.57 L505.15,848.55 L504.35,848.52 L503.54,848.50 L502.74,848.47 L501.93,848.45 L501.13,848.42 L500.32,848.40 L499.52,848.36 L498.72,848.32 L497.91,848.24 L497.11,848.10 L496.30,847.81 L495.50,846.70 Z" fill="#0a0a0a" fill-opacity="1.0" filter="url(#bl2)"/>
<path d="M519.60,846.70 L520.38,845.82 L521.15,845.59 L521.93,845.48 L522.70,845.42 L523.48,845.39 L524.25,845.36 L525.02,845.34 L525.80,845.32 L526.58,845.30 L527.35,845.28 L528.12,845.26 L528.90,845.24 L529.68,845.22 L530.45,845.20 L531.23,845.18 L532.00,845.16 L532.78,845.14 L533.55,845.12 L534.33,845.11 L535.10,845.11 L535.88,845.14 L536.65,845.25 L537.43,845.51 L538.20,846.70 L538.20,846.70 L537.43,847.89 L536.65,848.15 L535.88,848.26 L535.10,848.29 L534.33,848.29 L533.55,848.28 L532.78,848.26 L532.00,848.24 L531.23,848.22 L530.45,848.20 L529.68,848.18 L528.90,848.16 L528.12,848.14 L527.35,848.12 L526.58,848.10 L525.80,848.08 L525.02,848.06 L524.25,848.04 L523.48,848.01 L522.70,847.98 L521.93,847.92 L521.15,847.81 L520.38,847.58 L519.60,846.70 Z" fill="#2a2a2a" fill-opacity="0.72" filter="url(#bl)"/>
<path d="M584.50,846.00 L585.30,844.83 L586.10,844.53 L586.90,844.39 L587.70,844.31 L588.50,844.26 L589.30,844.23 L590.10,844.20 L590.90,844.17 L591.70,844.14 L592.50,844.12 L593.30,844.09 L594.10,844.07 L594.90,844.04 L595.70,844.01 L596.50,843.99 L597.30,843.96 L598.10,843.93 L598.90,843.91 L599.70,843.90 L600.50,843.90 L601.30,843.94 L602.10,844.07 L602.90,844.43 L603.70,846.00 L603.70,846.00 L602.90,847.57 L602.10,847.93 L601.30,848.06 L600.50,848.10 L599.70,848.10 L598.90,848.09 L598.10,848.07 L597.30,848.04 L596.50,848.01 L595.70,847.99 L594.90,847.96 L594.10,847.93 L593.30,847.91 L592.50,847.88 L591.70,847.86 L590.90,847.83 L590.10,847.80 L589.30,847.77 L588.50,847.74 L587.70,847.69 L586.90,847.61 L586.10,847.47 L585.30,847.17 L584.50,846.00 Z" fill="#0a0a0a" fill-opacity="1.0" filter="url(#bl2)"/>
<path d="M607.90,846.30 L608.66,845.42 L609.42,845.19 L610.19,845.08 L610.95,845.02 L611.71,844.99 L612.48,844.96 L613.24,844.94 L614.00,844.92 L614.76,844.90 L615.52,844.88 L616.29,844.86 L617.05,844.84 L617.81,844.82 L618.58,844.80 L619.34,844.78 L620.10,844.76 L620.86,844.74 L621.62,844.72 L622.39,844.71 L623.15,844.71 L623.91,844.74 L624.68,844.85 L625.44,845.11 L626.20,846.30 L626.20,846.30 L625.44,847.49 L624.68,847.75 L623.91,847.86 L623.15,847.89 L622.39,847.89 L621.62,847.88 L620.86,847.86 L620.10,847.84 L619.34,847.82 L618.58,847.80 L617.81,847.78 L617.05,847.76 L616.29,847.74 L615.52,847.72 L614.76,847.70 L614.00,847.68 L613.24,847.66 L612.48,847.64 L611.71,847.61 L610.95,847.58 L610.19,847.52 L609.42,847.41 L608.66,847.18 L607.90,846.30 Z" fill="#3a3a3a" fill-opacity="0.6" filter="url(#bl)"/>
<path d="M408.70,879.00 L409.57,876.94 L410.43,876.43 L411.30,876.19 L412.17,876.07 L413.03,876.01 L413.90,875.97 L414.77,875.95 L415.63,875.93 L416.50,875.92 L417.37,875.91 L418.23,875.90 L419.10,875.90 L419.97,875.90 L420.83,875.91 L421.70,875.92 L422.57,875.93 L423.43,875.95 L424.30,875.97 L425.17,876.01 L426.03,876.07 L426.90,876.19 L427.77,876.43 L428.63,876.94 L429.50,879.00 L429.50,879.00 L428.63,881.06 L427.77,881.57 L426.90,881.81 L426.03,881.93 L425.17,881.99 L424.30,882.03 L423.43,882.05 L422.57,882.07 L421.70,882.08 L420.83,882.09 L419.97,882.10 L419.10,882.10 L418.23,882.10 L417.37,882.09 L416.50,882.08 L415.63,882.07 L414.77,882.05 L413.90,882.03 L413.03,881.99 L412.17,881.93 L411.30,881.81 L410.43,881.57 L409.57,881.06 L408.70,879.00 Z" fill="#0a0a0a" fill-opacity="1.0" filter="url(#bl2)"/>
<path d="M430.20,877.80 L431.08,875.74 L431.97,875.23 L432.85,874.99 L433.73,874.87 L434.62,874.81 L435.50,874.77 L436.38,874.75 L437.27,874.73 L438.15,874.72 L439.03,874.71 L439.92,874.70 L440.80,874.70 L441.68,874.70 L442.57,874.71 L443.45,874.72 L444.33,874.73 L445.22,874.75 L446.10,874.77 L446.98,874.81 L447.87,874.87 L448.75,874.99 L449.63,875.23 L450.52,875.74 L451.40,877.80 L451.40,877.80 L450.52,879.86 L449.63,880.37 L448.75,880.61 L447.87,880.73 L446.98,880.79 L446.10,880.83 L445.22,880.85 L444.33,880.87 L443.45,880.88 L442.57,880.89 L441.68,880.90 L440.80,880.90 L439.92,880.90 L439.03,880.89 L438.15,880.88 L437.27,880.87 L436.38,880.85 L435.50,880.83 L434.62,880.79 L433.73,880.73 L432.85,880.61 L431.97,880.37 L431.08,879.86 L430.20,877.80 Z" fill="#0a0a0a" fill-opacity="1.0" filter="url(#bl2)"/>
<path d="M495.00,878.20 L495.88,876.20 L496.75,875.71 L497.62,875.48 L498.50,875.36 L499.38,875.30 L500.25,875.27 L501.12,875.24 L502.00,875.23 L502.88,875.22 L503.75,875.21 L504.62,875.20 L505.50,875.20 L506.38,875.20 L507.25,875.21 L508.12,875.22 L509.00,875.23 L509.88,875.24 L510.75,875.27 L511.62,875.30 L512.50,875.36 L513.38,875.48 L514.25,875.71 L515.12,876.20 L516.00,878.20 L516.00,878.20 L515.12,880.20 L514.25,880.69 L513.38,880.92 L512.50,881.04 L511.62,881.10 L510.75,881.13 L509.88,881.16 L509.00,881.17 L508.12,881.18 L507.25,881.19 L506.38,881.20 L505.50,881.20 L504.62,881.20 L503.75,881.19 L502.88,881.18 L502.00,881.17 L501.12,881.16 L500.25,881.13 L499.38,881.10 L498.50,881.04 L497.62,880.92 L496.75,880.69 L495.88,880.20 L495.00,878.20 Z" fill="#0a0a0a" fill-opacity="1.0" filter="url(#bl2)"/>
<path d="M517.50,878.00 L518.40,876.00 L519.29,875.51 L520.19,875.28 L521.08,875.16 L521.98,875.10 L522.88,875.07 L523.77,875.04 L524.67,875.03 L525.56,875.02 L526.46,875.01 L527.35,875.00 L528.25,875.00 L529.15,875.00 L530.04,875.01 L530.94,875.02 L531.83,875.03 L532.73,875.04 L533.62,875.07 L534.52,875.10 L535.42,875.16 L536.31,875.28 L537.21,875.51 L538.10,876.00 L539.00,878.00 L539.00,878.00 L538.10,880.00 L537.21,880.49 L536.31,880.72 L535.42,880.84 L534.52,880.90 L533.62,880.93 L532.73,880.96 L531.83,880.97 L530.94,880.98 L530.04,880.99 L529.15,881.00 L528.25,881.00 L527.35,881.00 L526.46,880.99 L525.56,880.98 L524.67,880.97 L523.77,880.96 L522.88,880.93 L521.98,880.90 L521.08,880.84 L520.19,880.72 L519.29,880.49 L518.40,880.00 L517.50,878.00 Z" fill="#0a0a0a" fill-opacity="1.0" filter="url(#bl2)"/>
<path d="M583.00,878.40 L583.90,876.27 L584.79,875.74 L585.69,875.50 L586.58,875.37 L587.48,875.31 L588.38,875.27 L589.27,875.25 L590.17,875.23 L591.06,875.22 L591.96,875.21 L592.85,875.20 L593.75,875.20 L594.65,875.20 L595.54,875.21 L596.44,875.22 L597.33,875.23 L598.23,875.25 L599.12,875.27 L600.02,875.31 L600.92,875.37 L601.81,875.50 L602.71,875.74 L603.60,876.27 L604.50,878.40 L604.50,878.40 L603.60,880.53 L602.71,881.06 L601.81,881.30 L600.92,881.43 L600.02,881.49 L599.12,881.53 L598.23,881.55 L597.33,881.57 L596.44,881.58 L595.54,881.59 L594.65,881.60 L593.75,881.60 L592.85,881.60 L591.96,881.59 L591.06,881.58 L590.17,881.57 L589.27,881.55 L588.38,881.53 L587.48,881.49 L586.58,881.43 L585.69,881.30 L584.79,881.06 L583.90,880.53 L583.00,878.40 Z" fill="#0a0a0a" fill-opacity="1.0" filter="url(#bl2)"/>
<path d="M605.50,878.00 L606.44,875.87 L607.38,875.34 L608.31,875.10 L609.25,874.97 L610.19,874.91 L611.12,874.87 L612.06,874.85 L613.00,874.83 L613.94,874.82 L614.88,874.81 L615.81,874.80 L616.75,874.80 L617.69,874.80 L618.62,874.81 L619.56,874.82 L620.50,874.83 L621.44,874.85 L622.38,874.87 L623.31,874.91 L624.25,874.97 L625.19,875.10 L626.12,875.34 L627.06,875.87 L628.00,878.00 L628.00,878.00 L627.06,880.13 L626.12,880.66 L625.19,880.90 L624.25,881.03 L623.31,881.09 L622.38,881.13 L621.44,881.15 L620.50,881.17 L619.56,881.18 L618.62,881.19 L617.69,881.20 L616.75,881.20 L615.81,881.20 L614.88,881.19 L613.94,881.18 L613.00,881.17 L612.06,881.15 L611.12,881.13 L610.19,881.09 L609.25,881.03 L608.31,880.90 L607.38,880.66 L606.44,880.13 L605.50,878.00 Z" fill="#0a0a0a" fill-opacity="1.0" filter="url(#bl2)"/>
<text x="646.40" y="847.60" font-size="9" font-weight="normal" text-anchor="start" fill="#111"  stroke="#111" stroke-width="0.22">Cyclin D2</text>
<text x="646.40" y="881.20" font-size="9" font-weight="normal" text-anchor="start" fill="#111"  stroke="#111" stroke-width="0.22">Actin</text>
<rect x="384.10" y="841.00" width="5.4" height="3.2" fill="#111"/>
<rect x="384.10" y="883.00" width="5.4" height="3.2" fill="#111"/>
<text x="383.60" y="844.80" font-size="6.6" font-weight="normal" text-anchor="end" fill="#222"  stroke="#222" stroke-width="0.22">kDa:37</text>
<text x="383.60" y="886.80" font-size="6.6" font-weight="normal" text-anchor="end" fill="#222"  stroke="#222" stroke-width="0.22">37</text>
</svg></body></html>
